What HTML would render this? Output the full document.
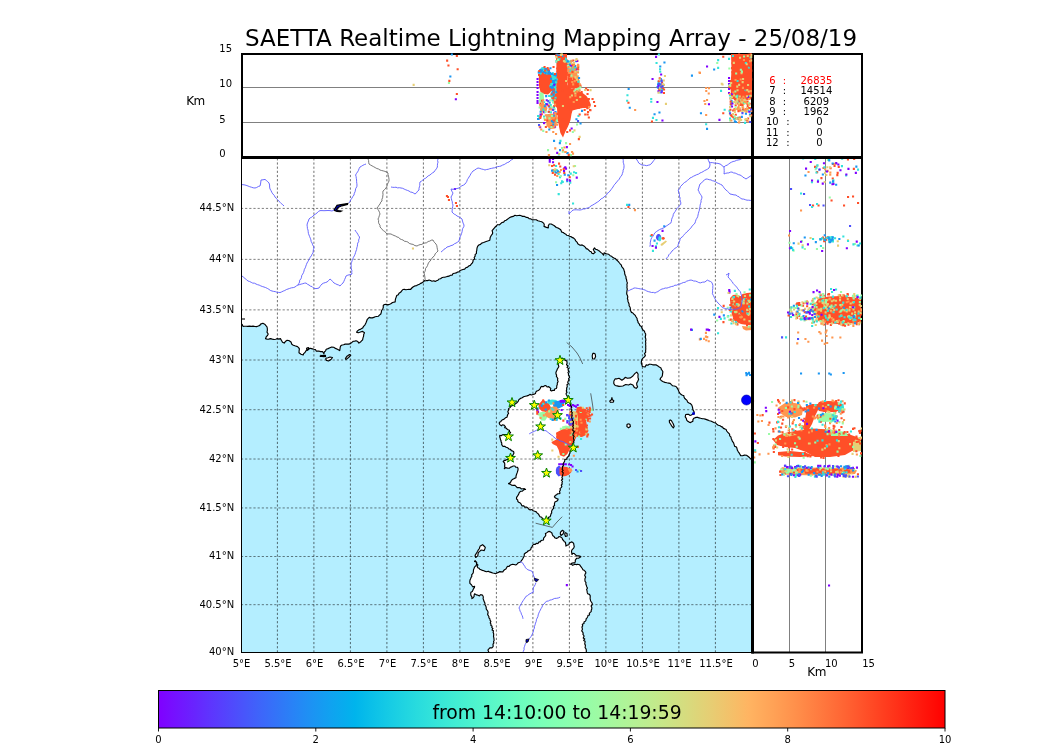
<!DOCTYPE html><html><head><meta charset="utf-8"><style>html,body{margin:0;padding:0;background:#fff;width:1050px;height:750px;overflow:hidden}svg{display:block}text{font-family:"DejaVu Sans","Liberation Sans",sans-serif}</style></head><body>
<svg width="1050" height="750" viewBox="0 0 1050 750">
<defs><linearGradient id="cb" x1="0" x2="1" y1="0" y2="0"><stop offset="0.0000" stop-color="#8000ff"/><stop offset="0.0156" stop-color="#780dff"/><stop offset="0.0312" stop-color="#7019ff"/><stop offset="0.0469" stop-color="#6825fe"/><stop offset="0.0625" stop-color="#6032fe"/><stop offset="0.0781" stop-color="#583efd"/><stop offset="0.0938" stop-color="#504afc"/><stop offset="0.1094" stop-color="#4856fb"/><stop offset="0.1250" stop-color="#4062fa"/><stop offset="0.1406" stop-color="#386df9"/><stop offset="0.1562" stop-color="#3078f7"/><stop offset="0.1719" stop-color="#2883f6"/><stop offset="0.1875" stop-color="#208ef4"/><stop offset="0.2031" stop-color="#1898f2"/><stop offset="0.2188" stop-color="#10a2f0"/><stop offset="0.2344" stop-color="#08abee"/><stop offset="0.2500" stop-color="#00b4ec"/><stop offset="0.2656" stop-color="#08bde9"/><stop offset="0.2812" stop-color="#10c5e7"/><stop offset="0.2969" stop-color="#18cde4"/><stop offset="0.3125" stop-color="#20d4e1"/><stop offset="0.3281" stop-color="#28dbde"/><stop offset="0.3438" stop-color="#30e1db"/><stop offset="0.3594" stop-color="#38e7d7"/><stop offset="0.3750" stop-color="#40ecd4"/><stop offset="0.3906" stop-color="#48f0d0"/><stop offset="0.4062" stop-color="#50f4cd"/><stop offset="0.4219" stop-color="#58f7c9"/><stop offset="0.4375" stop-color="#60fac5"/><stop offset="0.4531" stop-color="#68fcc1"/><stop offset="0.4688" stop-color="#70febd"/><stop offset="0.4844" stop-color="#78ffb9"/><stop offset="0.5000" stop-color="#80ffb4"/><stop offset="0.5156" stop-color="#87ffb0"/><stop offset="0.5312" stop-color="#8ffeab"/><stop offset="0.5469" stop-color="#97fca7"/><stop offset="0.5625" stop-color="#9ffaa2"/><stop offset="0.5781" stop-color="#a7f79d"/><stop offset="0.5938" stop-color="#aff498"/><stop offset="0.6094" stop-color="#b7f093"/><stop offset="0.6250" stop-color="#bfec8e"/><stop offset="0.6406" stop-color="#c7e788"/><stop offset="0.6562" stop-color="#cfe183"/><stop offset="0.6719" stop-color="#d7db7e"/><stop offset="0.6875" stop-color="#dfd478"/><stop offset="0.7031" stop-color="#e7cd73"/><stop offset="0.7188" stop-color="#efc56d"/><stop offset="0.7344" stop-color="#f7bd67"/><stop offset="0.7500" stop-color="#ffb462"/><stop offset="0.7656" stop-color="#ffab5c"/><stop offset="0.7812" stop-color="#ffa256"/><stop offset="0.7969" stop-color="#ff9850"/><stop offset="0.8125" stop-color="#ff8e4a"/><stop offset="0.8281" stop-color="#ff8344"/><stop offset="0.8438" stop-color="#ff783e"/><stop offset="0.8594" stop-color="#ff6d38"/><stop offset="0.8750" stop-color="#ff6232"/><stop offset="0.8906" stop-color="#ff562c"/><stop offset="0.9062" stop-color="#ff4a25"/><stop offset="0.9219" stop-color="#ff3e1f"/><stop offset="0.9375" stop-color="#ff3219"/><stop offset="0.9531" stop-color="#ff2513"/><stop offset="0.9688" stop-color="#ff190d"/><stop offset="0.9844" stop-color="#ff0d06"/><stop offset="1.0000" stop-color="#ff0000"/></linearGradient>
<clipPath id="mapclip"><rect x="241.0" y="157.0" width="511.0" height="495.5"/></clipPath>
<clipPath id="topclip"><rect x="243" y="53" width="509.4" height="104"/></clipPath>
<clipPath id="rightclip"><rect x="754" y="159" width="108" height="493"/></clipPath>
<symbol id="st" viewBox="-6 -6 12 12" overflow="visible"><polygon points="0.0,-4.7 1.2,-1.3 4.9,-1.2 1.9,1.0 3.0,4.5 0.0,2.4 -3.0,4.5 -1.9,1.0 -4.9,-1.2 -1.2,-1.3" fill="#ffff00" stroke="#008000" stroke-width="1.0" stroke-linejoin="miter"/></symbol>
</defs>
<text x="551" y="45.9" font-size="23" text-anchor="middle" fill="#000">SAETTA Realtime Lightning Mapping Array - 25/08/19</text>
<g clip-path="url(#mapclip)">
<rect x="241.0" y="157.0" width="511.0" height="495.5" fill="#b4eeff"/>
<polygon points="241.0,323.3 243.0,326.4 247.6,326.4 251.4,326.4 258.3,326.0 260.6,324.1 262.9,323.3 265.1,324.5 267.0,326.8 267.4,330.2 267.0,332.1 268.2,334.0 266.3,336.7 265.5,338.6 270.5,338.6 275.8,339.3 280.4,338.6 281.5,340.5 284.2,343.1 285.7,341.2 288.8,340.5 291.0,342.0 291.8,344.3 294.9,345.8 297.5,346.6 299.4,348.9 299.0,352.7 301.0,354.2 303.2,355.0 304.8,352.7 306.3,350.4 308.6,348.5 312.4,348.9 315.4,349.6 316.2,351.1 318.7,351.0 322.5,351.5 323.9,353.8 324.3,352.0 326.2,349.2 329.9,347.8 333.7,347.3 337.4,349.2 339.7,350.6 340.2,347.3 342.1,345.0 346.7,344.0 350.5,343.6 353.3,341.2 356.1,340.8 358.9,343.1 360.8,341.7 362.6,339.8 363.6,336.1 364.5,332.8 362.6,331.4 359.8,332.3 356.5,332.3 357.5,330.9 360.8,329.1 363.6,326.3 365.9,323.0 367.3,319.3 369.2,317.4 373.8,317.4 376.6,316.5 379.4,315.1 381.3,312.3 382.7,309.0 383.2,305.7 386.0,304.3 389.7,304.3 392.5,302.5 395.2,301.9 396.2,297.1 399.0,293.3 402.9,289.5 410.5,289.5 413.3,286.7 418.1,284.8 421.9,282.9 424.8,280.5 430.5,280.5 435.2,281.4 439.0,279.0 444.8,277.1 450.5,275.2 456.2,272.9 462.9,269.5 467.6,267.1 472.4,262.9 475.2,256.2 476.4,251.7 476.9,248.8 478.8,245.0 481.7,243.1 485.5,241.7 489.8,240.2 490.2,237.4 491.2,235.5 492.6,233.6 492.1,230.7 493.6,228.8 496.4,226.0 500.7,223.6 503.6,222.1 507.4,219.3 511.2,216.9 515.0,215.3 519.8,215.3 522.6,216.4 526.4,217.4 529.3,218.8 534.0,219.8 537.9,220.7 541.7,221.7 543.6,223.1 544.0,226.4 546.4,227.4 548.3,227.9 549.3,224.0 551.2,224.0 554.0,225.5 557.9,227.9 560.7,229.8 561.7,232.1 564.5,233.6 568.3,235.5 572.1,237.4 575.0,239.3 577.0,242.1 579.3,244.9 582.1,244.9 585.4,247.3 588.7,250.1 593.3,253.8 595.2,252.4 593.3,249.6 594.5,247.9 597.1,249.6 600.8,252.4 603.6,255.2 604.1,252.9 606.4,253.8 610.1,255.7 613.9,258.0 617.6,260.8 620.4,264.1 622.8,267.8 624.6,272.0 626.0,276.7 626.8,281.4 627.1,286.0 627.0,290.7 627.4,295.4 627.9,300.0 628.0,301.4 629.1,305.7 630.7,311.0 633.9,314.2 637.1,318.5 639.2,323.8 641.9,328.1 644.5,331.3 645.6,335.5 645.8,343.0 645.6,350.5 644.5,356.9 641.9,359.5 641.3,363.3 642.4,366.5 645.1,367.0 646.1,364.9 650.9,364.3 656.3,364.9 661.0,367.9 662.9,371.7 662.4,375.5 660.0,379.3 663.3,381.7 668.6,383.1 674.3,386.0 677.1,387.9 679.0,391.7 680.0,393.6 683.8,395.5 685.7,399.3 687.6,402.1 690.5,403.6 692.4,406.9 692.9,409.8 694.3,413.6 691.4,415.0 685.7,414.5 685.2,416.9 686.7,420.2 690.5,422.6 692.9,421.2 693.8,418.3 696.2,417.4 699.0,417.9 700.7,418.3 705.2,419.1 710.8,421.0 715.5,422.9 720.1,425.7 724.8,428.9 728.6,433.1 730.9,436.9 732.3,441.1 734.2,444.8 737.0,448.6 739.3,453.2 740.7,455.6 744.4,455.1 748.2,456.5 752.0,459.1 760.0,459.5 760.0,150.0 230.0,150.0 230.0,323.3" fill="#fff"/>
<polygon points="559.0,360.0 562.0,358.0 565.0,359.0 567.0,362.0 568.0,370.0 569.0,380.0 567.0,387.3 566.3,394.7 568.5,400.5 571.4,406.4 572.1,415.2 572.9,424.0 573.6,432.8 573.6,441.6 572.1,448.9 569.9,453.3 567.0,457.7 564.1,462.1 562.6,468.0 562.6,475.3 561.9,482.7 560.4,490.0 560.0,493.2 559.2,493.7 556.5,494.8 554.4,496.9 555.5,498.0 558.1,499.1 556.5,501.2 554.4,503.9 553.3,506.5 552.3,509.7 551.7,512.9 550.7,515.1 548.5,517.2 545.9,520.4 542.7,518.8 540.0,516.7 538.4,514.0 536.3,511.9 533.1,510.8 528.8,509.2 524.5,507.1 521.3,504.4 518.7,502.3 516.5,499.1 517.6,495.9 519.2,492.7 522.4,491.1 525.6,489.5 520.3,487.9 516.0,486.3 511.7,485.2 508.5,483.6 510.7,482.0 512.8,479.3 516.0,477.7 516.5,474.5 517.6,471.3 518.1,468.7 514.9,466.0 510.7,467.1 507.5,468.1 504.3,468.7 504.8,464.9 503.2,461.7 508.5,458.5 512.8,455.3 513.9,453.2 512.6,451.0 510.6,449.4 507.8,447.8 504.6,446.2 502.2,445.4 501.8,443.0 501.0,440.6 500.2,438.2 499.8,435.4 503.8,434.6 506.2,434.6 509.0,434.2 510.6,432.6 509.4,430.2 507.0,429.0 504.6,427.8 505.4,426.6 503.8,425.0 501.4,425.8 499.8,424.6 499.4,422.2 501.4,420.6 503.8,419.4 505.4,417.8 507.4,415.8 508.6,413.4 507.8,411.8 508.6,408.6 511.0,406.2 514.2,405.0 516.6,403.0 518.2,401.4 519.0,399.4 522.2,397.8 525.4,396.2 528.6,395.4 533.0,394.5 536.9,391.0 540.6,387.3 544.3,385.9 548.7,386.6 551.6,391.0 554.5,390.3 556.7,385.9 557.5,380.0 556.0,374.0 558.0,368.0 558.0,364.0" fill="#fff"/>
<polygon points="479.9,546.3 482.6,544.7 485.3,547.4 484.2,550.6 481.0,550.1 478.3,552.7 477.8,555.9 475.7,557.5 475.1,555.4 476.7,552.7 479.4,548.5" fill="#fff"/>
<polygon points="613.8,381.2 615.2,378.8 619.0,378.3 621.9,380.2 625.2,377.4 627.6,378.3 630.5,377.9 632.9,376.0 634.8,373.6 636.7,372.1 638.1,374.0 638.6,379.3 636.7,383.1 637.6,386.9 636.2,388.3 634.3,387.4 632.9,385.0 630.5,384.0 628.6,385.0 625.7,384.5 622.9,386.0 619.0,386.4 615.2,385.5 613.8,383.6" fill="#fff"/>
<polygon points="593.5,353.0 595.2,354.0 595.6,356.5 594.5,359.0 592.6,358.8 592.2,356.0 592.6,354.0" fill="#fff"/>
<polygon points="609.5,401.2 611.4,399.8 611.9,397.5 612.4,399.8 613.8,400.7 613.3,402.1 610.5,402.3" fill="#fff"/>
<polygon points="628.5,423.7 630.0,424.6 630.4,426.6 628.6,427.8 626.9,426.6 627.0,424.6" fill="#fff"/>
<polygon points="670.0,419.8 671.5,420.8 673.2,423.8 674.2,426.5 673.3,427.9 671.8,426.2 669.5,422.5 669.3,420.6" fill="#fff"/>
<polygon points="560.5,532.0 562.5,530.3 564.0,531.5 563.0,534.0 561.0,535.5 560.3,534.0" fill="#fff"/>
<polygon points="565.0,532.5 567.0,533.5 567.2,536.0 565.5,536.5 564.8,534.5" fill="#fff"/>
<polygon points="325.5,358.4 328.0,357.8 330.0,357.0 332.5,357.5 331.0,359.5 328.5,361.0 326.5,360.4" fill="#fff"/>
<polygon points="345.2,358.8 347.0,356.2 349.5,354.6 350.8,355.2 348.6,357.5 346.2,359.4" fill="#fff"/>
<polygon points="306.5,348.0 308.5,347.6 309.0,349.2 307.0,350.5" fill="#fff"/>
<polygon points="320.3,355.4 325.5,355.4 325.5,356.5 320.3,356.5" fill="#fff"/>
<polygon points="487.9,653.0 488.9,648.8 493.1,646.7 494.1,640.5 493.1,632.2 491.0,624.0 488.9,617.8 487.9,611.6 485.8,606.0 484.2,601.8 483.1,598.6 482.1,594.9 479.4,595.9 476.7,594.9 474.6,593.8 474.1,596.5 471.9,598.6 470.9,595.4 470.9,592.2 473.0,590.1 474.6,586.3 473.0,586.9 471.4,584.7 469.8,581.5 471.9,576.2 473.5,569.8 476.2,565.5 476.7,562.3 475.1,560.7 474.5,561.5 476.7,562.3 477.8,567.7 481.0,569.8 485.3,571.4 489.5,571.9 492.7,573.0 497.0,573.0 501.3,571.9 504.5,569.8 506.6,567.7 509.8,565.5 514.1,564.5 517.3,563.9 519.9,562.3 522.6,559.1 524.2,555.9 525.8,552.7 529.0,550.6 531.1,547.9 532.8,545.1 536.5,543.3 540.3,541.9 543.5,540.0 544.9,536.7 545.4,533.5 547.7,532.1 550.1,531.6 551.9,533.0 552.9,535.8 554.7,537.7 558.0,537.7 560.3,536.7 562.2,538.1 563.6,540.5 565.5,542.3 565.9,546.1 567.3,545.1 569.2,543.3 571.5,541.9 573.9,545.1 572.9,548.9 571.5,551.7 572.0,554.5 574.3,553.5 576.7,555.9 578.5,555.9 580.9,556.8 578.5,558.2 576.7,558.2 575.3,560.1 574.8,562.9 571.1,563.8 570.1,564.3 573.9,564.7 577.6,564.3 579.5,564.7 580.9,566.6 582.3,568.5 584.1,570.3 585.5,571.7 585.1,574.1 585.0,578.5 586.0,582.6 587.1,590.9 590.2,597.1 592.2,603.3 591.2,611.6 587.1,617.8 584.0,621.9 581.9,627.1 582.9,634.3 585.0,642.6 586.0,648.8 587.1,653.0 587.1,660.0 487.9,660.0" fill="#fff"/>
<line x1="240.9" y1="652.50" x2="752.0" y2="652.50" stroke="#000" stroke-opacity="0.5" stroke-width="1" stroke-dasharray="2.2,1.97"/>
<line x1="240.9" y1="604.68" x2="752.0" y2="604.68" stroke="#000" stroke-opacity="0.5" stroke-width="1" stroke-dasharray="2.2,1.97"/>
<line x1="240.9" y1="556.50" x2="752.0" y2="556.50" stroke="#000" stroke-opacity="0.5" stroke-width="1" stroke-dasharray="2.2,1.97"/>
<line x1="240.9" y1="507.95" x2="752.0" y2="507.95" stroke="#000" stroke-opacity="0.5" stroke-width="1" stroke-dasharray="2.2,1.97"/>
<line x1="240.9" y1="459.02" x2="752.0" y2="459.02" stroke="#000" stroke-opacity="0.5" stroke-width="1" stroke-dasharray="2.2,1.97"/>
<line x1="240.9" y1="409.71" x2="752.0" y2="409.71" stroke="#000" stroke-opacity="0.5" stroke-width="1" stroke-dasharray="2.2,1.97"/>
<line x1="240.9" y1="360.01" x2="752.0" y2="360.01" stroke="#000" stroke-opacity="0.5" stroke-width="1" stroke-dasharray="2.2,1.97"/>
<line x1="240.9" y1="309.89" x2="752.0" y2="309.89" stroke="#000" stroke-opacity="0.5" stroke-width="1" stroke-dasharray="2.2,1.97"/>
<line x1="240.9" y1="259.37" x2="752.0" y2="259.37" stroke="#000" stroke-opacity="0.5" stroke-width="1" stroke-dasharray="2.2,1.97"/>
<line x1="240.9" y1="208.41" x2="752.0" y2="208.41" stroke="#000" stroke-opacity="0.5" stroke-width="1" stroke-dasharray="2.2,1.97"/>
<line x1="240.9" y1="157.01" x2="752.0" y2="157.01" stroke="#000" stroke-opacity="0.5" stroke-width="1" stroke-dasharray="2.2,1.97"/>
<line x1="240.90" y1="652.5" x2="240.90" y2="157.0" stroke="#000" stroke-opacity="0.56" stroke-width="1" stroke-dasharray="2.2,1.97"/>
<line x1="277.40" y1="652.5" x2="277.40" y2="157.0" stroke="#000" stroke-opacity="0.56" stroke-width="1" stroke-dasharray="2.2,1.97"/>
<line x1="313.90" y1="652.5" x2="313.90" y2="157.0" stroke="#000" stroke-opacity="0.56" stroke-width="1" stroke-dasharray="2.2,1.97"/>
<line x1="350.40" y1="652.5" x2="350.40" y2="157.0" stroke="#000" stroke-opacity="0.56" stroke-width="1" stroke-dasharray="2.2,1.97"/>
<line x1="386.90" y1="652.5" x2="386.90" y2="157.0" stroke="#000" stroke-opacity="0.56" stroke-width="1" stroke-dasharray="2.2,1.97"/>
<line x1="423.40" y1="652.5" x2="423.40" y2="157.0" stroke="#000" stroke-opacity="0.56" stroke-width="1" stroke-dasharray="2.2,1.97"/>
<line x1="459.90" y1="652.5" x2="459.90" y2="157.0" stroke="#000" stroke-opacity="0.56" stroke-width="1" stroke-dasharray="2.2,1.97"/>
<line x1="496.40" y1="652.5" x2="496.40" y2="157.0" stroke="#000" stroke-opacity="0.56" stroke-width="1" stroke-dasharray="2.2,1.97"/>
<line x1="532.90" y1="652.5" x2="532.90" y2="157.0" stroke="#000" stroke-opacity="0.56" stroke-width="1" stroke-dasharray="2.2,1.97"/>
<line x1="569.40" y1="652.5" x2="569.40" y2="157.0" stroke="#000" stroke-opacity="0.56" stroke-width="1" stroke-dasharray="2.2,1.97"/>
<line x1="605.90" y1="652.5" x2="605.90" y2="157.0" stroke="#000" stroke-opacity="0.56" stroke-width="1" stroke-dasharray="2.2,1.97"/>
<line x1="642.40" y1="652.5" x2="642.40" y2="157.0" stroke="#000" stroke-opacity="0.56" stroke-width="1" stroke-dasharray="2.2,1.97"/>
<line x1="678.90" y1="652.5" x2="678.90" y2="157.0" stroke="#000" stroke-opacity="0.56" stroke-width="1" stroke-dasharray="2.2,1.97"/>
<line x1="715.40" y1="652.5" x2="715.40" y2="157.0" stroke="#000" stroke-opacity="0.56" stroke-width="1" stroke-dasharray="2.2,1.97"/>
<line x1="751.90" y1="652.5" x2="751.90" y2="157.0" stroke="#000" stroke-opacity="0.56" stroke-width="1" stroke-dasharray="2.2,1.97"/>
<polygon points="547.3,400.5 552.0,399.6 556.7,400.0 557.0,404.0 551.0,404.5 547.3,404.0" fill="#33e3da"/>
<polygon points="553.3,401.8 558.0,400.8 562.0,401.0 564.7,402.5 563.0,406.5 558.0,408.7 554.0,408.7 553.0,405.0" fill="#1a96f2"/>
<polygon points="559.3,400.3 563.0,399.6 566.0,400.3 565.5,402.7 560.0,402.7" fill="#8000ff"/>
<polygon points="539.3,412.5 543.0,411.8 547.3,412.5 547.5,417.0 545.0,420.7 541.0,420.5 539.3,417.0" fill="#99fca5"/>
<polygon points="550.7,417.5 554.0,416.8 558.0,417.2 557.5,420.7 552.0,421.0 550.5,419.5" fill="#1a96f2"/>
<polygon points="550.0,407.3 553.0,406.5 556.7,406.7 558.7,410.0 558.0,415.3 553.3,418.7 549.0,418.2 545.5,416.3 544.7,413.5 546.7,411.5" fill="#ff964f"/>
<polygon points="540.7,402.0 543.3,399.3 546.0,402.2 549.3,404.2 550.9,407.3 549.0,410.0 546.0,412.0 542.0,411.3 538.7,408.2 538.5,404.7" fill="#ff4f28"/>
<polygon points="576.7,407.3 581.0,406.5 584.0,408.0 586.0,411.5 589.5,413.0 591.0,416.0 588.0,418.0 586.0,421.0 587.0,426.0 588.5,431.0 586.0,435.0 582.0,437.0 577.0,436.7 575.3,430.0 575.3,418.0" fill="#ff4f28"/>
<polygon points="569.5,412.0 574.0,411.0 578.0,413.0 578.0,422.0 577.0,432.0 572.0,433.0 569.5,428.0" fill="#e6ce74"/>
<polygon points="562.0,426.5 566.0,425.5 570.0,426.5 569.5,431.0 562.5,431.0" fill="#99fca5"/>
<polygon points="556.0,432.7 562.0,429.5 568.0,428.7 573.3,428.5 576.7,431.0 576.5,436.7 573.3,443.3 570.0,448.7 567.3,454.0 564.0,456.7 560.0,455.3 558.7,450.0 556.7,446.0 552.7,444.0 551.3,442.0 554.0,440.7 556.7,439.3" fill="#ff4f28"/>
<polygon points="556.5,467.5 559.0,465.5 561.0,467.0 560.0,471.0 561.0,475.5 558.5,476.5 556.0,473.5 555.8,470.0" fill="#4d4ffc"/>
<polygon points="559.5,468.0 563.0,466.5 567.0,467.0 570.5,469.0 571.5,472.0 569.0,474.5 566.0,476.0 562.0,476.5 559.5,474.0" fill="#ff4f28"/>
<polygon points="567.5,468.5 571.5,468.3 572.5,471.0 569.5,472.5" fill="#ff964f"/>
<polygon points="661.2,237.3 661.1,238.2 660.9,239.0 660.4,239.6 659.9,240.2 659.3,240.5 658.6,240.6 657.9,240.5 657.3,240.2 656.8,239.6 656.3,239.0 656.1,238.2 656.0,237.3 656.1,236.4 656.3,235.7 656.8,235.0 657.3,234.4 657.9,234.1 658.6,234.0 659.3,234.1 659.9,234.4 660.4,235.0 660.9,235.7 661.1,236.4" fill="#4d4ffc"/>
<polygon points="661.4,238.8 661.3,239.5 661.2,240.1 660.9,240.6 660.6,241.1 660.2,241.3 659.8,241.4 659.4,241.3 659.0,241.1 658.7,240.6 658.4,240.1 658.3,239.5 658.2,238.8 658.3,238.1 658.4,237.5 658.7,237.0 659.0,236.5 659.4,236.3 659.8,236.2 660.2,236.3 660.6,236.5 660.9,237.0 661.2,237.5 661.3,238.1" fill="#33e3da"/>
<polygon points="664.9,238.4 664.8,238.7 664.7,239.1 664.4,239.3 664.1,239.5 663.6,239.7 663.2,239.7 662.8,239.7 662.4,239.5 662.0,239.3 661.7,239.1 661.6,238.7 661.5,238.4 661.6,238.1 661.7,237.8 662.0,237.5 662.4,237.3 662.8,237.1 663.2,237.1 663.6,237.1 664.1,237.3 664.4,237.5 664.7,237.8 664.8,238.1" fill="#ff4f28"/>
<polygon points="660.5,244.6 661.5,243.4 665.8,240.6 667.0,241.6 662.6,245.6 661.0,245.8" fill="#e6ce74"/>
<polygon points="730.0,298.0 733.0,295.0 737.0,294.5 740.5,296.5 742.5,294.0 747.0,293.0 752.0,292.5 752.0,325.5 748.0,325.0 744.0,324.5 741.0,324.0 737.5,322.5 734.0,319.5 732.0,315.0 731.0,310.0 730.5,305.0" fill="#ff4f28"/>
<polygon points="740.0,305.0 739.9,305.5 739.6,306.0 739.1,306.4 738.5,306.7 737.8,306.9 737.0,307.0 736.2,306.9 735.5,306.7 734.9,306.4 734.4,306.0 734.1,305.5 734.0,305.0 734.1,304.5 734.4,304.0 734.9,303.6 735.5,303.3 736.2,303.1 737.0,303.0 737.8,303.1 738.5,303.3 739.1,303.6 739.6,304.0 739.9,304.5" fill="#e6ce74"/>
<polygon points="747.5,300.0 747.4,300.5 747.2,300.9 746.8,301.3 746.2,301.6 745.6,301.7 745.0,301.8 744.4,301.7 743.8,301.6 743.2,301.3 742.8,300.9 742.6,300.5 742.5,300.0 742.6,299.5 742.8,299.1 743.2,298.7 743.8,298.4 744.4,298.3 745.0,298.2 745.6,298.3 746.2,298.4 746.8,298.7 747.2,299.1 747.4,299.5" fill="#e6ce74"/>
<polygon points="750.5,313.0 750.4,313.8 750.2,314.5 749.9,315.1 749.5,315.6 749.0,315.9 748.5,316.0 748.0,315.9 747.5,315.6 747.1,315.1 746.8,314.5 746.6,313.8 746.5,313.0 746.6,312.2 746.8,311.5 747.1,310.9 747.5,310.4 748.0,310.1 748.5,310.0 749.0,310.1 749.5,310.4 749.9,310.9 750.2,311.5 750.4,312.2" fill="#e6ce74"/>
<polygon points="743.0,317.0 742.9,317.4 742.7,317.8 742.4,318.1 742.0,318.3 741.5,318.4 741.0,318.5 740.5,318.4 740.0,318.3 739.6,318.1 739.3,317.8 739.1,317.4 739.0,317.0 739.1,316.6 739.3,316.2 739.6,315.9 740.0,315.7 740.5,315.6 741.0,315.5 741.5,315.6 742.0,315.7 742.4,315.9 742.7,316.2 742.9,316.6" fill="#ff964f"/>
<polygon points="742.0,326.0 747.0,326.5 751.0,325.5 752.0,326.0 752.0,330.0 746.0,330.5 743.0,329.0" fill="#ff964f"/>
<path d="M552.3 402.3h2.1v2.1h-2.1zM546.2 412.7h2.1v2.1h-2.1zM554.4 409.3h2.1v2.1h-2.1zM552.5 413.4h2.1v2.1h-2.1zM539.5 417.0h2.1v2.1h-2.1zM553.9 418.8h2.1v2.1h-2.1zM542.8 414.3h2.1v2.1h-2.1zM549.2 410.8h2.1v2.1h-2.1zM579.6 418.7h2.1v2.1h-2.1zM575.9 429.4h2.1v2.1h-2.1zM586.6 413.6h2.1v2.1h-2.1zM576.0 426.4h2.1v2.1h-2.1zM574.7 435.0h2.1v2.1h-2.1zM588.7 420.4h2.1v2.1h-2.1zM586.3 433.4h2.1v2.1h-2.1zM580.4 421.7h2.1v2.1h-2.1zM579.1 431.5h2.1v2.1h-2.1zM584.9 432.8h2.1v2.1h-2.1zM570.6 430.4h2.1v2.1h-2.1zM574.9 414.4h2.1v2.1h-2.1zM573.9 418.8h2.1v2.1h-2.1zM576.0 429.1h2.1v2.1h-2.1zM565.6 427.8h2.1v2.1h-2.1zM575.0 434.0h2.1v2.1h-2.1zM572.8 454.7h2.1v2.1h-2.1zM552.2 168.9h2.1v2.1h-2.1zM558.7 170.9h2.1v2.1h-2.1zM560.0 168.9h2.1v2.1h-2.1zM556.2 174.9h2.1v2.1h-2.1zM556.5 171.9h2.1v2.1h-2.1zM554.0 169.9h2.1v2.1h-2.1zM552.5 170.9h2.1v2.1h-2.1zM633.9 209.1h2.1v2.1h-2.1zM704.9 331.8h2.1v2.1h-2.1zM704.9 335.6h2.1v2.1h-2.1zM706.2 336.1h2.1v2.1h-2.1zM703.0 337.8h2.1v2.1h-2.1zM698.8 338.3h2.1v2.1h-2.1zM707.7 340.2h2.1v2.1h-2.1zM705.2 339.2h2.1v2.1h-2.1z" fill="#ff964f"/>
<path d="M537.1 407.2h2.1v2.1h-2.1zM549.6 402.4h2.1v2.1h-2.1zM542.2 402.8h2.1v2.1h-2.1zM552.2 408.7h2.1v2.1h-2.1zM555.6 418.5h2.1v2.1h-2.1zM550.6 407.4h2.1v2.1h-2.1zM559.8 417.4h2.1v2.1h-2.1zM549.7 417.9h2.1v2.1h-2.1zM553.0 413.2h2.1v2.1h-2.1zM572.1 417.5h2.1v2.1h-2.1zM568.2 419.7h2.1v2.1h-2.1zM580.0 437.9h2.1v2.1h-2.1zM555.0 164.9h2.1v2.1h-2.1zM555.7 168.9h2.1v2.1h-2.1zM559.0 176.2h2.1v2.1h-2.1zM561.0 180.2h2.1v2.1h-2.1zM560.2 182.2h2.1v2.1h-2.1zM561.7 180.9h2.1v2.1h-2.1zM569.7 172.6h2.1v2.1h-2.1zM569.2 181.6h2.1v2.1h-2.1zM573.0 171.2h2.1v2.1h-2.1zM575.0 171.9h2.1v2.1h-2.1zM557.7 193.2h2.1v2.1h-2.1zM553.5 170.4h2.1v2.1h-2.1zM557.5 172.9h2.1v2.1h-2.1zM626.0 203.8h2.1v2.1h-2.1zM572.0 202.5h2.1v2.1h-2.1zM557.6 192.9h2.1v2.1h-2.1zM649.8 235.0h2.1v2.1h-2.1zM655.9 242.4h2.1v2.1h-2.1zM654.9 245.2h2.1v2.1h-2.1zM651.9 249.8h2.1v2.1h-2.1zM717.0 307.1h2.1v2.1h-2.1zM719.8 317.8h2.1v2.1h-2.1zM723.5 317.3h2.1v2.1h-2.1zM727.2 315.1h2.1v2.1h-2.1zM731.9 319.6h2.1v2.1h-2.1zM735.7 322.4h2.1v2.1h-2.1zM717.0 332.2h2.1v2.1h-2.1zM748.7 288.4h2.1v2.1h-2.1zM748.0 305.5h2.1v2.1h-2.1zM732.2 296.5h2.1v2.1h-2.1zM730.2 310.3h2.1v2.1h-2.1zM746.4 312.4h2.1v2.1h-2.1zM734.8 320.7h2.1v2.1h-2.1zM730.4 322.4h2.1v2.1h-2.1zM733.8 289.8h2.1v2.1h-2.1zM729.5 310.4h2.1v2.1h-2.1zM743.9 297.8h2.1v2.1h-2.1zM732.9 296.1h2.1v2.1h-2.1zM735.5 303.5h2.1v2.1h-2.1zM750.1 298.7h2.1v2.1h-2.1zM745.6 299.3h2.1v2.1h-2.1z" fill="#33e3da"/>
<path d="M545.1 401.3h2.1v2.1h-2.1zM540.8 404.6h2.1v2.1h-2.1zM544.7 408.5h2.1v2.1h-2.1zM547.9 399.4h2.1v2.1h-2.1zM571.2 417.3h2.1v2.1h-2.1zM570.1 422.1h2.1v2.1h-2.1zM569.1 422.9h2.1v2.1h-2.1zM576.5 470.4h2.1v2.1h-2.1zM563.7 173.6h2.1v2.1h-2.1zM551.0 169.6h2.1v2.1h-2.1zM557.0 170.2h2.1v2.1h-2.1zM556.0 183.9h2.1v2.1h-2.1zM567.2 174.2h2.1v2.1h-2.1zM566.2 180.2h2.1v2.1h-2.1zM555.0 171.4h2.1v2.1h-2.1zM628.2 203.8h2.1v2.1h-2.1zM663.2 225.2h2.1v2.1h-2.1zM653.5 239.6h2.1v2.1h-2.1zM713.2 313.6h2.1v2.1h-2.1zM722.8 314.3h2.1v2.1h-2.1zM690.9 328.8h2.1v2.1h-2.1zM699.7 337.8h2.1v2.1h-2.1zM745.2 371.9h2.1v2.1h-2.1zM746.5 372.9h2.1v2.1h-2.1zM748.0 371.8h2.1v2.1h-2.1zM749.0 373.9h2.1v2.1h-2.1zM745.5 374.1h2.1v2.1h-2.1zM741.4 310.3h2.1v2.1h-2.1zM745.1 309.2h2.1v2.1h-2.1zM750.0 298.4h2.1v2.1h-2.1zM750.4 320.1h2.1v2.1h-2.1zM729.5 306.8h2.1v2.1h-2.1z" fill="#1a96f2"/>
<path d="M560.6 409.0h2.1v2.1h-2.1zM567.0 403.9h2.1v2.1h-2.1zM568.6 404.8h2.1v2.1h-2.1zM570.2 405.6h2.1v2.1h-2.1zM571.8 403.9h2.1v2.1h-2.1zM573.4 404.8h2.1v2.1h-2.1zM575.0 405.6h2.1v2.1h-2.1zM576.6 403.9h2.1v2.1h-2.1zM536.2 409.4h2.1v2.1h-2.1zM537.0 410.8h2.1v2.1h-2.1zM535.8 407.9h2.1v2.1h-2.1zM572.1 424.3h2.1v2.1h-2.1zM570.3 414.8h2.1v2.1h-2.1zM566.3 421.5h2.1v2.1h-2.1zM566.2 414.1h2.1v2.1h-2.1zM569.6 423.7h2.1v2.1h-2.1zM570.9 415.0h2.1v2.1h-2.1zM572.0 422.6h2.1v2.1h-2.1zM569.7 418.7h2.1v2.1h-2.1zM558.2 463.2h2.1v2.1h-2.1zM559.5 463.2h2.1v2.1h-2.1zM560.9 463.2h2.1v2.1h-2.1zM562.1 463.2h2.1v2.1h-2.1zM563.5 463.2h2.1v2.1h-2.1zM564.8 463.2h2.1v2.1h-2.1zM568.0 463.4h2.1v2.1h-2.1zM570.0 463.9h2.1v2.1h-2.1zM571.5 465.4h2.1v2.1h-2.1zM548.7 158.9h2.1v2.1h-2.1zM548.7 160.6h2.1v2.1h-2.1zM552.0 157.9h2.1v2.1h-2.1zM552.0 161.2h2.1v2.1h-2.1zM564.2 166.2h2.1v2.1h-2.1zM565.0 167.6h2.1v2.1h-2.1zM563.5 166.9h2.1v2.1h-2.1zM563.0 169.9h2.1v2.1h-2.1zM566.2 178.6h2.1v2.1h-2.1zM569.0 179.6h2.1v2.1h-2.1zM575.7 176.6h2.1v2.1h-2.1zM453.9 187.9h2.1v2.1h-2.1zM661.5 229.8h2.1v2.1h-2.1zM651.5 245.0h2.1v2.1h-2.1zM654.9 246.6h2.1v2.1h-2.1zM728.2 288.9h2.1v2.1h-2.1zM728.5 290.4h2.1v2.1h-2.1zM728.2 291.6h2.1v2.1h-2.1zM718.4 315.8h2.1v2.1h-2.1zM706.7 328.6h2.1v2.1h-2.1zM708.1 329.1h2.1v2.1h-2.1zM690.0 328.6h2.1v2.1h-2.1zM705.7 328.6h2.1v2.1h-2.1zM565.8 584.1h2.1v2.1h-2.1z" fill="#8000ff"/>
<path d="M548.2 410.3h2.1v2.1h-2.1zM537.7 413.3h2.1v2.1h-2.1zM564.2 417.8h2.1v2.1h-2.1zM586.6 433.0h2.1v2.1h-2.1zM590.9 408.8h2.1v2.1h-2.1zM588.7 411.0h2.1v2.1h-2.1zM579.7 410.9h2.1v2.1h-2.1zM585.0 418.7h2.1v2.1h-2.1zM585.4 427.5h2.1v2.1h-2.1zM562.3 453.0h2.1v2.1h-2.1zM569.7 434.4h2.1v2.1h-2.1zM564.7 443.3h2.1v2.1h-2.1zM571.5 432.6h2.1v2.1h-2.1zM559.8 427.8h2.1v2.1h-2.1zM578.0 435.4h2.1v2.1h-2.1zM578.5 468.9h2.1v2.1h-2.1zM559.7 174.9h2.1v2.1h-2.1zM555.0 181.2h2.1v2.1h-2.1zM572.2 174.2h2.1v2.1h-2.1zM574.0 164.9h2.1v2.1h-2.1zM716.1 319.4h2.1v2.1h-2.1zM728.2 318.8h2.1v2.1h-2.1zM741.4 300.3h2.1v2.1h-2.1zM733.8 311.0h2.1v2.1h-2.1zM735.5 293.1h2.1v2.1h-2.1zM738.6 312.8h2.1v2.1h-2.1zM737.6 295.3h2.1v2.1h-2.1zM742.5 302.0h2.1v2.1h-2.1zM734.6 311.2h2.1v2.1h-2.1zM726.7 306.7h2.1v2.1h-2.1zM732.5 303.2h2.1v2.1h-2.1zM750.3 325.1h2.1v2.1h-2.1zM749.0 294.3h2.1v2.1h-2.1zM743.5 291.2h2.1v2.1h-2.1zM746.2 297.9h2.1v2.1h-2.1zM731.2 299.3h2.1v2.1h-2.1zM747.6 325.7h2.1v2.1h-2.1zM748.6 300.8h2.1v2.1h-2.1zM726.7 315.6h2.1v2.1h-2.1z" fill="#99fca5"/>
<path d="M542.1 399.4h2.1v2.1h-2.1zM562.3 419.6h2.1v2.1h-2.1zM536.2 412.7h2.1v2.1h-2.1zM562.1 404.0h2.1v2.1h-2.1zM536.2 410.7h2.1v2.1h-2.1zM579.1 413.0h2.1v2.1h-2.1zM586.8 419.6h2.1v2.1h-2.1zM586.2 409.8h2.1v2.1h-2.1zM585.7 407.2h2.1v2.1h-2.1zM580.5 430.6h2.1v2.1h-2.1zM578.6 425.7h2.1v2.1h-2.1zM579.2 428.8h2.1v2.1h-2.1zM575.0 414.7h2.1v2.1h-2.1zM589.0 408.1h2.1v2.1h-2.1zM575.2 422.8h2.1v2.1h-2.1zM585.6 414.8h2.1v2.1h-2.1zM575.6 411.4h2.1v2.1h-2.1zM583.1 415.6h2.1v2.1h-2.1zM575.0 415.3h2.1v2.1h-2.1zM575.6 427.6h2.1v2.1h-2.1zM588.8 409.0h2.1v2.1h-2.1zM580.0 409.9h2.1v2.1h-2.1zM580.1 431.3h2.1v2.1h-2.1zM587.0 433.5h2.1v2.1h-2.1zM583.9 419.6h2.1v2.1h-2.1zM583.2 422.3h2.1v2.1h-2.1zM585.9 424.4h2.1v2.1h-2.1zM588.3 410.5h2.1v2.1h-2.1zM586.2 435.3h2.1v2.1h-2.1zM577.4 413.4h2.1v2.1h-2.1zM588.6 406.8h2.1v2.1h-2.1zM569.6 410.9h2.1v2.1h-2.1zM569.5 410.7h2.1v2.1h-2.1zM568.4 423.1h2.1v2.1h-2.1zM575.3 420.9h2.1v2.1h-2.1zM573.6 431.4h2.1v2.1h-2.1zM569.2 414.1h2.1v2.1h-2.1zM572.0 424.6h2.1v2.1h-2.1zM565.5 432.5h2.1v2.1h-2.1zM569.4 435.8h2.1v2.1h-2.1zM573.2 427.2h2.1v2.1h-2.1zM561.1 442.8h2.1v2.1h-2.1zM556.3 435.9h2.1v2.1h-2.1zM569.5 449.4h2.1v2.1h-2.1zM576.7 445.8h2.1v2.1h-2.1zM584.0 408.9h2.1v2.1h-2.1zM588.5 410.9h2.1v2.1h-2.1zM589.5 414.4h2.1v2.1h-2.1zM587.0 417.9h2.1v2.1h-2.1zM584.0 421.9h2.1v2.1h-2.1zM585.5 426.9h2.1v2.1h-2.1zM583.0 430.9h2.1v2.1h-2.1zM582.5 430.9h2.1v2.1h-2.1zM591.0 413.4h2.1v2.1h-2.1zM589.0 417.4h2.1v2.1h-2.1zM551.0 164.9h2.1v2.1h-2.1zM553.0 164.2h2.1v2.1h-2.1zM558.0 162.6h2.1v2.1h-2.1zM559.2 165.4h2.1v2.1h-2.1zM562.7 167.9h2.1v2.1h-2.1zM563.2 171.9h2.1v2.1h-2.1zM551.7 171.9h2.1v2.1h-2.1zM554.0 173.6h2.1v2.1h-2.1zM568.7 176.2h2.1v2.1h-2.1zM445.9 194.9h2.1v2.1h-2.1zM446.9 195.9h2.1v2.1h-2.1zM447.9 198.9h2.1v2.1h-2.1zM454.9 201.9h2.1v2.1h-2.1zM455.9 204.9h2.1v2.1h-2.1zM627.4 206.0h2.1v2.1h-2.1zM650.7 234.0h2.1v2.1h-2.1zM722.6 304.8h2.1v2.1h-2.1zM722.4 321.1h2.1v2.1h-2.1zM745.0 298.6h2.1v2.1h-2.1zM734.3 318.8h2.1v2.1h-2.1zM734.5 318.6h2.1v2.1h-2.1zM731.5 307.7h2.1v2.1h-2.1zM728.8 308.9h2.1v2.1h-2.1zM736.4 323.3h2.1v2.1h-2.1zM729.3 303.9h2.1v2.1h-2.1zM745.2 315.3h2.1v2.1h-2.1zM746.9 297.6h2.1v2.1h-2.1zM729.8 318.6h2.1v2.1h-2.1zM741.8 306.9h2.1v2.1h-2.1zM740.1 306.5h2.1v2.1h-2.1zM740.8 312.8h2.1v2.1h-2.1zM749.1 318.7h2.1v2.1h-2.1zM746.0 324.1h2.1v2.1h-2.1zM734.5 298.4h2.1v2.1h-2.1zM731.1 299.1h2.1v2.1h-2.1zM735.5 295.9h2.1v2.1h-2.1zM734.8 299.6h2.1v2.1h-2.1zM744.8 309.0h2.1v2.1h-2.1zM735.7 299.0h2.1v2.1h-2.1zM735.0 307.0h2.1v2.1h-2.1zM733.2 314.4h2.1v2.1h-2.1zM733.7 302.9h2.1v2.1h-2.1zM747.0 321.6h2.1v2.1h-2.1zM737.0 318.6h2.1v2.1h-2.1zM743.6 320.8h2.1v2.1h-2.1zM731.2 319.7h2.1v2.1h-2.1zM736.6 300.3h2.1v2.1h-2.1zM750.4 302.1h2.1v2.1h-2.1zM735.5 305.4h2.1v2.1h-2.1zM743.7 295.9h2.1v2.1h-2.1zM730.7 301.7h2.1v2.1h-2.1zM738.5 314.2h2.1v2.1h-2.1zM747.0 310.4h2.1v2.1h-2.1zM742.9 309.0h2.1v2.1h-2.1zM730.1 299.1h2.1v2.1h-2.1zM734.7 300.3h2.1v2.1h-2.1zM739.2 299.5h2.1v2.1h-2.1zM733.7 303.3h2.1v2.1h-2.1zM744.2 309.1h2.1v2.1h-2.1zM744.8 300.0h2.1v2.1h-2.1zM732.1 311.6h2.1v2.1h-2.1zM735.2 322.8h2.1v2.1h-2.1zM732.8 317.4h2.1v2.1h-2.1zM739.7 311.9h2.1v2.1h-2.1zM739.0 296.2h2.1v2.1h-2.1z" fill="#ff4f28"/>
<path d="M568.7 422.9h2.1v2.1h-2.1zM568.2 415.2h2.1v2.1h-2.1zM566.3 420.0h2.1v2.1h-2.1zM568.0 417.2h2.1v2.1h-2.1zM571.5 417.4h2.1v2.1h-2.1zM569.5 418.3h2.1v2.1h-2.1zM568.8 420.8h2.1v2.1h-2.1zM568.5 422.4h2.1v2.1h-2.1zM566.4 414.2h2.1v2.1h-2.1zM575.0 468.9h2.1v2.1h-2.1zM580.0 469.9h2.1v2.1h-2.1z" fill="#4d4ffc"/>
<path d="M576.6 425.5h2.1v2.1h-2.1zM581.8 406.7h2.1v2.1h-2.1zM585.5 428.5h2.1v2.1h-2.1zM573.8 425.9h2.1v2.1h-2.1zM569.8 420.9h2.1v2.1h-2.1zM573.7 424.1h2.1v2.1h-2.1zM570.5 416.0h2.1v2.1h-2.1zM574.8 412.5h2.1v2.1h-2.1zM572.8 428.5h2.1v2.1h-2.1zM572.6 414.4h2.1v2.1h-2.1zM557.5 455.7h2.1v2.1h-2.1zM551.2 438.6h2.1v2.1h-2.1zM572.7 436.5h2.1v2.1h-2.1zM569.2 441.0h2.1v2.1h-2.1zM551.3 449.4h2.1v2.1h-2.1zM548.2 164.2h2.1v2.1h-2.1zM554.2 168.2h2.1v2.1h-2.1zM572.7 165.2h2.1v2.1h-2.1zM411.9 247.5h2.1v2.1h-2.1zM720.7 311.2h2.1v2.1h-2.1zM746.3 302.5h2.1v2.1h-2.1zM730.0 314.3h2.1v2.1h-2.1zM748.0 299.8h2.1v2.1h-2.1zM736.4 295.0h2.1v2.1h-2.1zM727.5 291.9h2.1v2.1h-2.1zM743.9 294.9h2.1v2.1h-2.1zM731.3 297.8h2.1v2.1h-2.1zM732.5 322.1h2.1v2.1h-2.1zM735.1 323.1h2.1v2.1h-2.1zM748.4 320.1h2.1v2.1h-2.1zM733.1 300.4h2.1v2.1h-2.1zM730.7 308.4h2.1v2.1h-2.1zM735.4 310.8h2.1v2.1h-2.1zM743.3 318.4h2.1v2.1h-2.1zM742.4 302.5h2.1v2.1h-2.1zM731.3 319.7h2.1v2.1h-2.1zM748.8 308.1h2.1v2.1h-2.1zM746.1 308.8h2.1v2.1h-2.1z" fill="#e6ce74"/>
<polyline points="241.0,323.3 242.3,324.7 243.0,326.4 244.5,326.3 246.1,326.2 247.6,326.4 249.5,326.1 251.4,326.4 253.1,326.1 254.9,326.5 256.6,326.6 258.3,326.0 259.8,325.4 260.6,324.1 262.9,323.3 265.1,324.5 265.9,325.7 267.0,326.8 267.3,328.5 267.4,330.2 267.0,332.1 268.2,334.0 267.5,335.5 266.3,336.7 265.5,338.6 267.2,339.2 268.8,339.1 270.5,338.6 272.2,339.1 274.0,339.5 275.8,339.3 277.3,338.6 278.9,339.1 280.4,338.6 281.5,340.5 282.5,342.2 284.2,343.1 285.7,341.2 287.1,340.3 288.8,340.5 291.0,342.0 291.8,344.3 293.3,345.2 294.9,345.8 297.5,346.6 298.6,347.6 299.4,348.9 299.1,350.8 299.0,352.7 301.0,354.2 303.2,355.0 303.6,353.6 304.8,352.7 306.3,350.4 307.6,349.6 308.6,348.5 310.5,348.4 312.4,348.9 313.9,349.3 315.4,349.6 316.2,351.1 318.7,351.0 320.6,351.6 322.5,351.5 323.9,353.8 324.3,352.0 325.6,350.8 326.2,349.2 328.1,348.6 329.9,347.8 331.7,347.0 333.7,347.3 335.5,348.4 337.4,349.2 339.7,350.6 340.0,349.0 340.2,347.3 340.8,345.8 342.1,345.0 343.6,344.7 345.1,344.1 346.7,344.0 348.6,344.1 350.5,343.6 351.9,342.4 353.3,341.2 354.7,341.1 356.1,340.8 357.8,341.6 358.9,343.1 360.8,341.7 362.6,339.8 363.0,337.9 363.6,336.1 363.7,334.4 364.5,332.8 362.6,331.4 361.2,331.8 359.8,332.3 358.1,332.8 356.5,332.3 357.5,330.9 359.0,329.7 360.8,329.1 362.6,328.1 363.6,326.3 365.0,324.8 365.9,323.0 366.6,321.2 367.3,319.3 369.2,317.4 370.7,317.9 372.3,317.9 373.8,317.4 375.1,316.7 376.6,316.5 378.3,316.3 379.4,315.1 380.8,314.0 381.3,312.3 381.6,310.5 382.7,309.0 383.3,307.4 383.2,305.7 384.3,304.5 386.0,304.3 387.9,304.9 389.7,304.3 391.2,303.5 392.5,302.5 395.2,301.9 395.3,300.2 395.6,298.6 396.2,297.1 396.7,295.5 398.3,294.7 399.0,293.3 400.6,292.3 401.7,290.9 402.9,289.5 404.4,289.4 405.9,289.7 407.5,289.5 409.0,289.4 410.5,289.5 411.8,288.0 413.3,286.7 414.8,285.9 416.6,285.6 418.1,284.8 419.4,284.3 420.6,283.4 421.9,282.9 423.4,281.7 424.8,280.5 426.2,280.5 427.6,280.6 429.1,280.0 430.5,280.5 432.0,281.2 433.7,280.8 435.2,281.4 436.5,280.7 438.0,280.2 439.0,279.0 440.5,278.7 441.8,277.7 443.3,277.3 444.8,277.1 446.3,276.8 447.7,276.4 449.2,276.1 450.5,275.2 452.1,275.1 453.1,273.5 454.7,273.2 456.2,272.9 457.5,272.1 459.0,271.7 460.0,270.5 461.5,270.0 462.9,269.5 464.7,269.1 465.9,267.7 467.6,267.1 468.7,266.0 470.3,265.4 471.3,264.0 472.4,262.9 473.0,261.6 473.1,260.0 474.6,259.1 474.2,257.3 475.2,256.2 475.1,254.6 476.5,253.3 476.4,251.7 476.8,250.3 476.9,248.8 477.2,247.4 477.8,246.1 478.8,245.0 480.5,244.4 481.7,243.1 483.6,242.5 485.5,241.7 486.9,241.2 488.4,240.8 489.8,240.2 490.0,238.8 490.2,237.4 491.2,235.5 492.6,233.6 492.6,232.1 492.1,230.7 493.6,228.8 494.9,227.3 496.4,226.0 497.5,224.7 499.5,224.8 500.7,223.6 502.0,222.5 503.6,222.1 504.6,220.8 506.1,220.2 507.4,219.3 508.6,218.4 509.8,217.5 511.2,216.9 513.2,216.4 515.0,215.3 516.6,215.7 518.2,215.5 519.8,215.3 521.2,215.8 522.6,216.4 524.6,216.4 526.4,217.4 528.1,217.6 529.3,218.8 530.9,218.9 532.3,219.9 534.0,219.8 536.1,219.7 537.9,220.7 539.8,221.3 541.7,221.7 543.6,223.1 544.3,224.7 544.0,226.4 546.4,227.4 548.3,227.9 548.3,225.8 549.3,224.0 551.2,224.0 552.6,224.8 554.0,225.5 555.2,226.5 556.3,227.5 557.9,227.9 559.3,228.8 560.7,229.8 561.7,232.1 563.3,232.5 564.5,233.6 565.8,234.2 566.8,235.3 568.3,235.5 569.5,236.2 570.9,236.6 572.1,237.4 573.7,238.1 575.0,239.3 575.7,240.9 577.0,242.1 577.8,243.8 579.3,244.9 580.7,245.3 582.1,244.9 583.9,245.9 585.4,247.3 586.2,248.6 587.7,249.1 588.7,250.1 589.7,251.2 591.2,251.7 591.9,253.2 593.3,253.8 595.2,252.4 594.1,251.1 593.3,249.6 594.5,247.9 595.5,249.2 597.1,249.6 598.4,250.5 599.7,251.3 600.8,252.4 602.4,253.6 603.6,255.2 604.1,252.9 606.4,253.8 608.5,254.2 610.1,255.7 611.5,256.2 612.6,257.3 613.9,258.0 615.4,258.6 616.4,259.8 617.6,260.8 618.6,261.8 619.5,263.0 620.4,264.1 621.4,265.2 621.7,266.7 622.8,267.8 623.7,269.1 624.1,270.6 624.6,272.0 624.7,273.7 625.2,275.2 626.0,276.7 626.0,278.3 626.6,279.8 626.8,281.4 627.4,282.9 626.9,284.5 627.1,286.0 626.9,287.6 627.3,289.1 627.0,290.7 626.8,292.3 626.7,293.9 627.4,295.4 627.8,296.9 627.4,298.5 627.9,300.0 628.0,301.4 628.6,302.8 629.1,304.2 629.1,305.7 630.1,307.3 630.4,309.2 630.7,311.0 631.5,312.4 632.9,313.0 633.9,314.2 635.3,315.4 636.1,317.0 637.1,318.5 637.2,320.0 637.9,321.3 638.1,322.7 639.2,323.8 639.8,325.4 641.4,326.4 641.9,328.1 642.9,329.9 644.5,331.3 644.9,332.7 645.7,334.0 645.6,335.5 645.2,337.0 645.7,338.5 645.9,340.0 645.5,341.5 645.8,343.0 645.6,344.5 645.8,346.0 645.7,347.5 645.8,349.0 645.6,350.5 645.7,352.2 644.5,353.6 645.4,355.4 644.5,356.9 643.0,358.0 641.9,359.5 641.4,361.4 641.3,363.3 641.9,364.9 642.4,366.5 645.1,367.0 646.1,364.9 647.8,365.2 649.3,364.2 650.9,364.3 652.7,364.8 654.5,364.8 656.3,364.9 657.9,365.9 659.3,367.1 661.0,367.9 661.3,369.3 662.2,370.5 662.9,371.7 662.6,373.6 662.4,375.5 661.8,376.9 660.7,377.9 660.0,379.3 661.5,380.7 663.3,381.7 665.0,382.4 666.8,382.8 668.6,383.1 670.2,383.4 671.4,384.7 672.6,385.8 674.3,386.0 676.0,386.5 677.1,387.9 677.8,389.1 678.5,390.4 679.0,391.7 680.0,393.6 681.2,394.4 682.4,395.2 683.8,395.5 684.0,397.0 684.6,398.3 685.7,399.3 687.0,400.4 687.6,402.1 689.0,403.0 690.5,403.6 691.8,405.1 692.4,406.9 692.7,408.3 692.9,409.8 694.0,411.6 694.3,413.6 692.8,414.1 691.4,415.0 689.9,415.4 688.6,414.3 687.1,414.4 685.7,414.5 685.2,416.9 686.3,418.4 686.7,420.2 687.8,421.3 689.1,422.1 690.5,422.6 692.9,421.2 692.9,419.6 693.8,418.3 696.2,417.4 697.7,417.2 699.0,417.9 700.7,418.3 702.2,418.6 703.7,418.7 705.2,419.1 706.6,419.6 708.0,420.1 709.3,420.7 710.8,421.0 712.3,421.7 713.9,422.5 715.5,422.9 716.8,424.2 718.3,425.3 720.1,425.7 721.2,426.6 722.6,427.1 723.4,428.4 724.8,428.9 726.2,429.6 726.7,431.0 727.6,432.1 728.6,433.1 729.6,434.2 729.7,435.9 730.9,436.9 731.2,438.4 731.8,439.7 732.3,441.1 733.6,442.8 734.2,444.8 734.7,446.4 736.5,447.0 737.0,448.6 737.4,450.3 738.3,451.8 739.3,453.2 740.7,455.6 742.6,455.7 744.4,455.1 746.5,455.3 748.2,456.5 749.4,457.5 750.4,458.7 752.0,459.1" fill="none" stroke="#000" stroke-width="1.15" stroke-linejoin="round"/>
<polyline points="241,319 245,319" fill="none" stroke="#000" stroke-width="1.1"/>
<polyline points="559.0,360.0 560.3,359.7 561.2,359.0 562.0,358.0 563.3,359.0 565.0,359.0 565.0,360.4 566.7,360.7 567.0,362.0 567.1,363.3 566.5,364.8 568.2,365.9 567.0,367.4 568.6,368.6 568.0,370.0 568.9,371.2 567.9,372.5 568.6,373.7 568.4,375.0 569.2,376.2 569.6,377.4 568.5,378.8 569.0,380.0 568.2,381.1 567.7,382.3 568.4,383.8 566.9,384.7 567.3,386.1 567.0,387.3 566.6,388.5 566.7,389.8 566.3,391.0 567.0,392.3 566.1,393.4 566.3,394.7 567.0,395.8 567.6,396.9 567.3,398.3 567.8,399.4 568.5,400.5 568.9,401.7 569.8,402.8 570.5,403.9 570.6,405.3 571.4,406.4 571.6,407.6 570.9,409.0 571.8,410.2 571.3,411.5 572.3,412.7 571.8,414.0 572.1,415.2 571.9,416.5 571.6,417.8 572.3,419.0 572.3,420.3 573.5,421.4 573.4,422.7 572.9,424.0 573.4,425.2 572.7,426.5 573.4,427.8 573.0,429.1 572.7,430.3 574.3,431.5 573.6,432.8 572.9,434.1 573.2,435.3 574.1,436.6 573.3,437.8 573.7,439.1 574.1,440.3 573.6,441.6 573.9,442.9 572.6,443.9 572.1,445.1 572.3,446.4 572.2,447.7 572.1,448.9 571.4,449.9 570.8,451.0 570.1,452.0 569.9,453.3 569.2,454.4 568.8,455.8 568.0,456.8 567.0,457.7 566.7,459.1 564.8,459.4 564.7,460.9 564.1,462.1 563.4,463.2 563.1,464.3 563.4,465.7 562.3,466.7 562.6,468.0 562.1,469.2 563.1,470.4 562.0,471.6 563.3,472.9 562.9,474.1 562.6,475.3 562.3,476.5 561.9,477.7 562.7,479.0 561.4,480.2 562.5,481.5 561.9,482.7 562.2,484.0 561.2,485.1 561.9,486.5 561.2,487.6 560.0,488.6 560.4,490.0 559.5,491.5 560.0,493.2 559.2,493.7 557.7,493.8 556.5,494.8 555.2,495.6 554.4,496.9 555.5,498.0 556.8,498.6 558.1,499.1 557.7,500.4 556.5,501.2 554.9,502.1 554.4,503.9 554.6,505.5 553.3,506.5 553.6,508.3 552.3,509.7 551.6,511.2 551.7,512.9 551.0,513.9 550.7,515.1 550.1,516.7 548.5,517.2 548.2,518.8 546.7,519.2 545.9,520.4 544.2,519.7 542.7,518.8 541.7,517.3 540.0,516.7 539.2,515.4 538.4,514.0 537.2,513.1 536.3,511.9 534.7,511.2 533.1,510.8 532.0,509.5 530.2,509.9 528.8,509.2 527.7,507.8 526.3,507.1 524.5,507.1 523.8,505.7 521.9,505.9 521.3,504.4 520.3,503.0 518.7,502.3 517.8,501.3 517.7,499.9 516.5,499.1 516.6,497.3 517.6,495.9 518.6,494.4 519.2,492.7 520.5,491.3 522.4,491.1 523.7,489.8 525.6,489.5 524.4,488.6 522.9,488.8 521.4,489.0 520.3,487.9 518.8,487.5 517.2,487.6 516.0,486.3 514.8,485.2 513.2,485.4 511.7,485.2 510.2,484.1 508.5,483.6 509.7,483.0 510.7,482.0 511.4,480.4 512.8,479.3 514.4,478.4 516.0,477.7 516.0,476.1 516.5,474.5 517.1,472.9 517.6,471.3 518.0,470.0 518.1,468.7 517.5,467.3 515.7,467.2 514.9,466.0 513.4,466.0 512.1,466.6 510.7,467.1 509.3,468.3 507.5,468.1 505.8,467.6 504.3,468.7 504.9,467.5 504.6,466.2 504.8,464.9 504.6,463.0 503.2,461.7 504.0,460.6 505.3,460.4 506.4,459.7 507.6,459.4 508.5,458.5 509.7,457.8 510.9,457.2 512.1,456.6 512.8,455.3 513.9,453.2 513.7,451.8 512.6,451.0 511.3,450.6 510.6,449.4 509.0,449.0 507.8,447.8 506.1,447.3 504.6,446.2 503.2,446.5 502.2,445.4 501.6,444.3 501.8,443.0 501.1,441.9 501.0,440.6 500.4,439.5 500.2,438.2 499.7,436.8 499.8,435.4 501.3,435.7 502.5,434.8 503.8,434.6 506.2,434.6 507.6,434.6 509.0,434.2 510.6,432.6 509.6,431.6 509.4,430.2 508.1,429.7 507.0,429.0 506.0,428.0 504.6,427.8 505.4,426.6 503.8,425.0 502.4,424.9 501.4,425.8 499.8,424.6 499.3,423.5 499.4,422.2 500.7,421.8 501.4,420.6 502.5,419.8 503.8,419.4 505.4,417.8 506.9,417.3 507.4,415.8 507.7,414.5 508.6,413.4 507.8,411.8 508.5,410.3 508.6,408.6 510.0,407.6 511.0,406.2 512.5,405.4 514.2,405.0 515.3,403.9 516.6,403.0 518.2,401.4 519.0,399.4 520.5,398.4 522.2,397.8 523.6,396.7 525.4,396.2 527.0,395.9 528.6,395.4 529.9,394.4 531.6,395.0 533.0,394.5 534.4,394.1 535.5,393.4 535.9,391.9 536.9,391.0 538.2,390.4 539.3,389.7 540.2,388.7 540.6,387.3 541.7,386.4 543.2,386.7 544.3,385.9 545.9,385.5 547.1,387.0 548.7,386.6 549.7,387.5 550.8,388.4 550.4,390.2 551.6,391.0 553.0,390.3 554.5,390.3 554.6,389.0 556.3,388.5 556.8,387.3 556.7,385.9 557.3,384.5 557.3,383.0 558.1,381.6 557.5,380.0 557.8,378.6 557.2,377.5 556.4,376.4 556.6,375.1 556.0,374.0 555.9,372.6 556.3,371.4 556.9,370.3 557.3,369.1 558.0,368.0 558.8,366.7 558.5,365.3 558.0,364.0 558.4,362.7 559.5,361.5 559.0,360.0" fill="none" stroke="#000" stroke-width="1.15" stroke-linejoin="round"/>
<polyline points="479.9,546.3 482.6,544.7 484.0,546.0 485.3,547.4 484.8,549.0 484.2,550.6 482.6,550.3 481.0,550.1 479.7,551.4 478.3,552.7 478.0,554.3 477.8,555.9 475.7,557.5 475.1,555.4 476.7,552.7 477.6,551.3 478.4,549.8 479.4,548.5 479.9,546.3" fill="none" stroke="#000" stroke-width="1.15" stroke-linejoin="round"/>
<polyline points="613.8,381.2 615.2,378.8 617.1,378.8 619.0,378.3 620.5,379.2 621.9,380.2 623.7,379.0 625.2,377.4 627.6,378.3 630.5,377.9 632.9,376.0 634.8,373.6 636.7,372.1 638.1,374.0 638.0,375.8 638.0,377.6 638.6,379.3 637.8,381.3 636.7,383.1 636.8,385.1 637.6,386.9 636.2,388.3 634.3,387.4 632.9,385.0 630.5,384.0 628.6,385.0 625.7,384.5 622.9,386.0 620.9,386.2 619.0,386.4 617.1,385.9 615.2,385.5 613.8,383.6 613.8,381.2" fill="none" stroke="#000" stroke-width="1.15" stroke-linejoin="round"/>
<polyline points="593.5,353.0 595.2,354.0 595.6,356.5 594.5,359.0 592.6,358.8 592.2,356.0 592.6,354.0 593.5,353.0" fill="none" stroke="#000" stroke-width="1.15" stroke-linejoin="round"/>
<polyline points="609.5,401.2 611.4,399.8 611.9,397.5 612.4,399.8 613.8,400.7 613.3,402.1 610.5,402.3 609.5,401.2" fill="none" stroke="#000" stroke-width="1.15" stroke-linejoin="round"/>
<polyline points="628.5,423.7 630.0,424.6 630.4,426.6 628.6,427.8 626.9,426.6 627.0,424.6 628.5,423.7" fill="none" stroke="#000" stroke-width="1.15" stroke-linejoin="round"/>
<polyline points="670.0,419.8 671.5,420.8 672.3,422.3 673.2,423.8 674.2,426.5 673.3,427.9 671.8,426.2 670.7,424.3 669.5,422.5 669.3,420.6 670.0,419.8" fill="none" stroke="#000" stroke-width="1.15" stroke-linejoin="round"/>
<polyline points="560.5,532.0 562.5,530.3 564.0,531.5 563.0,534.0 561.0,535.5 560.3,534.0 560.5,532.0" fill="none" stroke="#000" stroke-width="1.15" stroke-linejoin="round"/>
<polyline points="565.0,532.5 567.0,533.5 567.2,536.0 565.5,536.5 564.8,534.5 565.0,532.5" fill="none" stroke="#000" stroke-width="1.15" stroke-linejoin="round"/>
<polyline points="325.5,358.4 328.0,357.8 330.0,357.0 332.5,357.5 331.0,359.5 328.5,361.0 326.5,360.4 325.5,358.4" fill="none" stroke="#000" stroke-width="1.15" stroke-linejoin="round"/>
<polyline points="345.2,358.8 347.0,356.2 349.5,354.6 350.8,355.2 348.6,357.5 346.2,359.4 345.2,358.8" fill="none" stroke="#000" stroke-width="1.15" stroke-linejoin="round"/>
<polyline points="306.5,348.0 308.5,347.6 309.0,349.2 307.0,350.5 306.5,348.0" fill="none" stroke="#000" stroke-width="1.15" stroke-linejoin="round"/>
<polyline points="320.3,355.4 322.0,355.5 323.8,355.4 325.5,355.4 325.5,356.5 323.8,356.6 322.0,356.5 320.3,356.5 320.3,355.4" fill="none" stroke="#000" stroke-width="1.15" stroke-linejoin="round"/>
<polyline points="487.9,653.0 488.7,651.7 487.9,650.0 488.9,648.8 490.1,647.7 491.9,647.9 493.1,646.7 493.1,645.4 493.0,644.1 493.9,643.0 493.5,641.7 494.1,640.5 494.0,639.1 493.8,637.7 493.5,636.4 493.7,634.9 493.6,633.5 493.1,632.2 493.5,630.8 492.0,630.0 492.9,628.5 491.8,627.6 492.1,626.2 490.8,625.3 491.0,624.0 490.2,622.9 490.9,621.3 490.0,620.2 489.9,618.8 488.9,617.8 488.9,616.5 488.1,615.4 487.6,614.2 488.1,612.8 487.9,611.6 487.2,610.3 486.2,609.0 486.2,607.4 485.8,606.0 485.0,604.7 484.9,603.1 484.2,601.8 483.7,600.2 483.1,598.6 483.3,597.2 483.0,596.0 482.1,594.9 480.5,594.7 479.4,595.9 478.1,595.3 476.7,594.9 474.6,593.8 474.1,595.1 474.1,596.5 473.2,597.7 471.9,598.6 471.9,596.8 470.9,595.4 470.7,593.8 470.9,592.2 472.3,591.5 473.0,590.1 473.4,588.8 474.4,587.7 474.6,586.3 473.0,586.9 472.1,585.8 471.4,584.7 469.9,583.4 469.8,581.5 470.0,580.0 470.6,578.7 471.1,577.4 471.9,576.2 471.6,574.8 472.7,573.7 473.3,572.5 473.4,571.1 473.5,569.8 474.0,568.6 474.4,567.3 475.2,566.4 476.2,565.5 476.7,563.9 476.7,562.3 475.1,560.7 474.5,561.5 476.7,562.3 476.5,563.7 477.9,564.9 477.2,566.4 477.8,567.7 479.0,568.2 479.8,569.3 481.0,569.8 482.4,570.4 483.9,570.7 485.3,571.4 486.7,571.7 488.2,571.2 489.5,571.9 491.1,572.4 492.7,573.0 494.1,573.2 495.6,573.7 497.0,573.0 498.4,572.4 499.7,571.6 501.3,571.9 502.8,571.9 503.5,570.7 504.5,569.8 505.9,569.1 506.6,567.7 507.3,566.4 508.9,566.5 509.8,565.5 511.1,564.7 512.5,564.3 514.1,564.5 515.8,565.0 517.3,563.9 518.3,562.7 519.9,562.3 520.9,561.3 521.8,560.2 522.6,559.1 523.4,557.5 524.2,555.9 524.3,554.0 525.8,552.7 527.0,552.2 527.8,551.1 529.0,550.6 530.7,549.7 531.1,547.9 532.1,546.6 532.8,545.1 533.9,544.3 535.4,544.3 536.5,543.3 538.0,543.6 538.9,541.9 540.3,541.9 541.0,540.6 542.2,540.3 543.5,540.0 543.6,538.1 544.9,536.7 545.8,535.2 545.4,533.5 546.6,532.9 547.7,532.1 548.8,531.4 550.1,531.6 551.9,533.0 552.3,534.4 552.9,535.8 554.1,536.5 554.7,537.7 556.4,538.4 558.0,537.7 558.9,536.6 560.3,536.7 562.2,538.1 562.5,539.5 563.6,540.5 564.3,541.7 565.5,542.3 565.6,543.6 565.9,544.8 565.9,546.1 567.3,545.1 568.8,544.8 569.2,543.3 570.3,542.5 571.5,541.9 572.9,542.5 573.7,543.6 573.9,545.1 574.3,546.6 573.8,547.8 572.9,548.9 571.8,550.1 571.5,551.7 571.8,553.1 572.0,554.5 572.9,553.4 574.3,553.5 575.4,554.8 576.7,555.9 578.5,555.9 579.8,556.1 580.9,556.8 579.7,557.5 578.5,558.2 576.7,558.2 575.3,560.1 575.3,561.6 574.8,562.9 573.5,562.9 572.2,563.1 571.1,563.8 570.1,564.3 571.4,564.2 572.6,565.3 573.9,564.7 575.1,564.3 576.4,564.6 577.6,564.3 579.5,564.7 580.9,566.6 582.3,568.5 582.9,569.7 584.1,570.3 585.5,571.7 585.9,573.0 585.1,574.1 584.7,575.6 585.7,577.0 585.0,578.5 584.9,580.0 585.1,581.4 586.0,582.6 585.8,584.0 586.4,585.4 586.7,586.7 587.5,588.0 586.6,589.6 587.1,590.9 587.2,592.4 587.7,593.7 589.4,594.4 590.2,595.6 590.2,597.1 590.1,598.5 590.4,599.8 590.7,601.0 591.5,602.2 592.2,603.3 592.3,604.7 591.1,606.0 591.8,607.5 591.8,608.9 591.2,610.2 591.2,611.6 590.2,612.4 589.3,613.3 589.6,615.0 588.0,615.4 587.7,616.7 587.1,617.8 586.2,618.7 586.0,620.2 585.3,621.3 584.0,621.9 584.0,623.4 582.3,624.3 582.7,625.9 581.9,627.1 582.3,628.3 582.4,629.5 581.7,630.8 582.5,631.9 583.2,633.0 582.9,634.3 583.8,635.3 584.0,636.5 583.2,638.0 584.8,638.9 583.7,640.4 585.1,641.3 585.0,642.6 584.7,643.9 585.4,645.1 585.3,646.4 585.1,647.7 586.0,648.8 586.3,650.2 586.3,651.7 587.1,653.0" fill="none" stroke="#000" stroke-width="1.15" stroke-linejoin="round"/>
<polyline points="242.0,184.6 244.1,184.8 246.1,185.3 248.0,186.0 249.7,186.7 251.4,187.2 253.2,187.8 255.0,188.0 256.7,187.5 258.3,186.5 260.0,186.0 260.5,184.0 260.8,182.0 261.0,180.0 263.0,179.8 265.0,179.4 266.4,180.5 267.8,181.7 269.0,183.0 269.6,185.0 269.6,187.0 270.0,189.0 271.0,190.6 271.8,192.3 272.8,193.9 274.2,195.3 275.0,197.0 276.2,198.4 277.5,199.6 278.8,200.9 280.0,202.3 281.3,203.6 282.7,204.7 284.0,206.0" fill="none" stroke="#5a5aff" stroke-width="0.9" stroke-linejoin="round"/>
<polyline points="366.0,164.0 364.4,164.6 362.9,165.3 361.5,166.2 360.0,167.0 359.1,168.6 358.5,170.3 357.6,171.9 356.5,173.4 355.6,175.0 356.1,176.6 356.3,178.3 356.6,180.0 356.6,181.7 356.8,183.3 357.0,185.0 356.8,186.8 355.8,188.3 355.4,190.0 355.1,191.7 354.3,193.3 354.0,195.0 352.8,196.5 351.9,198.2 350.8,199.7 350.0,201.4 349.0,203.0" fill="none" stroke="#5a5aff" stroke-width="0.9" stroke-linejoin="round"/>
<polyline points="334.0,210.0 332.0,211.0 330.0,210.6 328.0,210.5 326.0,210.6 324.0,210.7 322.0,210.6 320.0,210.6 318.4,211.5 317.1,212.9 315.6,214.0 314.0,215.0 312.9,216.2 311.7,217.2 310.2,217.9 309.0,219.0 308.4,221.0 307.5,222.9 307.0,225.0 307.3,226.7 307.4,228.4 308.0,230.0 308.2,231.7 308.4,233.4 309.0,235.0 309.6,236.6 310.3,238.2 310.9,239.9 311.2,241.6 312.1,243.1 312.6,244.8 313.5,246.3 314.0,248.0 313.4,249.6 313.2,251.3 313.0,253.0 312.0,254.3 311.3,255.9 310.2,257.2 309.6,258.7 308.7,260.1 307.9,261.6 307.0,263.0 306.4,264.6 305.8,266.2 305.3,267.8 304.4,269.3 304.0,271.0 303.5,272.6 302.7,274.1 301.7,275.6 301.5,277.3 300.9,278.9 299.7,280.2 299.6,282.0 298.8,283.5 298.0,285.0 296.4,285.9 295.0,287.0 293.3,287.6 291.5,287.8 289.7,288.4 288.0,289.0 286.3,289.6 284.8,290.5 283.2,291.1 281.6,291.9 280.0,292.6 278.4,292.4 276.8,292.2 275.2,291.6 273.6,291.4 272.0,291.0 270.3,290.4 268.9,289.3 267.3,288.4 265.7,287.6 264.0,287.0 262.3,286.5 260.8,285.9 259.2,285.1 257.6,284.7 256.0,284.0 254.5,283.2 252.7,283.1 251.2,282.3 249.6,281.5 248.0,281.0 246.5,279.7 245.0,278.5 243.5,277.2 242.0,276.0" fill="none" stroke="#5a5aff" stroke-width="0.9" stroke-linejoin="round"/>
<polyline points="355.0,230.0 355.8,231.4 356.9,232.8 357.8,234.2 358.5,235.7 359.6,237.0 359.2,238.6 358.6,240.1 358.7,241.7 357.7,243.1 357.5,244.8 357.3,246.4 356.8,247.9 356.6,249.5 356.0,251.0 355.5,252.7 355.0,254.3 354.3,255.9 353.4,257.4 352.8,259.1 352.1,260.7 351.6,262.4 351.0,264.0 351.2,265.7 351.2,267.3 351.3,269.0 351.9,270.6 351.7,272.3 352.0,274.0 350.0,274.7 347.9,275.1 346.0,276.0 345.4,277.8 344.6,279.6 343.9,281.3 343.0,283.0 341.4,284.4 340.0,286.0 338.6,285.0 337.0,284.5 335.5,283.7 334.0,283.0 332.7,281.6 331.5,280.2 330.0,279.0 328.6,280.6 327.0,282.0 325.3,282.6 323.6,283.1 322.0,284.0 320.9,285.2 319.9,286.6 319.0,288.0 317.0,288.5 315.0,288.6 313.4,287.9 312.1,286.6 310.4,286.1 309.0,285.0 307.4,284.2 306.0,283.0 304.4,283.2 302.8,283.7 301.2,284.1 299.6,284.6 298.0,285.0" fill="none" stroke="#5a5aff" stroke-width="0.9" stroke-linejoin="round"/>
<polyline points="391.0,187.0 392.7,187.3 394.3,187.4 396.0,187.2 397.6,187.9 399.4,187.7 401.0,188.0 402.7,188.3 404.2,189.1 405.8,189.8 407.4,190.4 409.0,191.0 410.4,192.0 412.1,192.3 413.6,193.1 415.0,194.0 416.5,192.8 417.6,191.2 419.0,190.0 419.0,188.4 419.4,186.8 419.9,185.2 419.7,183.6 420.0,182.0 421.5,181.1 422.8,180.1 424.1,178.9 425.7,178.2 427.0,177.0 428.3,175.8 429.9,175.1 431.2,173.9 432.5,172.9 434.0,172.0 435.2,170.3 436.4,168.8 437.4,167.0 437.4,165.4 437.5,163.8 438.0,162.2 437.6,160.6 438.0,159.0" fill="none" stroke="#5a5aff" stroke-width="0.9" stroke-linejoin="round"/>
<polyline points="441.0,252.0 442.6,250.9 443.9,249.3 445.7,248.4 447.0,247.0 449.0,246.5 451.0,245.6 453.0,245.0 454.4,243.8 456.0,243.1 457.6,242.1 459.0,241.0 459.5,239.0 460.1,236.9 461.0,235.0 461.6,233.4 462.1,231.7 462.3,229.9 462.8,228.3 463.8,226.7 464.0,225.0 463.1,223.1 462.5,221.1 462.0,219.0 460.5,217.8 458.8,216.8 457.0,216.0 455.8,214.9 454.3,214.2 453.1,213.2 452.0,212.0 452.2,210.2 452.3,208.5 452.7,206.7 453.0,205.0 452.4,203.5 452.3,201.8 451.7,200.2 451.4,198.6 451.0,197.0 452.1,195.1 453.0,193.0 451.8,191.1 451.0,189.0 453.0,189.3 455.0,189.0 457.0,188.5 459.0,188.0 460.4,186.8 461.8,185.8 463.5,185.1 465.0,184.0 466.0,182.7 466.8,181.3 467.3,179.7 468.2,178.4 469.0,177.0 470.0,175.5 470.8,173.9 471.9,172.4 473.0,171.0 474.7,170.1 476.3,168.9 478.0,168.0 479.8,168.4 481.5,169.0 483.3,169.4 485.0,170.0 486.6,169.5 488.2,169.3 489.8,168.7 491.4,168.4 493.0,168.0 494.6,167.8 496.2,167.1 497.7,166.6 499.4,166.4 501.0,166.0 502.5,165.1 504.3,164.5 505.8,163.5 507.3,162.6 509.0,162.0 510.2,160.8 511.5,159.8 513.0,159.0" fill="none" stroke="#5a5aff" stroke-width="0.9" stroke-linejoin="round"/>
<polyline points="623.0,159.0 623.3,160.6 623.2,162.2 623.7,163.8 624.0,165.4 624.0,167.0 623.8,168.6 623.1,170.2 623.0,171.9 622.4,173.4 622.0,175.0 620.9,176.3 620.0,177.7 619.2,179.2 618.2,180.5 616.8,181.6 616.0,183.0 614.8,184.2 613.8,185.5 613.0,187.0 612.0,188.3 611.0,189.7 610.0,191.0 608.9,192.3 607.4,193.2 606.6,194.8 605.3,195.9 604.0,197.0 602.7,198.1 601.2,198.8 600.0,200.0 598.8,201.2 597.4,202.1 596.0,203.0 594.4,204.0 592.8,205.0 591.1,205.8 589.7,207.1 588.0,208.0 586.4,208.3 584.8,209.0 583.1,208.9 581.6,209.7 580.0,210.0 578.2,209.9 576.5,209.8 574.8,209.8 573.0,210.0 571.6,211.3 570.3,212.7 569.0,214.0 569.0,211.0" fill="none" stroke="#5a5aff" stroke-width="0.9" stroke-linejoin="round"/>
<polyline points="636.0,158.5 637.0,160.0 637.9,161.4 638.7,163.0 640.3,164.1 642.0,165.0 644.4,165.2 646.7,165.7 648.3,165.2 650.0,164.8 652.0,163.0 653.1,161.2 654.7,159.7 655.0,158.0" fill="none" stroke="#5a5aff" stroke-width="0.9" stroke-linejoin="round"/>
<polyline points="708.0,159.0 708.5,160.7 709.3,162.3 710.0,164.0 709.8,166.1 709.0,168.0 707.6,169.1 706.1,169.9 704.6,170.6 703.1,171.6 701.6,172.4 700.0,173.0 698.5,174.1 696.7,174.7 695.0,175.5 693.3,176.3 691.7,177.3 690.0,178.0 688.8,179.3 687.4,180.4 686.1,181.6 684.5,182.5 683.2,183.7 682.0,185.0 680.5,186.5 679.7,188.5 678.2,190.0 678.7,192.3 679.5,194.6 679.4,196.3 680.1,197.9 679.9,199.6 680.4,201.2 680.8,202.8 680.7,204.5 679.4,205.7 678.3,207.2 677.0,208.5 676.0,210.0 675.2,211.5 674.1,212.9 673.3,214.4 673.0,216.2 672.2,217.8 671.6,219.6 671.4,221.4 670.8,223.1 669.2,224.0 667.8,225.1 666.3,226.0 664.9,227.1 663.4,228.0 661.6,228.7 659.7,229.5 658.0,230.5 656.3,231.7 654.7,233.0 653.9,234.6 653.0,236.2 651.8,237.6 651.0,239.2 650.6,241.0 650.2,242.9 650.3,244.8 649.8,246.6" fill="none" stroke="#5a5aff" stroke-width="0.9" stroke-linejoin="round"/>
<polyline points="666.0,259.0 667.0,257.7 668.2,256.5 668.8,254.8 669.9,253.6 671.2,252.5 672.0,251.0 673.5,249.7 674.9,248.4 676.6,247.4 678.0,246.0 678.3,244.2 678.9,242.5 679.8,240.8 680.0,239.0 681.0,237.7 682.4,236.9 683.4,235.6 684.4,234.3 685.7,233.2 686.7,232.0 688.0,231.0 689.1,229.6 690.5,228.5 691.5,227.0 692.5,225.5 693.9,224.4 695.0,223.0 695.5,221.3 696.0,219.7 696.9,218.2 697.7,216.7 698.0,215.0 698.4,213.4 698.8,211.8 699.4,210.2 699.4,208.5 700.0,207.0 700.1,205.3 700.5,203.6 701.1,202.0 701.0,200.3 701.7,198.7 702.0,197.0 701.3,195.6 700.4,194.2 699.4,192.9 698.9,191.3 698.0,190.0 698.8,188.0 699.3,186.0 700.0,184.0 701.6,182.9 702.9,181.3 704.3,180.1 706.0,179.0 707.7,179.2 709.2,179.7 710.9,179.9 712.4,180.7 714.0,181.0 715.6,181.8 717.1,182.8 718.8,183.5 720.4,184.3 722.0,185.0 722.8,186.4 724.0,187.5 724.8,188.9 726.0,190.0 727.4,191.2 728.8,192.5 730.0,194.0 732.0,194.4 734.0,194.9 736.0,195.0 737.4,196.2 739.1,196.8 740.4,198.2 742.0,199.0 743.7,199.1 745.3,199.7 747.0,200.2 748.7,200.2 750.4,200.4 752.0,201.0" fill="none" stroke="#5a5aff" stroke-width="0.9" stroke-linejoin="round"/>
<polyline points="709.0,162.0 710.6,162.6 712.3,162.6 714.0,163.0 716.0,163.2 718.0,163.4 720.0,164.0 721.5,164.8 722.5,166.2 724.0,167.0 724.1,168.8 724.2,170.5 724.2,172.2 724.0,174.0 725.5,173.4 727.1,173.0 728.8,172.9 730.3,172.2 732.0,172.0 733.5,172.9 735.2,173.1 736.8,173.8 738.3,174.6 740.0,175.0 741.6,175.8 742.9,177.2 744.5,178.0 746.0,179.0 747.5,178.0 749.0,177.0 750.5,176.0 752.0,175.0" fill="none" stroke="#5a5aff" stroke-width="0.9" stroke-linejoin="round"/>
<polyline points="724.0,167.0 725.4,165.8 727.1,165.2 728.6,164.1 730.0,163.0 731.5,162.2 733.1,161.5 734.8,161.2 736.3,160.4 738.0,160.0 740.1,159.6 741.9,158.5 744.0,158.0" fill="none" stroke="#5a5aff" stroke-width="0.9" stroke-linejoin="round"/>
<polyline points="628.0,291.0 629.5,290.3 631.0,289.5 632.6,288.9 634.0,288.0 635.6,288.0 637.2,288.3 638.8,288.6 640.4,288.9 642.0,289.0 643.6,289.6 645.2,290.1 646.7,291.0 648.3,291.6 650.0,292.0 651.6,292.5 653.4,292.4 655.0,293.0 656.4,292.2 657.9,291.6 659.2,290.6 660.5,289.7 662.0,289.0 663.6,288.7 665.2,288.0 666.9,288.1 668.4,287.6 670.0,287.0 671.7,286.5 673.4,286.2 674.9,285.2 676.7,285.2 678.3,284.3 680.0,284.0 681.6,283.3 683.3,282.5 685.1,282.3 686.6,281.2 688.3,280.7 690.0,280.1 691.9,280.2 693.7,281.0 695.6,281.1 697.2,281.7 698.7,282.5 700.3,282.9 702.5,282.2 704.9,282.0 707.3,280.1 708.9,280.9 710.5,281.5 711.9,282.5 712.9,285.3 712.8,287.0 712.8,288.7 712.5,290.3 712.7,292.0 712.4,293.7 713.4,295.5 714.3,297.4 715.0,298.9 715.9,300.3 716.9,301.7 718.0,303.0 719.2,304.1 720.4,305.3 721.4,306.6 722.7,307.7 724.3,308.2 725.9,308.8 727.6,308.9 729.2,309.5 731.1,309.6 732.9,309.1 734.8,309.3 736.7,309.1 738.2,308.3 739.9,307.7 741.3,306.7 741.4,304.8 741.7,303.0 742.1,301.2 742.3,299.3 741.7,297.5 741.5,295.5 740.9,293.7 740.4,291.8 739.0,290.3 737.8,288.8 736.7,287.1 735.5,285.9 734.3,284.6 733.1,283.4 732.3,281.8 731.0,280.6 729.6,278.7 728.0,277.0 728.6,275.0 729.0,273.0 727.7,274.2 726.0,275.0" fill="none" stroke="#5a5aff" stroke-width="0.9" stroke-linejoin="round"/>
<polyline points="529.2,433.9 530.9,432.9 532.7,432.1 534.7,431.2 536.7,430.2 538.7,429.9 540.7,429.4 543.0,430.5 546.0,430.7 547.3,431.8 548.7,432.9 550.0,434.0 551.5,434.9 552.7,436.1 554.0,437.2 555.3,438.3 556.7,439.3 558.5,439.9 560.2,440.9 562.1,441.4 564.0,442.1 565.6,443.3 567.4,444.1 569.1,445.1 570.9,445.9 572.7,446.7" fill="none" stroke="#5a5aff" stroke-width="0.9" stroke-linejoin="round"/>
<polyline points="519.9,561.8 521.6,562.4 523.1,563.4 523.7,564.9 524.8,566.2 525.3,567.7 526.6,568.7 527.9,569.8 530.1,570.5 532.2,571.4 532.9,573.2 533.3,575.1 534.2,577.0 535.0,579.0" fill="none" stroke="#5a5aff" stroke-width="0.9" stroke-linejoin="round"/>
<polyline points="535.9,582.6 535.3,584.5 534.3,586.2 533.3,587.9 533.1,590.0 533.3,592.2 531.1,593.1 529.0,594.3 527.5,595.6 525.8,596.5 525.0,598.0 524.0,599.3 523.1,600.7 522.2,602.1 521.4,603.6 520.5,605.0 519.7,606.5 519.0,608.0 519.7,609.5 520.1,611.2 521.0,612.6 521.4,614.2 522.2,615.6 522.7,617.2 523.0,618.8" fill="none" stroke="#5a5aff" stroke-width="0.9" stroke-linejoin="round"/>
<polyline points="560.2,597.1 558.5,597.9 556.6,598.3 554.7,598.4 553.0,599.2 551.5,599.8 549.9,600.1 548.4,601.0 546.8,601.2 545.2,602.4 544.0,604.0 542.6,605.4 542.0,607.1 541.1,608.5 540.3,610.1 539.5,611.6 538.8,613.2 538.2,614.9 537.9,616.6 537.1,618.2 536.4,619.8 536.2,621.5 535.5,623.1 535.1,624.8 534.5,626.4 534.4,628.1 533.6,629.7 533.4,631.5 532.7,633.1 532.0,634.8 531.3,636.4 530.1,637.5 529.2,638.9 528.0,640.0" fill="none" stroke="#5a5aff" stroke-width="0.9" stroke-linejoin="round"/>
<polyline points="526.0,643.0 525.1,644.6 524.6,646.3 524.0,647.9 524.1,649.7 523.3,651.3 523.0,653.0" fill="none" stroke="#5a5aff" stroke-width="0.9" stroke-linejoin="round"/>
<polyline points="368.0,157.0 368.0,158.8 368.6,160.5 368.7,162.3 369.0,164.0 370.5,165.0 372.1,165.9 373.6,166.7 375.2,167.6 376.8,168.5 378.5,169.0 380.0,170.0 381.6,170.5 383.3,170.9 384.9,171.4 386.5,172.0 388.0,173.0 388.0,174.6 388.5,176.2 388.8,177.8 389.0,179.4 389.0,181.0 388.2,182.7 387.3,184.4 386.9,186.3 386.0,188.0 384.6,189.6 383.0,191.0 382.8,192.7 383.0,194.4 382.8,196.0 382.6,197.7 381.9,199.3 382.0,201.0 380.7,202.2 380.1,203.9 379.0,205.2 378.1,206.7 377.0,208.0 377.9,209.4 378.8,210.8 379.5,212.4 380.0,214.0 379.3,215.7 378.8,217.4 378.0,219.0 378.6,220.5 378.5,222.3 379.0,223.8 380.0,225.3 380.0,227.0 381.2,228.2 382.1,229.5 383.4,230.6 384.8,231.6 386.0,232.7 387.0,234.0 389.0,233.9 391.0,234.0 392.5,234.8 394.0,235.5 395.6,236.1 397.0,237.0 398.7,237.4 399.8,238.8 401.4,239.5 403.0,240.0 404.4,241.2 406.3,241.5 407.9,242.1 409.3,243.4 411.0,244.0 413.1,244.4 414.9,245.6 417.0,246.0 418.5,245.2 420.1,244.6 421.9,244.4 423.3,243.3 425.0,243.0 426.7,242.7 428.1,241.5 429.8,241.1 431.3,240.2 433.0,240.0 433.8,241.5 434.8,242.8 436.0,244.0 436.8,245.7 437.1,247.5 437.4,249.3 438.0,251.0 436.6,252.4 435.2,253.8 434.5,255.7 433.0,257.0 431.9,258.3 430.9,259.8 430.1,261.2 428.7,262.4 428.0,264.0 427.5,265.6 426.7,267.0 425.6,268.3 425.4,270.0 424.9,271.6 424.0,273.0 424.5,275.0 424.9,277.0 425.0,279.0 426.0,282.0" fill="none" stroke="#555" stroke-width="0.8" stroke-linejoin="round"/>
<polyline points="566.7,342.5 572.0,347.0 577.0,353.0 580.0,358.0 582.7,364.0" fill="none" stroke="#333" stroke-width="0.7"/>
<polyline points="590.7,393.3 591.8,400.0 592.6,405.0 593.3,410.7" fill="none" stroke="#333" stroke-width="0.7"/>
<polyline points="535.6,523.2 544.0,525.3 552.4,527.4 557.0,522.0 562.2,516.7" fill="none" stroke="#333" stroke-width="0.7"/>
<polygon points="334.2,209.8 337.0,205.4 341.0,204.6 347.8,203.4 347.4,204.6 341.8,205.8 338.2,207.4 336.6,209.4 338.2,210.6 341.4,211.0 340.2,211.6 337.0,211.4 334.6,210.4" fill="#0000cc" stroke="#000" stroke-width="1.2"/>
<circle cx="746.5" cy="400" r="5" fill="#0000ff" stroke="#0000aa" stroke-width="0.6"/>
<polygon points="534.3,578.3 538.6,579.5 537,581.5 535,581" fill="#0000cc" stroke="#000" stroke-width="0.8"/>
<polygon points="526,639.5 529,639 528,642 526,642.5" fill="#0000cc" stroke="#000" stroke-width="0.8"/>
<circle cx="693.5" cy="413.5" r="1.5" fill="#0000cc"/>
<use href="#st" x="560.0" y="360.0" width="12" height="12" transform="translate(-6,-6)"/>
<use href="#st" x="512.0" y="402.2" width="12" height="12" transform="translate(-6,-6)"/>
<use href="#st" x="534.3" y="404.9" width="12" height="12" transform="translate(-6,-6)"/>
<use href="#st" x="568.3" y="399.8" width="12" height="12" transform="translate(-6,-6)"/>
<use href="#st" x="557.5" y="414.9" width="12" height="12" transform="translate(-6,-6)"/>
<use href="#st" x="540.6" y="426.2" width="12" height="12" transform="translate(-6,-6)"/>
<use href="#st" x="508.5" y="436.2" width="12" height="12" transform="translate(-6,-6)"/>
<use href="#st" x="573.3" y="447.5" width="12" height="12" transform="translate(-6,-6)"/>
<use href="#st" x="537.7" y="455.1" width="12" height="12" transform="translate(-6,-6)"/>
<use href="#st" x="510.5" y="457.7" width="12" height="12" transform="translate(-6,-6)"/>
<use href="#st" x="546.5" y="472.7" width="12" height="12" transform="translate(-6,-6)"/>
<use href="#st" x="546.3" y="520.4" width="12" height="12" transform="translate(-6,-6)"/>
</g>
<rect x="241.5" y="157.5" width="510.5" height="495" fill="none" stroke="#000" stroke-width="1"/>
<line x1="242" y1="87.5" x2="752" y2="87.5" stroke="#808080" stroke-width="1"/>
<line x1="242" y1="122.5" x2="752" y2="122.5" stroke="#808080" stroke-width="1"/>
<rect x="242" y="54" width="510" height="103.5" fill="none" stroke="#000" stroke-width="2"/>
<rect x="752.5" y="54" width="109.5" height="103.5" fill="none" stroke="#000" stroke-width="2"/>
<line x1="789.5" y1="157" x2="789.5" y2="652" stroke="#808080" stroke-width="1"/>
<line x1="825.5" y1="157" x2="825.5" y2="652" stroke="#808080" stroke-width="1"/>
<rect x="752.5" y="157.5" width="109.5" height="495" fill="none" stroke="#000" stroke-width="2"/>
<line x1="241" y1="157.5" x2="863" y2="157.5" stroke="#000" stroke-width="3"/>
<line x1="752.5" y1="53" x2="752.5" y2="653.5" stroke="#000" stroke-width="3"/>
<g clip-path="url(#topclip)"><polygon points="550.5,76.0 553.0,73.5 556.8,73.5 556.8,100.0 553.5,100.0 551.5,94.0" fill="#33e3da"/>
<polygon points="552.0,80.0 555.0,80.0 555.0,96.0 552.0,96.0" fill="#1a96f2"/>
<polygon points="538.8,72.0 539.5,69.0 543.0,67.8 547.0,68.0 550.0,70.0 550.5,74.0 545.0,72.0 541.0,73.0" fill="#1a96f2"/>
<polygon points="541.0,69.5 546.0,69.5 548.0,72.0 541.0,72.5" fill="#33e3da"/>
<polygon points="538.8,76.0 540.5,72.5 544.0,71.5 548.0,72.0 550.8,74.5 552.0,79.0 551.5,86.0 550.8,92.0 548.0,94.5 543.5,94.0 540.5,92.0 539.0,86.0" fill="#ff4f28"/>
<polygon points="539.3,92.0 543.5,93.0 544.2,100.0 543.0,103.0 539.5,102.5" fill="#99fca5"/>
<polygon points="539.2,104.0 545.5,104.0 547.5,108.0 546.0,113.0 540.5,112.5" fill="#ff964f"/>
<polygon points="546.0,114.5 551.0,113.5 556.5,114.5 557.0,122.0 555.5,128.5 550.0,129.0 546.5,126.0" fill="#ff964f"/>
<polygon points="567.5,74.4 573.0,73.5 578.5,75.0 579.5,82.0 578.8,88.0 568.0,88.0" fill="#ff964f"/>
<polygon points="567.6,66.4 573.0,65.5 576.4,68.0 576.0,72.0 567.6,72.5" fill="#33e3da"/>
<polygon points="571.0,73.0 577.0,72.5 578.5,78.0 573.0,80.0" fill="#99fca5"/>
<polygon points="575.5,80.0 579.5,80.0 580.2,97.0 576.5,97.0" fill="#99fca5"/>
<polygon points="556.4,60.0 558.0,57.0 562.0,58.5 566.0,57.0 567.8,60.0 567.6,86.4 571.0,88.5 576.0,90.0 582.0,92.5 586.5,96.0 589.0,100.0 591.0,105.0 589.5,108.5 584.0,107.8 578.0,109.0 572.5,110.5 571.5,114.0 570.5,120.0 568.0,126.4 565.2,132.0 563.0,137.6 560.4,133.0 559.0,126.4 557.6,118.0 557.0,108.0 554.0,104.5 552.4,99.0 552.4,94.4 556.4,93.5" fill="#ff4f28"/>
<polygon points="556.0,54.0 567.0,54.0 567.0,60.0 556.0,60.0" fill="#ff4f28"/>
<polygon points="568.0,76.0 575.0,75.0 579.0,79.0 579.5,87.0 574.0,89.0 568.0,88.0" fill="#ff4f28"/>
<polygon points="567.6,70.0 572.0,69.0 577.0,71.0 577.0,76.0 572.0,78.0 567.6,77.0" fill="#ff964f"/>
<polygon points="572.0,74.0 578.0,76.0 579.0,82.0 575.0,84.0 572.0,80.0" fill="#ff964f"/>
<polygon points="572.0,80.0 576.0,79.0 578.0,84.0 575.0,87.0 572.0,86.0" fill="#ff4f28"/>
<polygon points="567.6,62.0 571.0,61.0 573.0,64.0 571.0,67.0 567.6,67.0" fill="#e6ce74"/>
<polygon points="731.0,54.0 752.0,54.0 752.0,97.0 747.0,100.0 741.0,99.0 735.0,101.0 731.0,96.0 730.5,85.0 731.5,70.0" fill="#ff4f28"/>
<polygon points="738.0,98.0 745.0,97.0 748.0,103.0 742.0,106.0 737.0,104.0" fill="#e6ce74"/>
<path d="M542.4 67.0h2.1v2.1h-2.1zM543.5 68.0h2.1v2.1h-2.1zM543.8 71.9h2.1v2.1h-2.1zM539.8 72.6h2.1v2.1h-2.1zM539.4 71.1h2.1v2.1h-2.1zM541.2 67.3h2.1v2.1h-2.1zM545.8 72.3h2.1v2.1h-2.1zM552.8 74.2h2.1v2.1h-2.1zM555.7 78.4h2.1v2.1h-2.1zM550.7 96.5h2.1v2.1h-2.1zM551.3 83.0h2.1v2.1h-2.1zM553.7 86.5h2.1v2.1h-2.1zM549.4 84.8h2.1v2.1h-2.1zM553.3 77.6h2.1v2.1h-2.1zM555.2 81.2h2.1v2.1h-2.1zM550.3 83.1h2.1v2.1h-2.1zM554.9 74.1h2.1v2.1h-2.1zM554.4 73.1h2.1v2.1h-2.1zM549.5 94.8h2.1v2.1h-2.1zM551.9 72.3h2.1v2.1h-2.1zM551.2 73.1h2.1v2.1h-2.1zM551.5 99.3h2.1v2.1h-2.1zM552.6 93.7h2.1v2.1h-2.1zM556.9 56.3h2.1v2.1h-2.1zM564.7 58.2h2.1v2.1h-2.1zM558.7 54.7h2.1v2.1h-2.1zM557.6 58.9h2.1v2.1h-2.1zM564.2 57.4h2.1v2.1h-2.1zM565.3 60.3h2.1v2.1h-2.1zM558.6 57.5h2.1v2.1h-2.1zM577.3 80.6h2.1v2.1h-2.1zM577.1 67.8h2.1v2.1h-2.1zM574.8 67.0h2.1v2.1h-2.1zM572.1 68.4h2.1v2.1h-2.1zM569.2 69.7h2.1v2.1h-2.1zM572.7 64.4h2.1v2.1h-2.1zM567.1 64.6h2.1v2.1h-2.1zM568.2 60.5h2.1v2.1h-2.1zM543.0 110.5h2.1v2.1h-2.1zM543.1 101.2h2.1v2.1h-2.1zM549.9 111.2h2.1v2.1h-2.1zM542.2 108.5h2.1v2.1h-2.1zM546.6 114.8h2.1v2.1h-2.1zM538.1 115.6h2.1v2.1h-2.1zM543.0 115.5h2.1v2.1h-2.1zM555.7 119.4h2.1v2.1h-2.1zM551.2 94.7h2.1v2.1h-2.1zM548.1 94.9h2.1v2.1h-2.1zM549.7 103.9h2.1v2.1h-2.1zM554.5 96.7h2.1v2.1h-2.1zM749.5 56.4h2.1v2.1h-2.1zM744.5 89.5h2.1v2.1h-2.1zM731.9 54.9h2.1v2.1h-2.1zM744.8 61.9h2.1v2.1h-2.1zM747.9 66.5h2.1v2.1h-2.1zM735.9 96.7h2.1v2.1h-2.1zM736.5 79.9h2.1v2.1h-2.1zM736.3 94.7h2.1v2.1h-2.1zM728.9 94.3h2.1v2.1h-2.1zM744.5 109.3h2.1v2.1h-2.1zM737.4 101.2h2.1v2.1h-2.1zM748.7 95.1h2.1v2.1h-2.1zM744.0 121.8h2.1v2.1h-2.1zM733.1 117.9h2.1v2.1h-2.1zM728.5 109.8h2.1v2.1h-2.1zM747.4 109.5h2.1v2.1h-2.1zM744.9 118.8h2.1v2.1h-2.1zM729.0 117.6h2.1v2.1h-2.1zM743.0 102.0h2.1v2.1h-2.1zM737.1 116.7h2.1v2.1h-2.1zM730.8 101.2h2.1v2.1h-2.1zM746.3 95.9h2.1v2.1h-2.1zM660.6 80.3h2.1v2.1h-2.1zM659.4 91.5h2.1v2.1h-2.1zM658.8 86.3h2.1v2.1h-2.1zM658.9 78.0h2.1v2.1h-2.1zM660.3 84.3h2.1v2.1h-2.1zM661.9 83.7h2.1v2.1h-2.1zM660.0 87.8h2.1v2.1h-2.1zM659.0 84.0h2.1v2.1h-2.1zM658.3 86.8h2.1v2.1h-2.1zM661.0 89.1h2.1v2.1h-2.1zM657.6 86.9h2.1v2.1h-2.1zM657.5 80.8h2.1v2.1h-2.1zM658.3 89.0h2.1v2.1h-2.1zM657.8 53.5h2.1v2.1h-2.1zM655.5 61.9h2.1v2.1h-2.1zM659.0 68.2h2.1v2.1h-2.1zM659.2 70.7h2.1v2.1h-2.1zM626.4 94.2h2.1v2.1h-2.1zM626.1 99.7h2.1v2.1h-2.1zM650.2 98.0h2.1v2.1h-2.1zM650.2 100.7h2.1v2.1h-2.1zM651.9 116.8h2.1v2.1h-2.1zM655.4 119.0h2.1v2.1h-2.1zM728.0 57.8h2.1v2.1h-2.1zM717.1 59.1h2.1v2.1h-2.1zM717.1 66.8h2.1v2.1h-2.1zM720.0 89.8h2.1v2.1h-2.1zM723.6 108.7h2.1v2.1h-2.1zM705.1 123.2h2.1v2.1h-2.1zM559.4 139.8h2.1v2.1h-2.1zM557.8 153.3h2.1v2.1h-2.1zM577.4 115.0h2.1v2.1h-2.1zM537.0 115.0h2.1v2.1h-2.1z" fill="#33e3da"/>
<path d="M540.8 69.5h2.1v2.1h-2.1zM544.3 68.1h2.1v2.1h-2.1zM542.6 70.9h2.1v2.1h-2.1zM538.1 73.8h2.1v2.1h-2.1zM539.4 69.3h2.1v2.1h-2.1zM548.3 72.3h2.1v2.1h-2.1zM544.5 72.1h2.1v2.1h-2.1zM549.4 67.2h2.1v2.1h-2.1zM549.7 72.8h2.1v2.1h-2.1zM539.9 70.7h2.1v2.1h-2.1zM547.2 72.4h2.1v2.1h-2.1zM537.7 71.3h2.1v2.1h-2.1zM551.0 87.0h2.1v2.1h-2.1zM549.0 72.0h2.1v2.1h-2.1zM549.6 86.1h2.1v2.1h-2.1zM554.5 98.7h2.1v2.1h-2.1zM551.8 91.3h2.1v2.1h-2.1zM554.5 79.2h2.1v2.1h-2.1zM551.5 86.4h2.1v2.1h-2.1zM553.4 73.9h2.1v2.1h-2.1zM553.8 83.2h2.1v2.1h-2.1zM550.8 92.6h2.1v2.1h-2.1zM550.8 72.8h2.1v2.1h-2.1zM555.4 90.9h2.1v2.1h-2.1zM555.5 72.8h2.1v2.1h-2.1zM552.5 94.1h2.1v2.1h-2.1zM550.0 77.7h2.1v2.1h-2.1zM554.9 74.5h2.1v2.1h-2.1zM552.8 90.4h2.1v2.1h-2.1zM555.6 53.8h2.1v2.1h-2.1zM556.1 54.3h2.1v2.1h-2.1zM562.0 54.9h2.1v2.1h-2.1zM566.8 60.3h2.1v2.1h-2.1zM558.1 54.8h2.1v2.1h-2.1zM555.3 60.3h2.1v2.1h-2.1zM573.0 64.1h2.1v2.1h-2.1zM568.8 63.4h2.1v2.1h-2.1zM575.1 60.2h2.1v2.1h-2.1zM552.4 121.2h2.1v2.1h-2.1zM548.0 105.4h2.1v2.1h-2.1zM550.9 120.1h2.1v2.1h-2.1zM552.3 123.7h2.1v2.1h-2.1zM537.6 118.0h2.1v2.1h-2.1zM539.6 110.7h2.1v2.1h-2.1zM543.8 105.2h2.1v2.1h-2.1zM554.5 111.0h2.1v2.1h-2.1zM553.3 114.6h2.1v2.1h-2.1zM552.9 105.8h2.1v2.1h-2.1zM548.6 101.6h2.1v2.1h-2.1zM547.9 110.7h2.1v2.1h-2.1zM545.1 95.1h2.1v2.1h-2.1zM545.0 102.9h2.1v2.1h-2.1zM730.4 102.6h2.1v2.1h-2.1zM733.8 120.2h2.1v2.1h-2.1zM729.9 103.4h2.1v2.1h-2.1zM740.8 115.8h2.1v2.1h-2.1zM747.8 106.9h2.1v2.1h-2.1zM744.9 112.6h2.1v2.1h-2.1zM748.9 113.6h2.1v2.1h-2.1zM730.5 99.7h2.1v2.1h-2.1zM734.8 120.9h2.1v2.1h-2.1zM749.7 110.4h2.1v2.1h-2.1zM741.9 108.9h2.1v2.1h-2.1zM657.0 83.3h2.1v2.1h-2.1zM656.5 86.0h2.1v2.1h-2.1zM659.8 78.1h2.1v2.1h-2.1zM661.9 83.9h2.1v2.1h-2.1zM661.7 87.5h2.1v2.1h-2.1zM659.0 83.3h2.1v2.1h-2.1zM450.8 53.5h2.1v2.1h-2.1zM449.3 75.5h2.1v2.1h-2.1zM663.4 61.5h2.1v2.1h-2.1zM659.2 65.4h2.1v2.1h-2.1zM627.6 88.0h2.1v2.1h-2.1zM628.7 106.7h2.1v2.1h-2.1zM658.4 111.5h2.1v2.1h-2.1zM653.5 113.2h2.1v2.1h-2.1zM690.9 74.5h2.1v2.1h-2.1zM713.1 68.5h2.1v2.1h-2.1zM690.9 74.7h2.1v2.1h-2.1zM699.9 112.2h2.1v2.1h-2.1zM706.0 127.8h2.1v2.1h-2.1zM553.0 139.8h2.1v2.1h-2.1zM558.8 142.1h2.1v2.1h-2.1zM559.0 148.9h2.1v2.1h-2.1zM566.6 152.1h2.1v2.1h-2.1zM548.2 128.5h2.1v2.1h-2.1zM581.0 109.8h2.1v2.1h-2.1zM575.4 118.2h2.1v2.1h-2.1zM579.5 122.5h2.1v2.1h-2.1zM559.0 149.2h2.1v2.1h-2.1zM566.2 151.9h2.1v2.1h-2.1zM570.5 60.0h2.1v2.1h-2.1zM574.0 65.0h2.1v2.1h-2.1zM578.0 77.0h2.1v2.1h-2.1zM537.0 118.0h2.1v2.1h-2.1z" fill="#1a96f2"/>
<path d="M544.1 69.4h2.1v2.1h-2.1zM541.4 73.7h2.1v2.1h-2.1zM546.6 67.0h2.1v2.1h-2.1zM538.2 69.9h2.1v2.1h-2.1zM547.4 68.6h2.1v2.1h-2.1zM538.0 73.9h2.1v2.1h-2.1zM550.4 93.5h2.1v2.1h-2.1zM550.2 89.0h2.1v2.1h-2.1zM552.7 91.4h2.1v2.1h-2.1zM553.9 72.9h2.1v2.1h-2.1zM551.4 97.2h2.1v2.1h-2.1zM552.7 88.4h2.1v2.1h-2.1zM564.6 54.0h2.1v2.1h-2.1zM561.6 60.4h2.1v2.1h-2.1zM555.1 54.5h2.1v2.1h-2.1zM557.7 55.9h2.1v2.1h-2.1zM562.9 57.4h2.1v2.1h-2.1zM559.4 56.1h2.1v2.1h-2.1zM561.8 58.0h2.1v2.1h-2.1zM562.5 57.1h2.1v2.1h-2.1zM563.3 54.6h2.1v2.1h-2.1zM577.1 68.5h2.1v2.1h-2.1zM566.2 80.4h2.1v2.1h-2.1zM568.9 73.9h2.1v2.1h-2.1zM571.6 83.5h2.1v2.1h-2.1zM573.0 79.4h2.1v2.1h-2.1zM579.5 85.6h2.1v2.1h-2.1zM568.2 75.0h2.1v2.1h-2.1zM567.2 73.8h2.1v2.1h-2.1zM576.3 67.7h2.1v2.1h-2.1zM568.2 84.7h2.1v2.1h-2.1zM571.4 70.8h2.1v2.1h-2.1zM571.4 64.2h2.1v2.1h-2.1zM571.2 85.2h2.1v2.1h-2.1zM572.3 59.4h2.1v2.1h-2.1zM573.1 77.6h2.1v2.1h-2.1zM575.9 85.0h2.1v2.1h-2.1zM574.2 83.7h2.1v2.1h-2.1zM567.3 85.0h2.1v2.1h-2.1zM569.7 91.4h2.1v2.1h-2.1zM566.6 94.5h2.1v2.1h-2.1zM579.3 84.5h2.1v2.1h-2.1zM572.8 62.9h2.1v2.1h-2.1zM576.3 59.8h2.1v2.1h-2.1zM566.3 64.5h2.1v2.1h-2.1zM567.9 84.9h2.1v2.1h-2.1zM577.2 66.0h2.1v2.1h-2.1zM573.2 89.6h2.1v2.1h-2.1zM566.4 122.7h2.1v2.1h-2.1zM556.1 101.5h2.1v2.1h-2.1zM562.9 60.7h2.1v2.1h-2.1zM557.0 90.0h2.1v2.1h-2.1zM560.2 69.9h2.1v2.1h-2.1zM561.1 105.1h2.1v2.1h-2.1zM561.7 118.6h2.1v2.1h-2.1zM557.5 106.9h2.1v2.1h-2.1zM566.2 86.3h2.1v2.1h-2.1zM559.7 126.1h2.1v2.1h-2.1zM565.0 84.7h2.1v2.1h-2.1zM556.8 73.1h2.1v2.1h-2.1zM560.4 81.6h2.1v2.1h-2.1zM563.1 75.7h2.1v2.1h-2.1zM556.2 67.5h2.1v2.1h-2.1zM565.8 72.1h2.1v2.1h-2.1zM556.1 100.2h2.1v2.1h-2.1zM559.6 86.2h2.1v2.1h-2.1zM560.4 71.9h2.1v2.1h-2.1zM566.2 122.4h2.1v2.1h-2.1zM556.1 112.8h2.1v2.1h-2.1zM561.6 89.4h2.1v2.1h-2.1zM556.4 70.5h2.1v2.1h-2.1zM546.2 119.4h2.1v2.1h-2.1zM552.1 118.3h2.1v2.1h-2.1zM555.3 117.6h2.1v2.1h-2.1zM539.7 115.3h2.1v2.1h-2.1zM540.7 99.7h2.1v2.1h-2.1zM539.5 102.4h2.1v2.1h-2.1zM539.2 116.9h2.1v2.1h-2.1zM543.1 122.2h2.1v2.1h-2.1zM547.5 104.6h2.1v2.1h-2.1zM550.5 124.9h2.1v2.1h-2.1zM544.8 125.9h2.1v2.1h-2.1zM553.3 105.0h2.1v2.1h-2.1zM555.8 99.2h2.1v2.1h-2.1zM547.7 110.7h2.1v2.1h-2.1zM540.7 113.2h2.1v2.1h-2.1zM553.2 119.4h2.1v2.1h-2.1zM567.1 106.3h2.1v2.1h-2.1zM587.0 110.9h2.1v2.1h-2.1zM580.9 104.5h2.1v2.1h-2.1zM586.8 89.0h2.1v2.1h-2.1zM573.2 103.5h2.1v2.1h-2.1zM586.3 107.2h2.1v2.1h-2.1zM568.2 89.2h2.1v2.1h-2.1zM567.0 103.4h2.1v2.1h-2.1zM581.8 105.2h2.1v2.1h-2.1zM568.7 87.4h2.1v2.1h-2.1zM587.8 98.1h2.1v2.1h-2.1zM577.8 106.6h2.1v2.1h-2.1zM569.8 109.0h2.1v2.1h-2.1zM577.2 94.4h2.1v2.1h-2.1zM586.8 106.2h2.1v2.1h-2.1zM583.6 109.0h2.1v2.1h-2.1zM586.5 93.0h2.1v2.1h-2.1zM583.0 105.9h2.1v2.1h-2.1zM573.0 89.0h2.1v2.1h-2.1zM585.1 87.4h2.1v2.1h-2.1zM574.3 93.9h2.1v2.1h-2.1zM580.6 91.0h2.1v2.1h-2.1zM586.5 105.1h2.1v2.1h-2.1zM585.1 97.6h2.1v2.1h-2.1zM739.1 60.3h2.1v2.1h-2.1zM734.8 66.9h2.1v2.1h-2.1zM748.9 90.2h2.1v2.1h-2.1zM741.7 67.8h2.1v2.1h-2.1zM728.4 85.2h2.1v2.1h-2.1zM731.0 67.1h2.1v2.1h-2.1zM747.4 74.8h2.1v2.1h-2.1zM748.6 71.6h2.1v2.1h-2.1zM749.7 53.3h2.1v2.1h-2.1zM738.0 72.1h2.1v2.1h-2.1zM732.6 76.5h2.1v2.1h-2.1zM748.6 65.1h2.1v2.1h-2.1zM750.4 78.3h2.1v2.1h-2.1zM732.3 78.3h2.1v2.1h-2.1zM732.0 65.6h2.1v2.1h-2.1zM733.8 65.0h2.1v2.1h-2.1zM739.4 96.9h2.1v2.1h-2.1zM746.0 91.2h2.1v2.1h-2.1zM738.1 53.5h2.1v2.1h-2.1zM732.3 84.4h2.1v2.1h-2.1zM743.1 65.0h2.1v2.1h-2.1zM743.2 90.9h2.1v2.1h-2.1zM745.6 89.3h2.1v2.1h-2.1zM729.2 80.1h2.1v2.1h-2.1zM732.2 85.8h2.1v2.1h-2.1zM729.0 87.1h2.1v2.1h-2.1zM740.9 63.1h2.1v2.1h-2.1zM731.4 71.1h2.1v2.1h-2.1zM742.5 75.6h2.1v2.1h-2.1zM750.5 69.6h2.1v2.1h-2.1zM731.7 92.5h2.1v2.1h-2.1zM731.3 96.9h2.1v2.1h-2.1zM740.8 72.0h2.1v2.1h-2.1zM747.7 53.7h2.1v2.1h-2.1zM737.9 82.5h2.1v2.1h-2.1zM749.2 96.7h2.1v2.1h-2.1zM750.1 63.9h2.1v2.1h-2.1zM745.5 97.2h2.1v2.1h-2.1zM731.4 62.2h2.1v2.1h-2.1zM749.3 72.3h2.1v2.1h-2.1zM748.4 98.0h2.1v2.1h-2.1zM746.9 97.8h2.1v2.1h-2.1zM736.2 61.8h2.1v2.1h-2.1zM745.6 73.3h2.1v2.1h-2.1zM746.0 119.3h2.1v2.1h-2.1zM732.2 116.2h2.1v2.1h-2.1zM738.4 108.7h2.1v2.1h-2.1zM734.4 97.0h2.1v2.1h-2.1zM736.4 117.3h2.1v2.1h-2.1zM734.7 113.7h2.1v2.1h-2.1zM742.1 107.4h2.1v2.1h-2.1zM739.5 102.8h2.1v2.1h-2.1zM738.3 98.9h2.1v2.1h-2.1zM733.6 108.1h2.1v2.1h-2.1zM729.6 100.6h2.1v2.1h-2.1zM748.8 106.9h2.1v2.1h-2.1zM729.7 103.2h2.1v2.1h-2.1zM742.5 96.6h2.1v2.1h-2.1zM739.9 94.1h2.1v2.1h-2.1zM745.7 118.0h2.1v2.1h-2.1zM730.6 115.1h2.1v2.1h-2.1zM746.7 105.3h2.1v2.1h-2.1zM729.8 113.9h2.1v2.1h-2.1zM734.9 117.3h2.1v2.1h-2.1zM744.4 94.8h2.1v2.1h-2.1zM729.4 108.7h2.1v2.1h-2.1zM739.9 102.1h2.1v2.1h-2.1zM732.1 109.5h2.1v2.1h-2.1zM738.7 116.6h2.1v2.1h-2.1zM737.4 102.6h2.1v2.1h-2.1zM750.4 114.2h2.1v2.1h-2.1zM743.7 101.3h2.1v2.1h-2.1zM737.7 118.1h2.1v2.1h-2.1zM747.1 117.4h2.1v2.1h-2.1zM729.4 97.3h2.1v2.1h-2.1zM746.5 100.6h2.1v2.1h-2.1zM738.2 107.3h2.1v2.1h-2.1zM738.6 99.9h2.1v2.1h-2.1zM733.3 109.0h2.1v2.1h-2.1zM739.3 104.0h2.1v2.1h-2.1zM742.4 108.3h2.1v2.1h-2.1zM746.5 102.9h2.1v2.1h-2.1zM747.1 103.8h2.1v2.1h-2.1zM748.6 102.7h2.1v2.1h-2.1zM746.6 107.2h2.1v2.1h-2.1zM734.6 104.2h2.1v2.1h-2.1zM745.2 108.1h2.1v2.1h-2.1zM737.4 110.1h2.1v2.1h-2.1zM739.4 109.5h2.1v2.1h-2.1zM740.4 102.4h2.1v2.1h-2.1zM746.5 106.7h2.1v2.1h-2.1zM741.5 104.3h2.1v2.1h-2.1zM658.6 89.0h2.1v2.1h-2.1zM660.3 85.4h2.1v2.1h-2.1zM658.7 77.3h2.1v2.1h-2.1zM657.7 80.2h2.1v2.1h-2.1zM661.0 81.5h2.1v2.1h-2.1zM658.3 87.9h2.1v2.1h-2.1zM455.8 55.0h2.1v2.1h-2.1zM446.1 59.6h2.1v2.1h-2.1zM447.4 64.4h2.1v2.1h-2.1zM456.6 68.2h2.1v2.1h-2.1zM448.3 79.8h2.1v2.1h-2.1zM455.8 93.0h2.1v2.1h-2.1zM661.5 87.0h2.1v2.1h-2.1zM663.0 88.5h2.1v2.1h-2.1zM662.9 92.0h2.1v2.1h-2.1zM627.4 101.7h2.1v2.1h-2.1zM589.4 109.2h2.1v2.1h-2.1zM650.9 120.4h2.1v2.1h-2.1zM722.2 55.7h2.1v2.1h-2.1zM722.2 112.2h2.1v2.1h-2.1zM568.2 153.8h2.1v2.1h-2.1zM577.8 138.1h2.1v2.1h-2.1zM566.2 130.9h2.1v2.1h-2.1zM569.0 129.3h2.1v2.1h-2.1zM584.2 113.4h2.1v2.1h-2.1zM586.6 113.4h2.1v2.1h-2.1zM587.8 116.5h2.1v2.1h-2.1zM589.0 109.0h2.1v2.1h-2.1zM578.6 113.4h2.1v2.1h-2.1zM567.7 153.9h2.1v2.1h-2.1zM543.5 66.0h2.1v2.1h-2.1zM552.5 66.0h2.1v2.1h-2.1zM591.5 98.0h2.1v2.1h-2.1zM593.0 101.0h2.1v2.1h-2.1zM594.0 105.0h2.1v2.1h-2.1z" fill="#ff4f28"/>
<path d="M553.2 83.7h2.1v2.1h-2.1zM569.8 65.0h2.1v2.1h-2.1zM576.0 59.9h2.1v2.1h-2.1zM574.7 68.7h2.1v2.1h-2.1zM551.8 108.7h2.1v2.1h-2.1zM553.3 111.8h2.1v2.1h-2.1zM543.0 121.9h2.1v2.1h-2.1zM539.5 113.4h2.1v2.1h-2.1zM543.2 111.1h2.1v2.1h-2.1zM539.1 126.2h2.1v2.1h-2.1zM554.0 125.6h2.1v2.1h-2.1zM549.6 106.7h2.1v2.1h-2.1zM545.7 99.2h2.1v2.1h-2.1zM546.0 103.3h2.1v2.1h-2.1zM731.2 93.0h2.1v2.1h-2.1zM746.8 96.1h2.1v2.1h-2.1zM731.0 105.5h2.1v2.1h-2.1zM748.2 110.7h2.1v2.1h-2.1zM731.4 102.4h2.1v2.1h-2.1zM536.5 78.0h2.1v2.1h-2.1zM536.5 81.0h2.1v2.1h-2.1zM536.5 84.0h2.1v2.1h-2.1zM536.5 87.0h2.1v2.1h-2.1zM536.5 91.0h2.1v2.1h-2.1zM536.5 94.0h2.1v2.1h-2.1zM536.5 97.0h2.1v2.1h-2.1zM536.5 100.0h2.1v2.1h-2.1zM536.5 102.0h2.1v2.1h-2.1zM657.4 90.2h2.1v2.1h-2.1zM660.6 91.2h2.1v2.1h-2.1zM660.8 82.8h2.1v2.1h-2.1zM657.4 85.0h2.1v2.1h-2.1zM728.0 77.0h2.1v2.1h-2.1zM728.0 80.0h2.1v2.1h-2.1zM728.0 83.0h2.1v2.1h-2.1zM728.0 88.0h2.1v2.1h-2.1zM728.0 92.0h2.1v2.1h-2.1zM454.8 98.2h2.1v2.1h-2.1zM655.0 55.8h2.1v2.1h-2.1zM660.1 73.5h2.1v2.1h-2.1zM651.5 78.0h2.1v2.1h-2.1zM656.4 101.0h2.1v2.1h-2.1zM661.4 119.5h2.1v2.1h-2.1zM706.0 65.5h2.1v2.1h-2.1zM707.9 103.2h2.1v2.1h-2.1zM718.4 118.8h2.1v2.1h-2.1zM565.8 146.1h2.1v2.1h-2.1zM556.2 151.8h2.1v2.1h-2.1zM570.6 127.4h2.1v2.1h-2.1zM556.2 151.9h2.1v2.1h-2.1z" fill="#8000ff"/>
<path d="M562.9 59.9h2.1v2.1h-2.1zM560.6 53.3h2.1v2.1h-2.1zM560.9 53.4h2.1v2.1h-2.1zM560.0 53.8h2.1v2.1h-2.1zM563.7 60.7h2.1v2.1h-2.1zM555.3 56.1h2.1v2.1h-2.1zM574.5 70.6h2.1v2.1h-2.1zM574.4 76.3h2.1v2.1h-2.1zM574.3 92.4h2.1v2.1h-2.1zM575.2 59.0h2.1v2.1h-2.1zM579.2 96.0h2.1v2.1h-2.1zM570.9 94.4h2.1v2.1h-2.1zM568.9 66.4h2.1v2.1h-2.1zM575.8 78.6h2.1v2.1h-2.1zM565.1 79.9h2.1v2.1h-2.1zM561.9 104.9h2.1v2.1h-2.1zM575.8 99.0h2.1v2.1h-2.1zM584.1 89.0h2.1v2.1h-2.1zM589.5 89.1h2.1v2.1h-2.1zM573.2 90.2h2.1v2.1h-2.1zM736.2 85.6h2.1v2.1h-2.1zM747.0 84.0h2.1v2.1h-2.1zM729.2 85.0h2.1v2.1h-2.1zM746.7 54.9h2.1v2.1h-2.1zM742.0 78.0h2.1v2.1h-2.1zM730.1 82.1h2.1v2.1h-2.1zM746.2 89.1h2.1v2.1h-2.1zM750.4 55.8h2.1v2.1h-2.1zM750.3 59.5h2.1v2.1h-2.1zM750.6 54.0h2.1v2.1h-2.1zM738.1 83.8h2.1v2.1h-2.1zM741.6 81.1h2.1v2.1h-2.1zM739.0 56.7h2.1v2.1h-2.1zM749.6 94.7h2.1v2.1h-2.1zM747.8 90.5h2.1v2.1h-2.1zM736.5 89.2h2.1v2.1h-2.1zM732.8 61.8h2.1v2.1h-2.1zM740.5 72.1h2.1v2.1h-2.1zM745.7 63.2h2.1v2.1h-2.1zM735.3 100.7h2.1v2.1h-2.1zM736.6 97.9h2.1v2.1h-2.1zM732.9 94.3h2.1v2.1h-2.1zM744.2 118.4h2.1v2.1h-2.1zM740.1 118.8h2.1v2.1h-2.1zM738.3 107.1h2.1v2.1h-2.1zM734.8 102.5h2.1v2.1h-2.1zM749.3 115.1h2.1v2.1h-2.1zM738.7 95.4h2.1v2.1h-2.1zM738.1 102.6h2.1v2.1h-2.1zM728.8 112.3h2.1v2.1h-2.1zM735.2 108.0h2.1v2.1h-2.1zM730.9 96.2h2.1v2.1h-2.1zM738.6 119.1h2.1v2.1h-2.1zM745.9 95.2h2.1v2.1h-2.1zM745.8 118.1h2.1v2.1h-2.1zM735.9 99.6h2.1v2.1h-2.1zM740.5 100.9h2.1v2.1h-2.1zM738.2 117.4h2.1v2.1h-2.1zM731.9 113.1h2.1v2.1h-2.1zM729.0 106.1h2.1v2.1h-2.1zM733.8 110.8h2.1v2.1h-2.1zM733.1 101.0h2.1v2.1h-2.1zM737.2 107.7h2.1v2.1h-2.1zM734.7 107.9h2.1v2.1h-2.1zM737.8 106.8h2.1v2.1h-2.1zM742.0 106.3h2.1v2.1h-2.1zM746.3 108.0h2.1v2.1h-2.1zM745.9 107.1h2.1v2.1h-2.1zM741.4 110.3h2.1v2.1h-2.1zM748.3 104.2h2.1v2.1h-2.1zM743.8 110.2h2.1v2.1h-2.1zM740.8 101.3h2.1v2.1h-2.1zM659.1 87.3h2.1v2.1h-2.1zM659.1 78.4h2.1v2.1h-2.1zM657.5 91.6h2.1v2.1h-2.1zM661.5 83.1h2.1v2.1h-2.1zM412.6 83.8h2.1v2.1h-2.1zM663.9 75.0h2.1v2.1h-2.1zM662.7 79.5h2.1v2.1h-2.1zM662.9 83.8h2.1v2.1h-2.1zM664.9 102.8h2.1v2.1h-2.1zM720.7 82.7h2.1v2.1h-2.1zM721.5 83.5h2.1v2.1h-2.1zM578.6 135.8h2.1v2.1h-2.1zM573.4 129.3h2.1v2.1h-2.1zM558.2 152.9h2.1v2.1h-2.1zM573.0 62.0h2.1v2.1h-2.1zM575.5 58.0h2.1v2.1h-2.1z" fill="#e6ce74"/>
<path d="M556.9 58.8h2.1v2.1h-2.1zM555.2 60.5h2.1v2.1h-2.1zM570.4 74.6h2.1v2.1h-2.1zM566.9 65.1h2.1v2.1h-2.1zM574.2 89.2h2.1v2.1h-2.1zM579.3 86.3h2.1v2.1h-2.1zM538.6 106.5h2.1v2.1h-2.1zM550.9 115.0h2.1v2.1h-2.1zM550.0 105.7h2.1v2.1h-2.1zM538.8 99.6h2.1v2.1h-2.1zM553.5 107.8h2.1v2.1h-2.1zM550.4 125.9h2.1v2.1h-2.1zM543.3 117.2h2.1v2.1h-2.1zM544.3 110.9h2.1v2.1h-2.1zM551.2 106.4h2.1v2.1h-2.1zM555.9 119.3h2.1v2.1h-2.1zM549.1 99.2h2.1v2.1h-2.1zM552.0 101.3h2.1v2.1h-2.1zM548.4 117.3h2.1v2.1h-2.1zM728.6 84.0h2.1v2.1h-2.1zM739.8 68.7h2.1v2.1h-2.1zM735.1 72.5h2.1v2.1h-2.1zM729.5 97.5h2.1v2.1h-2.1zM743.0 55.4h2.1v2.1h-2.1zM728.3 67.4h2.1v2.1h-2.1zM734.3 90.4h2.1v2.1h-2.1zM740.9 70.6h2.1v2.1h-2.1zM739.6 98.7h2.1v2.1h-2.1zM733.6 115.3h2.1v2.1h-2.1zM734.6 106.2h2.1v2.1h-2.1zM747.6 102.1h2.1v2.1h-2.1zM735.5 117.3h2.1v2.1h-2.1zM729.0 119.3h2.1v2.1h-2.1zM735.2 95.6h2.1v2.1h-2.1zM743.7 101.9h2.1v2.1h-2.1zM447.9 82.0h2.1v2.1h-2.1zM716.2 61.9h2.1v2.1h-2.1zM565.0 142.1h2.1v2.1h-2.1zM561.0 146.9h2.1v2.1h-2.1zM547.0 148.9h2.1v2.1h-2.1zM569.8 154.1h2.1v2.1h-2.1zM542.2 129.8h2.1v2.1h-2.1zM571.8 130.9h2.1v2.1h-2.1zM576.0 123.5h2.1v2.1h-2.1zM547.0 149.2h2.1v2.1h-2.1zM561.7 150.6h2.1v2.1h-2.1zM570.0 153.9h2.1v2.1h-2.1zM577.0 71.0h2.1v2.1h-2.1z" fill="#99fca5"/>
<path d="M573.8 68.5h2.1v2.1h-2.1zM576.9 71.4h2.1v2.1h-2.1zM576.2 90.5h2.1v2.1h-2.1zM576.5 64.9h2.1v2.1h-2.1zM570.4 60.4h2.1v2.1h-2.1zM578.6 89.2h2.1v2.1h-2.1zM569.2 96.1h2.1v2.1h-2.1zM567.3 66.0h2.1v2.1h-2.1zM576.9 63.7h2.1v2.1h-2.1zM570.4 59.8h2.1v2.1h-2.1zM572.1 83.3h2.1v2.1h-2.1zM573.0 64.3h2.1v2.1h-2.1zM577.3 64.2h2.1v2.1h-2.1zM571.2 81.0h2.1v2.1h-2.1zM573.7 80.1h2.1v2.1h-2.1zM574.4 94.6h2.1v2.1h-2.1zM571.6 66.6h2.1v2.1h-2.1zM578.8 83.3h2.1v2.1h-2.1zM567.6 68.8h2.1v2.1h-2.1zM554.8 114.8h2.1v2.1h-2.1zM544.8 114.3h2.1v2.1h-2.1zM550.1 108.4h2.1v2.1h-2.1zM555.8 117.1h2.1v2.1h-2.1zM553.8 99.0h2.1v2.1h-2.1zM548.6 108.0h2.1v2.1h-2.1zM552.1 117.4h2.1v2.1h-2.1zM543.9 118.8h2.1v2.1h-2.1zM546.8 114.7h2.1v2.1h-2.1zM553.4 125.4h2.1v2.1h-2.1zM554.1 112.1h2.1v2.1h-2.1zM542.2 99.3h2.1v2.1h-2.1zM541.8 102.0h2.1v2.1h-2.1zM539.5 104.1h2.1v2.1h-2.1zM554.4 123.5h2.1v2.1h-2.1zM555.9 123.6h2.1v2.1h-2.1zM554.0 103.5h2.1v2.1h-2.1zM588.0 105.9h2.1v2.1h-2.1zM572.7 101.0h2.1v2.1h-2.1zM732.4 91.6h2.1v2.1h-2.1zM738.1 97.8h2.1v2.1h-2.1zM747.9 97.9h2.1v2.1h-2.1zM749.0 60.1h2.1v2.1h-2.1zM734.5 78.9h2.1v2.1h-2.1zM739.7 78.5h2.1v2.1h-2.1zM728.8 92.9h2.1v2.1h-2.1zM749.8 90.1h2.1v2.1h-2.1zM742.3 95.7h2.1v2.1h-2.1zM742.9 59.0h2.1v2.1h-2.1zM741.9 86.8h2.1v2.1h-2.1zM747.4 120.5h2.1v2.1h-2.1zM730.3 119.5h2.1v2.1h-2.1zM746.1 102.1h2.1v2.1h-2.1zM737.9 104.4h2.1v2.1h-2.1zM750.5 109.8h2.1v2.1h-2.1zM743.7 109.0h2.1v2.1h-2.1zM744.1 100.9h2.1v2.1h-2.1zM737.1 106.4h2.1v2.1h-2.1zM738.1 121.3h2.1v2.1h-2.1zM741.2 98.8h2.1v2.1h-2.1zM740.7 99.1h2.1v2.1h-2.1zM746.1 108.0h2.1v2.1h-2.1zM733.4 108.7h2.1v2.1h-2.1zM739.1 108.4h2.1v2.1h-2.1zM741.5 106.5h2.1v2.1h-2.1zM745.6 110.6h2.1v2.1h-2.1zM736.6 108.1h2.1v2.1h-2.1zM634.1 109.0h2.1v2.1h-2.1zM698.4 71.5h2.1v2.1h-2.1zM698.9 71.8h2.1v2.1h-2.1zM705.1 86.9h2.1v2.1h-2.1zM708.0 87.2h2.1v2.1h-2.1zM705.2 90.0h2.1v2.1h-2.1zM707.7 92.5h2.1v2.1h-2.1zM703.4 99.9h2.1v2.1h-2.1zM706.0 99.0h2.1v2.1h-2.1zM704.2 103.0h2.1v2.1h-2.1zM705.1 114.0h2.1v2.1h-2.1zM569.0 142.9h2.1v2.1h-2.1zM554.2 147.3h2.1v2.1h-2.1zM563.4 146.5h2.1v2.1h-2.1zM564.2 150.9h2.1v2.1h-2.1zM571.0 150.9h2.1v2.1h-2.1zM547.8 154.1h2.1v2.1h-2.1zM538.6 125.4h2.1v2.1h-2.1zM540.2 128.5h2.1v2.1h-2.1zM545.4 130.9h2.1v2.1h-2.1zM552.2 130.9h2.1v2.1h-2.1zM555.0 132.9h2.1v2.1h-2.1zM548.0 153.9h2.1v2.1h-2.1zM562.0 149.2h2.1v2.1h-2.1zM564.7 150.9h2.1v2.1h-2.1zM571.0 150.9h2.1v2.1h-2.1zM572.0 152.6h2.1v2.1h-2.1z" fill="#ff964f"/>
<path d="M552.2 108.8h2.1v2.1h-2.1zM547.1 100.1h2.1v2.1h-2.1zM750.1 108.4h2.1v2.1h-2.1zM729.0 112.3h2.1v2.1h-2.1zM749.1 120.9h2.1v2.1h-2.1zM741.4 112.1h2.1v2.1h-2.1zM657.9 82.8h2.1v2.1h-2.1zM660.7 89.9h2.1v2.1h-2.1zM660.4 80.2h2.1v2.1h-2.1zM661.6 85.2h2.1v2.1h-2.1zM660.6 79.4h2.1v2.1h-2.1zM656.9 86.4h2.1v2.1h-2.1zM660.3 86.2h2.1v2.1h-2.1zM577.0 120.0h2.1v2.1h-2.1zM538.0 124.0h2.1v2.1h-2.1z" fill="#4d4ffc"/></g>
<g clip-path="url(#rightclip)"><polygon points="818.0,299.0 828.0,296.5 842.0,296.0 855.0,297.5 861.0,300.0 861.0,322.0 850.0,323.5 838.0,324.0 826.0,323.0 818.0,320.0 815.0,312.0 815.0,304.0" fill="#ff4f28"/>
<polygon points="779.0,407.0 785.0,403.0 792.0,402.5 800.0,404.0 803.0,409.0 802.0,415.0 795.0,417.5 786.0,417.0 780.0,413.0" fill="#ff964f"/>
<polygon points="819.0,402.0 828.0,401.0 836.0,401.3 841.0,404.0 841.0,409.0 836.0,412.0 826.0,412.2 819.0,411.0 816.0,407.0" fill="#ff4f28"/>
<polygon points="838.0,402.5 843.5,404.0 844.5,411.0 838.0,412.0" fill="#33e3da"/>
<polygon points="806.0,406.0 812.0,404.0 818.0,404.0 818.0,410.0 815.0,416.0 812.0,424.0 808.0,431.0 804.4,431.0 804.0,424.0 806.0,414.0" fill="#ff4f28"/>
<polygon points="817.0,414.0 826.0,413.1 835.0,413.5 837.0,416.5 834.0,421.5 822.0,422.1 817.0,420.0" fill="#99fca5"/>
<polygon points="833.0,415.0 837.0,416.0 837.0,420.0 833.0,420.5" fill="#33e3da"/>
<polygon points="773.0,440.0 778.0,435.5 785.0,433.0 795.0,431.0 812.0,428.5 830.0,429.5 845.0,433.0 857.0,437.0 861.0,440.0 861.0,448.0 852.0,451.0 845.0,455.0 830.0,457.0 815.0,457.0 806.0,452.0 795.0,448.0 785.0,447.0 777.0,445.0" fill="#ff4f28"/>
<polygon points="778.0,452.0 790.0,451.0 805.0,452.5 815.0,456.0 800.0,457.0 785.0,456.5 778.0,455.0" fill="#ff4f28"/>
<polygon points="853.0,439.0 861.0,441.0 861.0,451.0 853.0,452.0" fill="#e6ce74"/>
<polygon points="830.0,429.5 846.0,432.0 848.0,436.0 831.0,436.0" fill="#99fca5"/>
<polygon points="781.0,468.0 800.0,467.5 830.0,467.8 852.0,468.5 857.0,470.5 855.0,474.0 835.0,475.3 805.0,475.2 782.0,474.5 780.0,471.0" fill="#ff964f"/>
<polygon points="800.0,469.0 830.0,468.8 850.0,469.5 852.0,472.5 835.0,474.2 805.0,473.8" fill="#ff4f28"/>
<polygon points="782.0,469.0 797.0,468.5 798.0,473.5 783.0,473.8" fill="#99fca5"/>
<polygon points="782.0,433.5 792.0,432.5 797.0,435.0 786.0,437.0" fill="#e6ce74"/>
<path d="M838.5 315.8h2.1v2.1h-2.1zM857.0 300.0h2.1v2.1h-2.1zM837.5 296.0h2.1v2.1h-2.1zM847.8 315.0h2.1v2.1h-2.1zM850.4 300.7h2.1v2.1h-2.1zM847.4 323.6h2.1v2.1h-2.1zM845.1 306.8h2.1v2.1h-2.1zM857.0 310.6h2.1v2.1h-2.1zM839.5 316.8h2.1v2.1h-2.1zM854.1 308.2h2.1v2.1h-2.1zM849.0 298.8h2.1v2.1h-2.1zM828.1 306.4h2.1v2.1h-2.1zM844.2 296.8h2.1v2.1h-2.1zM833.6 305.9h2.1v2.1h-2.1zM845.2 315.3h2.1v2.1h-2.1zM811.4 303.1h2.1v2.1h-2.1zM811.6 316.8h2.1v2.1h-2.1zM829.3 305.6h2.1v2.1h-2.1zM856.2 296.9h2.1v2.1h-2.1zM827.1 299.0h2.1v2.1h-2.1zM832.5 312.6h2.1v2.1h-2.1zM849.9 305.3h2.1v2.1h-2.1zM836.4 297.8h2.1v2.1h-2.1zM830.8 302.1h2.1v2.1h-2.1zM835.2 299.7h2.1v2.1h-2.1zM855.1 306.3h2.1v2.1h-2.1zM822.0 317.6h2.1v2.1h-2.1zM854.3 298.1h2.1v2.1h-2.1zM853.4 315.3h2.1v2.1h-2.1zM826.6 322.4h2.1v2.1h-2.1zM842.6 294.2h2.1v2.1h-2.1zM827.0 293.5h2.1v2.1h-2.1zM855.8 323.1h2.1v2.1h-2.1zM833.3 321.0h2.1v2.1h-2.1zM855.9 319.1h2.1v2.1h-2.1zM811.1 309.9h2.1v2.1h-2.1zM820.3 305.2h2.1v2.1h-2.1zM849.9 305.8h2.1v2.1h-2.1zM839.4 322.3h2.1v2.1h-2.1zM817.8 304.2h2.1v2.1h-2.1zM858.0 323.1h2.1v2.1h-2.1zM826.1 308.8h2.1v2.1h-2.1zM853.9 311.6h2.1v2.1h-2.1zM840.8 310.2h2.1v2.1h-2.1zM847.4 301.1h2.1v2.1h-2.1zM852.4 315.9h2.1v2.1h-2.1zM827.6 309.6h2.1v2.1h-2.1zM847.9 312.8h2.1v2.1h-2.1zM827.5 298.9h2.1v2.1h-2.1zM830.1 317.8h2.1v2.1h-2.1zM830.7 298.5h2.1v2.1h-2.1zM859.8 313.3h2.1v2.1h-2.1zM826.3 322.7h2.1v2.1h-2.1zM847.2 309.9h2.1v2.1h-2.1zM819.3 293.4h2.1v2.1h-2.1zM836.4 320.9h2.1v2.1h-2.1zM818.4 302.2h2.1v2.1h-2.1zM836.0 307.8h2.1v2.1h-2.1zM819.6 294.2h2.1v2.1h-2.1zM828.9 305.6h2.1v2.1h-2.1zM842.1 318.2h2.1v2.1h-2.1zM834.8 313.9h2.1v2.1h-2.1zM841.0 313.6h2.1v2.1h-2.1zM838.2 304.6h2.1v2.1h-2.1zM835.6 321.5h2.1v2.1h-2.1zM835.2 315.4h2.1v2.1h-2.1zM854.6 313.5h2.1v2.1h-2.1zM827.4 319.6h2.1v2.1h-2.1zM853.6 309.8h2.1v2.1h-2.1zM824.9 318.1h2.1v2.1h-2.1zM822.8 294.7h2.1v2.1h-2.1zM838.2 322.7h2.1v2.1h-2.1zM833.1 319.6h2.1v2.1h-2.1zM841.1 320.8h2.1v2.1h-2.1zM858.9 320.7h2.1v2.1h-2.1zM842.9 324.1h2.1v2.1h-2.1zM826.2 305.6h2.1v2.1h-2.1zM846.1 305.7h2.1v2.1h-2.1zM827.1 302.6h2.1v2.1h-2.1zM840.2 315.6h2.1v2.1h-2.1zM854.0 310.6h2.1v2.1h-2.1zM827.7 316.6h2.1v2.1h-2.1zM855.5 322.1h2.1v2.1h-2.1zM811.5 299.7h2.1v2.1h-2.1zM833.6 315.2h2.1v2.1h-2.1zM817.3 309.0h2.1v2.1h-2.1zM839.5 306.7h2.1v2.1h-2.1zM812.9 320.8h2.1v2.1h-2.1zM844.0 324.7h2.1v2.1h-2.1zM844.0 315.6h2.1v2.1h-2.1zM830.1 312.0h2.1v2.1h-2.1zM848.7 311.1h2.1v2.1h-2.1zM854.3 313.6h2.1v2.1h-2.1zM832.6 314.3h2.1v2.1h-2.1zM827.8 309.2h2.1v2.1h-2.1zM818.1 318.9h2.1v2.1h-2.1zM815.8 317.5h2.1v2.1h-2.1zM827.7 298.1h2.1v2.1h-2.1zM846.5 293.0h2.1v2.1h-2.1zM857.4 308.7h2.1v2.1h-2.1zM841.5 305.6h2.1v2.1h-2.1zM829.0 318.8h2.1v2.1h-2.1zM840.8 297.6h2.1v2.1h-2.1zM840.5 310.1h2.1v2.1h-2.1zM819.4 297.2h2.1v2.1h-2.1zM838.7 298.2h2.1v2.1h-2.1zM841.8 324.1h2.1v2.1h-2.1zM837.6 299.5h2.1v2.1h-2.1zM843.6 295.2h2.1v2.1h-2.1zM858.9 315.8h2.1v2.1h-2.1zM856.6 316.6h2.1v2.1h-2.1zM813.0 303.3h2.1v2.1h-2.1zM858.6 312.8h2.1v2.1h-2.1zM849.1 309.4h2.1v2.1h-2.1zM841.6 301.5h2.1v2.1h-2.1zM812.1 307.7h2.1v2.1h-2.1zM834.1 314.3h2.1v2.1h-2.1zM840.4 300.9h2.1v2.1h-2.1zM848.3 316.6h2.1v2.1h-2.1zM848.8 312.7h2.1v2.1h-2.1zM846.8 293.6h2.1v2.1h-2.1zM851.1 302.1h2.1v2.1h-2.1zM849.5 314.9h2.1v2.1h-2.1zM834.7 313.1h2.1v2.1h-2.1zM832.3 317.9h2.1v2.1h-2.1zM853.4 316.7h2.1v2.1h-2.1zM837.7 296.8h2.1v2.1h-2.1zM815.1 304.3h2.1v2.1h-2.1zM813.9 309.7h2.1v2.1h-2.1zM840.5 323.3h2.1v2.1h-2.1zM827.8 293.5h2.1v2.1h-2.1zM828.0 293.1h2.1v2.1h-2.1zM855.7 322.9h2.1v2.1h-2.1zM852.9 306.9h2.1v2.1h-2.1zM829.8 324.0h2.1v2.1h-2.1zM830.7 299.4h2.1v2.1h-2.1zM838.8 294.3h2.1v2.1h-2.1zM823.0 323.4h2.1v2.1h-2.1zM858.3 305.1h2.1v2.1h-2.1zM838.5 315.4h2.1v2.1h-2.1zM828.1 305.5h2.1v2.1h-2.1zM799.2 303.9h2.1v2.1h-2.1zM812.5 307.3h2.1v2.1h-2.1zM796.3 302.2h2.1v2.1h-2.1zM805.3 301.6h2.1v2.1h-2.1zM807.1 311.5h2.1v2.1h-2.1zM795.6 303.2h2.1v2.1h-2.1zM817.1 310.7h2.1v2.1h-2.1zM813.4 308.6h2.1v2.1h-2.1zM797.2 304.0h2.1v2.1h-2.1zM812.5 309.9h2.1v2.1h-2.1zM798.2 302.1h2.1v2.1h-2.1zM803.7 311.1h2.1v2.1h-2.1zM806.0 300.6h2.1v2.1h-2.1zM797.8 314.1h2.1v2.1h-2.1zM796.8 312.0h2.1v2.1h-2.1zM806.1 305.2h2.1v2.1h-2.1zM796.1 317.0h2.1v2.1h-2.1zM802.5 302.2h2.1v2.1h-2.1zM805.0 315.6h2.1v2.1h-2.1zM803.7 317.3h2.1v2.1h-2.1zM808.5 318.0h2.1v2.1h-2.1zM802.0 304.7h2.1v2.1h-2.1zM795.3 313.4h2.1v2.1h-2.1zM799.6 317.8h2.1v2.1h-2.1zM798.1 314.8h2.1v2.1h-2.1zM796.1 315.3h2.1v2.1h-2.1zM787.5 314.4h2.1v2.1h-2.1zM836.6 171.8h2.1v2.1h-2.1zM853.1 157.8h2.1v2.1h-2.1zM820.4 177.1h2.1v2.1h-2.1zM852.8 167.8h2.1v2.1h-2.1zM846.9 158.3h2.1v2.1h-2.1zM837.7 165.8h2.1v2.1h-2.1zM836.3 174.1h2.1v2.1h-2.1zM831.7 177.4h2.1v2.1h-2.1zM816.1 171.1h2.1v2.1h-2.1zM814.0 165.8h2.1v2.1h-2.1zM829.5 167.2h2.1v2.1h-2.1zM822.5 166.9h2.1v2.1h-2.1zM833.5 164.8h2.1v2.1h-2.1zM831.9 163.0h2.1v2.1h-2.1zM812.0 204.4h2.1v2.1h-2.1zM817.5 204.4h2.1v2.1h-2.1zM830.5 199.4h2.1v2.1h-2.1zM847.0 195.9h2.1v2.1h-2.1zM852.0 195.4h2.1v2.1h-2.1zM857.0 201.9h2.1v2.1h-2.1zM843.0 204.4h2.1v2.1h-2.1zM823.1 240.1h2.1v2.1h-2.1zM825.3 238.7h2.1v2.1h-2.1zM829.6 238.0h2.1v2.1h-2.1zM828.2 238.2h2.1v2.1h-2.1zM826.8 236.2h2.1v2.1h-2.1zM826.5 236.5h2.1v2.1h-2.1zM828.8 241.0h2.1v2.1h-2.1zM821.5 236.9h2.1v2.1h-2.1zM823.0 237.9h2.1v2.1h-2.1zM822.0 236.4h2.1v2.1h-2.1zM794.6 453.8h2.1v2.1h-2.1zM832.9 429.7h2.1v2.1h-2.1zM810.9 449.5h2.1v2.1h-2.1zM781.5 431.3h2.1v2.1h-2.1zM832.6 427.4h2.1v2.1h-2.1zM860.0 452.3h2.1v2.1h-2.1zM778.9 438.2h2.1v2.1h-2.1zM782.1 446.0h2.1v2.1h-2.1zM823.0 438.0h2.1v2.1h-2.1zM830.3 446.0h2.1v2.1h-2.1zM858.2 430.1h2.1v2.1h-2.1zM815.4 454.4h2.1v2.1h-2.1zM852.6 439.7h2.1v2.1h-2.1zM837.4 454.9h2.1v2.1h-2.1zM809.3 455.3h2.1v2.1h-2.1zM826.5 443.6h2.1v2.1h-2.1zM822.3 449.3h2.1v2.1h-2.1zM772.6 447.5h2.1v2.1h-2.1zM807.5 431.6h2.1v2.1h-2.1zM820.9 436.2h2.1v2.1h-2.1zM772.8 450.9h2.1v2.1h-2.1zM838.2 428.9h2.1v2.1h-2.1zM793.7 435.6h2.1v2.1h-2.1zM807.4 428.8h2.1v2.1h-2.1zM779.2 435.9h2.1v2.1h-2.1zM774.3 446.0h2.1v2.1h-2.1zM858.9 431.8h2.1v2.1h-2.1zM772.1 428.1h2.1v2.1h-2.1zM818.0 455.0h2.1v2.1h-2.1zM799.5 441.6h2.1v2.1h-2.1zM855.4 435.5h2.1v2.1h-2.1zM833.1 438.2h2.1v2.1h-2.1zM820.5 432.9h2.1v2.1h-2.1zM859.4 429.8h2.1v2.1h-2.1zM827.2 435.6h2.1v2.1h-2.1zM833.4 431.6h2.1v2.1h-2.1zM791.1 448.5h2.1v2.1h-2.1zM860.4 437.3h2.1v2.1h-2.1zM846.3 430.9h2.1v2.1h-2.1zM855.3 450.2h2.1v2.1h-2.1zM849.2 448.7h2.1v2.1h-2.1zM859.1 442.4h2.1v2.1h-2.1zM830.1 442.3h2.1v2.1h-2.1zM787.9 432.0h2.1v2.1h-2.1zM772.3 438.0h2.1v2.1h-2.1zM816.8 444.0h2.1v2.1h-2.1zM779.9 443.6h2.1v2.1h-2.1zM803.7 452.0h2.1v2.1h-2.1zM827.8 445.2h2.1v2.1h-2.1zM853.4 427.2h2.1v2.1h-2.1zM786.5 435.5h2.1v2.1h-2.1zM791.5 433.3h2.1v2.1h-2.1zM843.6 431.1h2.1v2.1h-2.1zM848.1 433.5h2.1v2.1h-2.1zM772.4 430.5h2.1v2.1h-2.1zM822.5 456.9h2.1v2.1h-2.1zM823.1 445.4h2.1v2.1h-2.1zM836.4 449.4h2.1v2.1h-2.1zM802.2 437.7h2.1v2.1h-2.1zM820.1 456.4h2.1v2.1h-2.1zM774.0 445.1h2.1v2.1h-2.1zM806.0 432.7h2.1v2.1h-2.1zM827.1 430.2h2.1v2.1h-2.1zM797.6 441.4h2.1v2.1h-2.1zM778.0 453.2h2.1v2.1h-2.1zM839.3 438.5h2.1v2.1h-2.1zM797.2 452.3h2.1v2.1h-2.1zM799.5 439.9h2.1v2.1h-2.1zM842.6 432.3h2.1v2.1h-2.1zM801.5 427.0h2.1v2.1h-2.1zM853.0 437.8h2.1v2.1h-2.1zM781.1 438.4h2.1v2.1h-2.1zM806.7 455.1h2.1v2.1h-2.1zM817.1 439.2h2.1v2.1h-2.1zM816.2 444.9h2.1v2.1h-2.1zM852.0 427.8h2.1v2.1h-2.1zM791.4 428.3h2.1v2.1h-2.1zM838.4 432.8h2.1v2.1h-2.1zM820.7 451.6h2.1v2.1h-2.1zM803.1 453.6h2.1v2.1h-2.1zM788.0 446.5h2.1v2.1h-2.1zM811.7 437.7h2.1v2.1h-2.1zM857.6 440.6h2.1v2.1h-2.1zM794.3 430.1h2.1v2.1h-2.1zM795.8 443.6h2.1v2.1h-2.1zM855.7 441.0h2.1v2.1h-2.1zM848.0 445.5h2.1v2.1h-2.1zM777.0 413.0h2.1v2.1h-2.1zM835.1 399.9h2.1v2.1h-2.1zM780.0 426.4h2.1v2.1h-2.1zM779.7 416.1h2.1v2.1h-2.1zM782.0 418.7h2.1v2.1h-2.1zM804.4 408.5h2.1v2.1h-2.1zM778.3 408.2h2.1v2.1h-2.1zM838.2 404.9h2.1v2.1h-2.1zM789.4 401.0h2.1v2.1h-2.1zM840.4 425.9h2.1v2.1h-2.1zM838.3 410.6h2.1v2.1h-2.1zM842.5 410.7h2.1v2.1h-2.1zM803.3 417.7h2.1v2.1h-2.1zM837.5 399.2h2.1v2.1h-2.1zM831.3 406.9h2.1v2.1h-2.1zM840.5 417.2h2.1v2.1h-2.1zM777.2 420.9h2.1v2.1h-2.1zM802.4 409.2h2.1v2.1h-2.1zM811.2 409.4h2.1v2.1h-2.1zM826.5 405.3h2.1v2.1h-2.1zM816.5 414.7h2.1v2.1h-2.1zM777.0 399.1h2.1v2.1h-2.1zM832.6 424.8h2.1v2.1h-2.1zM827.1 402.6h2.1v2.1h-2.1zM820.0 401.5h2.1v2.1h-2.1zM791.3 412.1h2.1v2.1h-2.1zM790.7 401.3h2.1v2.1h-2.1zM803.7 407.3h2.1v2.1h-2.1zM823.4 409.8h2.1v2.1h-2.1zM814.7 430.8h2.1v2.1h-2.1zM819.4 415.7h2.1v2.1h-2.1zM821.7 405.7h2.1v2.1h-2.1zM791.6 422.3h2.1v2.1h-2.1zM800.3 418.7h2.1v2.1h-2.1zM784.9 425.6h2.1v2.1h-2.1zM825.3 430.1h2.1v2.1h-2.1zM781.2 410.0h2.1v2.1h-2.1zM843.7 402.3h2.1v2.1h-2.1zM793.4 399.1h2.1v2.1h-2.1zM787.1 406.3h2.1v2.1h-2.1zM802.4 425.4h2.1v2.1h-2.1zM803.6 420.9h2.1v2.1h-2.1zM819.6 420.9h2.1v2.1h-2.1zM801.5 407.4h2.1v2.1h-2.1zM793.4 408.1h2.1v2.1h-2.1zM829.3 417.7h2.1v2.1h-2.1zM777.7 430.5h2.1v2.1h-2.1zM798.5 423.9h2.1v2.1h-2.1zM799.3 406.6h2.1v2.1h-2.1zM841.2 411.3h2.1v2.1h-2.1zM835.6 415.4h2.1v2.1h-2.1zM781.2 422.6h2.1v2.1h-2.1zM777.8 400.6h2.1v2.1h-2.1zM833.4 425.4h2.1v2.1h-2.1zM839.5 404.0h2.1v2.1h-2.1zM803.8 427.7h2.1v2.1h-2.1zM818.0 470.2h2.1v2.1h-2.1zM843.4 467.1h2.1v2.1h-2.1zM783.6 468.6h2.1v2.1h-2.1zM815.8 467.8h2.1v2.1h-2.1zM856.9 473.2h2.1v2.1h-2.1zM805.8 468.4h2.1v2.1h-2.1zM817.5 470.3h2.1v2.1h-2.1zM842.1 469.8h2.1v2.1h-2.1zM846.3 467.2h2.1v2.1h-2.1zM824.9 470.3h2.1v2.1h-2.1zM813.8 468.7h2.1v2.1h-2.1zM789.4 472.6h2.1v2.1h-2.1zM805.0 468.4h2.1v2.1h-2.1zM843.1 472.4h2.1v2.1h-2.1zM800.7 470.0h2.1v2.1h-2.1zM792.9 471.5h2.1v2.1h-2.1zM828.3 468.2h2.1v2.1h-2.1zM834.2 471.8h2.1v2.1h-2.1zM824.9 469.9h2.1v2.1h-2.1zM783.5 472.4h2.1v2.1h-2.1zM824.8 470.9h2.1v2.1h-2.1zM805.0 468.3h2.1v2.1h-2.1zM852.7 467.9h2.1v2.1h-2.1zM790.5 467.3h2.1v2.1h-2.1zM850.9 471.0h2.1v2.1h-2.1zM779.0 470.6h2.1v2.1h-2.1zM804.6 467.5h2.1v2.1h-2.1zM829.0 472.9h2.1v2.1h-2.1zM845.3 469.4h2.1v2.1h-2.1zM796.3 468.9h2.1v2.1h-2.1zM779.4 473.9h2.1v2.1h-2.1zM768.4 421.6h2.1v2.1h-2.1zM776.1 421.3h2.1v2.1h-2.1zM753.8 432.4h2.1v2.1h-2.1zM756.8 442.0h2.1v2.1h-2.1zM761.6 414.1h2.1v2.1h-2.1z" fill="#ff4f28"/>
<path d="M834.6 303.9h2.1v2.1h-2.1zM847.2 322.2h2.1v2.1h-2.1zM835.9 320.0h2.1v2.1h-2.1zM853.2 293.1h2.1v2.1h-2.1zM820.0 309.7h2.1v2.1h-2.1zM830.9 322.3h2.1v2.1h-2.1zM845.9 308.6h2.1v2.1h-2.1zM848.3 309.4h2.1v2.1h-2.1zM828.6 297.8h2.1v2.1h-2.1zM821.6 301.8h2.1v2.1h-2.1zM832.3 318.6h2.1v2.1h-2.1zM857.5 322.9h2.1v2.1h-2.1zM817.0 297.2h2.1v2.1h-2.1zM811.0 322.0h2.1v2.1h-2.1zM824.6 311.3h2.1v2.1h-2.1zM841.2 303.7h2.1v2.1h-2.1zM815.0 310.8h2.1v2.1h-2.1zM826.1 304.5h2.1v2.1h-2.1zM818.5 300.5h2.1v2.1h-2.1zM820.2 307.8h2.1v2.1h-2.1zM859.2 297.6h2.1v2.1h-2.1zM821.7 323.2h2.1v2.1h-2.1zM825.0 302.4h2.1v2.1h-2.1zM811.2 306.9h2.1v2.1h-2.1zM824.7 306.6h2.1v2.1h-2.1zM848.4 308.4h2.1v2.1h-2.1zM812.9 312.7h2.1v2.1h-2.1zM814.7 324.0h2.1v2.1h-2.1zM835.0 299.7h2.1v2.1h-2.1zM842.3 320.7h2.1v2.1h-2.1zM822.8 301.3h2.1v2.1h-2.1zM831.6 306.8h2.1v2.1h-2.1zM830.0 309.7h2.1v2.1h-2.1zM839.0 299.1h2.1v2.1h-2.1zM840.1 314.6h2.1v2.1h-2.1zM851.0 316.3h2.1v2.1h-2.1zM859.6 311.9h2.1v2.1h-2.1zM834.4 320.8h2.1v2.1h-2.1zM833.2 308.8h2.1v2.1h-2.1zM826.2 299.2h2.1v2.1h-2.1zM840.3 321.7h2.1v2.1h-2.1zM849.4 323.0h2.1v2.1h-2.1zM852.5 319.4h2.1v2.1h-2.1zM814.7 319.3h2.1v2.1h-2.1zM848.9 305.9h2.1v2.1h-2.1zM812.0 298.1h2.1v2.1h-2.1zM837.7 294.2h2.1v2.1h-2.1zM818.1 308.6h2.1v2.1h-2.1zM826.6 303.2h2.1v2.1h-2.1zM846.7 297.9h2.1v2.1h-2.1zM851.4 306.3h2.1v2.1h-2.1zM815.3 303.0h2.1v2.1h-2.1zM816.0 318.1h2.1v2.1h-2.1zM822.5 298.7h2.1v2.1h-2.1zM849.2 317.9h2.1v2.1h-2.1zM819.8 320.5h2.1v2.1h-2.1zM840.3 323.5h2.1v2.1h-2.1zM859.8 305.0h2.1v2.1h-2.1zM851.1 312.6h2.1v2.1h-2.1zM851.8 301.4h2.1v2.1h-2.1zM828.4 314.3h2.1v2.1h-2.1zM822.4 296.0h2.1v2.1h-2.1zM847.0 315.5h2.1v2.1h-2.1zM857.7 310.6h2.1v2.1h-2.1zM839.1 296.5h2.1v2.1h-2.1zM858.7 304.0h2.1v2.1h-2.1zM845.7 310.5h2.1v2.1h-2.1zM823.4 305.1h2.1v2.1h-2.1zM821.7 321.4h2.1v2.1h-2.1zM814.3 302.3h2.1v2.1h-2.1zM853.7 295.1h2.1v2.1h-2.1zM822.2 319.3h2.1v2.1h-2.1zM816.2 319.9h2.1v2.1h-2.1zM852.5 308.4h2.1v2.1h-2.1zM830.8 300.2h2.1v2.1h-2.1zM826.3 307.9h2.1v2.1h-2.1zM822.8 302.6h2.1v2.1h-2.1zM859.1 321.4h2.1v2.1h-2.1zM836.8 320.8h2.1v2.1h-2.1zM841.4 294.3h2.1v2.1h-2.1zM832.7 299.3h2.1v2.1h-2.1zM815.5 296.4h2.1v2.1h-2.1zM843.5 309.3h2.1v2.1h-2.1zM854.0 311.3h2.1v2.1h-2.1zM826.8 303.1h2.1v2.1h-2.1zM842.0 308.5h2.1v2.1h-2.1zM828.8 315.8h2.1v2.1h-2.1zM849.6 302.5h2.1v2.1h-2.1zM814.6 303.1h2.1v2.1h-2.1zM827.6 316.8h2.1v2.1h-2.1zM850.2 316.3h2.1v2.1h-2.1zM809.4 317.4h2.1v2.1h-2.1zM814.6 311.0h2.1v2.1h-2.1zM808.5 316.7h2.1v2.1h-2.1zM795.4 315.1h2.1v2.1h-2.1zM812.4 307.1h2.1v2.1h-2.1zM806.9 301.2h2.1v2.1h-2.1zM813.7 304.3h2.1v2.1h-2.1zM816.7 308.5h2.1v2.1h-2.1zM815.6 314.2h2.1v2.1h-2.1zM790.1 306.5h2.1v2.1h-2.1zM793.0 308.4h2.1v2.1h-2.1zM802.7 309.5h2.1v2.1h-2.1zM805.2 318.7h2.1v2.1h-2.1zM812.1 305.5h2.1v2.1h-2.1zM800.6 309.2h2.1v2.1h-2.1zM801.4 301.3h2.1v2.1h-2.1zM790.4 310.6h2.1v2.1h-2.1zM808.5 307.0h2.1v2.1h-2.1zM796.9 312.3h2.1v2.1h-2.1zM802.3 317.8h2.1v2.1h-2.1zM804.0 307.8h2.1v2.1h-2.1zM789.6 308.5h2.1v2.1h-2.1zM807.4 308.5h2.1v2.1h-2.1zM795.2 317.5h2.1v2.1h-2.1zM803.9 317.9h2.1v2.1h-2.1zM825.3 174.0h2.1v2.1h-2.1zM823.6 180.9h2.1v2.1h-2.1zM826.3 166.2h2.1v2.1h-2.1zM829.0 166.3h2.1v2.1h-2.1zM824.0 171.8h2.1v2.1h-2.1zM846.9 239.3h2.1v2.1h-2.1zM809.5 237.0h2.1v2.1h-2.1zM836.7 240.2h2.1v2.1h-2.1zM837.0 244.6h2.1v2.1h-2.1zM801.6 244.3h2.1v2.1h-2.1zM797.5 242.6h2.1v2.1h-2.1zM831.1 239.7h2.1v2.1h-2.1zM774.9 439.3h2.1v2.1h-2.1zM821.3 448.6h2.1v2.1h-2.1zM838.3 447.2h2.1v2.1h-2.1zM776.1 446.4h2.1v2.1h-2.1zM851.5 452.8h2.1v2.1h-2.1zM787.3 456.0h2.1v2.1h-2.1zM849.0 443.1h2.1v2.1h-2.1zM786.6 448.2h2.1v2.1h-2.1zM807.9 442.4h2.1v2.1h-2.1zM825.4 429.0h2.1v2.1h-2.1zM808.6 442.4h2.1v2.1h-2.1zM853.5 447.0h2.1v2.1h-2.1zM860.7 427.4h2.1v2.1h-2.1zM823.9 447.2h2.1v2.1h-2.1zM860.2 436.5h2.1v2.1h-2.1zM787.9 427.2h2.1v2.1h-2.1zM797.5 436.2h2.1v2.1h-2.1zM787.0 450.7h2.1v2.1h-2.1zM832.0 429.9h2.1v2.1h-2.1zM858.4 437.0h2.1v2.1h-2.1zM837.7 440.1h2.1v2.1h-2.1zM843.4 408.4h2.1v2.1h-2.1zM841.8 421.1h2.1v2.1h-2.1zM826.6 410.5h2.1v2.1h-2.1zM813.9 404.2h2.1v2.1h-2.1zM834.6 429.5h2.1v2.1h-2.1zM785.3 424.9h2.1v2.1h-2.1zM834.8 406.3h2.1v2.1h-2.1zM790.9 399.6h2.1v2.1h-2.1zM791.0 415.9h2.1v2.1h-2.1zM795.0 425.7h2.1v2.1h-2.1zM779.5 416.9h2.1v2.1h-2.1zM817.9 415.0h2.1v2.1h-2.1zM828.2 410.9h2.1v2.1h-2.1zM844.8 473.4h2.1v2.1h-2.1zM847.8 475.7h2.1v2.1h-2.1zM843.5 475.0h2.1v2.1h-2.1zM854.5 475.8h2.1v2.1h-2.1zM842.5 475.6h2.1v2.1h-2.1zM847.9 473.8h2.1v2.1h-2.1zM846.0 474.9h2.1v2.1h-2.1zM830.0 470.2h2.1v2.1h-2.1zM790.0 470.4h2.1v2.1h-2.1zM785.1 469.9h2.1v2.1h-2.1zM819.1 468.3h2.1v2.1h-2.1zM784.2 468.1h2.1v2.1h-2.1zM824.1 470.5h2.1v2.1h-2.1zM805.5 469.3h2.1v2.1h-2.1zM797.7 473.0h2.1v2.1h-2.1zM836.8 472.2h2.1v2.1h-2.1zM795.2 467.2h2.1v2.1h-2.1zM836.6 470.6h2.1v2.1h-2.1zM824.5 467.4h2.1v2.1h-2.1zM794.8 470.0h2.1v2.1h-2.1zM851.1 472.1h2.1v2.1h-2.1zM826.3 472.8h2.1v2.1h-2.1zM835.1 471.1h2.1v2.1h-2.1zM789.8 469.3h2.1v2.1h-2.1z" fill="#e6ce74"/>
<path d="M845.7 301.2h2.1v2.1h-2.1zM814.6 313.5h2.1v2.1h-2.1zM853.7 315.4h2.1v2.1h-2.1zM851.9 296.3h2.1v2.1h-2.1zM830.7 317.1h2.1v2.1h-2.1zM852.3 324.9h2.1v2.1h-2.1zM840.1 305.4h2.1v2.1h-2.1zM837.8 319.4h2.1v2.1h-2.1zM854.4 315.3h2.1v2.1h-2.1zM823.7 320.5h2.1v2.1h-2.1zM820.3 322.6h2.1v2.1h-2.1zM829.2 298.3h2.1v2.1h-2.1zM840.2 321.0h2.1v2.1h-2.1zM838.6 311.0h2.1v2.1h-2.1zM860.3 309.7h2.1v2.1h-2.1zM831.4 306.0h2.1v2.1h-2.1zM817.8 315.2h2.1v2.1h-2.1zM828.1 308.5h2.1v2.1h-2.1zM860.2 308.2h2.1v2.1h-2.1zM831.5 319.7h2.1v2.1h-2.1zM847.4 300.4h2.1v2.1h-2.1zM852.3 322.6h2.1v2.1h-2.1zM825.0 305.8h2.1v2.1h-2.1zM830.4 310.5h2.1v2.1h-2.1zM808.4 318.2h2.1v2.1h-2.1zM814.3 312.9h2.1v2.1h-2.1zM798.0 308.7h2.1v2.1h-2.1zM802.4 309.2h2.1v2.1h-2.1zM795.5 311.3h2.1v2.1h-2.1zM816.0 309.3h2.1v2.1h-2.1zM796.2 342.3h2.1v2.1h-2.1zM826.1 341.9h2.1v2.1h-2.1zM821.0 339.6h2.1v2.1h-2.1zM824.7 331.4h2.1v2.1h-2.1zM831.3 336.5h2.1v2.1h-2.1zM797.1 331.4h2.1v2.1h-2.1zM818.3 330.9h2.1v2.1h-2.1zM819.6 332.4h2.1v2.1h-2.1zM823.7 342.8h2.1v2.1h-2.1zM804.4 338.0h2.1v2.1h-2.1zM825.5 334.9h2.1v2.1h-2.1zM807.3 340.7h2.1v2.1h-2.1zM839.3 336.4h2.1v2.1h-2.1zM825.5 329.4h2.1v2.1h-2.1zM834.9 162.4h2.1v2.1h-2.1zM829.2 173.7h2.1v2.1h-2.1zM807.5 170.9h2.1v2.1h-2.1zM816.1 164.7h2.1v2.1h-2.1zM824.1 168.2h2.1v2.1h-2.1zM826.6 169.8h2.1v2.1h-2.1zM833.7 162.8h2.1v2.1h-2.1zM829.3 171.4h2.1v2.1h-2.1zM800.0 209.4h2.1v2.1h-2.1zM788.0 234.4h2.1v2.1h-2.1zM784.2 442.4h2.1v2.1h-2.1zM828.4 443.3h2.1v2.1h-2.1zM855.8 453.5h2.1v2.1h-2.1zM829.3 432.6h2.1v2.1h-2.1zM785.9 434.9h2.1v2.1h-2.1zM831.9 431.5h2.1v2.1h-2.1zM784.7 433.9h2.1v2.1h-2.1zM808.0 431.4h2.1v2.1h-2.1zM781.1 455.0h2.1v2.1h-2.1zM772.0 446.3h2.1v2.1h-2.1zM825.5 444.1h2.1v2.1h-2.1zM838.0 434.1h2.1v2.1h-2.1zM772.9 444.6h2.1v2.1h-2.1zM822.2 414.2h2.1v2.1h-2.1zM829.0 422.1h2.1v2.1h-2.1zM782.4 415.5h2.1v2.1h-2.1zM787.1 416.4h2.1v2.1h-2.1zM778.9 402.1h2.1v2.1h-2.1zM813.0 406.7h2.1v2.1h-2.1zM799.0 423.2h2.1v2.1h-2.1zM821.9 405.1h2.1v2.1h-2.1zM792.9 419.0h2.1v2.1h-2.1zM792.0 420.8h2.1v2.1h-2.1zM801.2 424.9h2.1v2.1h-2.1zM828.1 426.9h2.1v2.1h-2.1zM824.0 424.5h2.1v2.1h-2.1zM834.2 411.7h2.1v2.1h-2.1zM813.5 417.3h2.1v2.1h-2.1zM797.4 400.5h2.1v2.1h-2.1zM790.2 403.6h2.1v2.1h-2.1zM839.7 412.7h2.1v2.1h-2.1zM777.4 416.0h2.1v2.1h-2.1zM806.4 407.5h2.1v2.1h-2.1zM802.8 400.2h2.1v2.1h-2.1zM824.8 406.0h2.1v2.1h-2.1zM841.5 400.2h2.1v2.1h-2.1zM816.9 416.9h2.1v2.1h-2.1zM821.7 400.6h2.1v2.1h-2.1zM814.0 417.0h2.1v2.1h-2.1zM779.6 430.9h2.1v2.1h-2.1zM782.3 399.3h2.1v2.1h-2.1zM831.6 414.3h2.1v2.1h-2.1zM810.9 430.1h2.1v2.1h-2.1zM815.3 416.2h2.1v2.1h-2.1zM778.3 407.2h2.1v2.1h-2.1zM786.7 413.6h2.1v2.1h-2.1zM843.0 419.0h2.1v2.1h-2.1zM831.5 399.4h2.1v2.1h-2.1zM800.4 429.2h2.1v2.1h-2.1zM835.7 421.9h2.1v2.1h-2.1zM798.6 410.2h2.1v2.1h-2.1zM811.8 415.5h2.1v2.1h-2.1zM824.3 425.8h2.1v2.1h-2.1zM841.1 409.1h2.1v2.1h-2.1zM790.3 401.8h2.1v2.1h-2.1zM832.3 400.2h2.1v2.1h-2.1zM787.6 429.4h2.1v2.1h-2.1zM780.5 415.5h2.1v2.1h-2.1zM841.2 467.4h2.1v2.1h-2.1zM822.3 470.0h2.1v2.1h-2.1zM781.6 467.2h2.1v2.1h-2.1zM810.9 473.4h2.1v2.1h-2.1zM799.4 473.1h2.1v2.1h-2.1zM850.2 470.8h2.1v2.1h-2.1zM829.8 468.6h2.1v2.1h-2.1zM818.5 473.1h2.1v2.1h-2.1zM782.3 470.3h2.1v2.1h-2.1zM842.0 468.8h2.1v2.1h-2.1zM818.8 473.8h2.1v2.1h-2.1zM816.4 470.7h2.1v2.1h-2.1zM819.1 473.5h2.1v2.1h-2.1zM842.1 468.7h2.1v2.1h-2.1zM783.6 467.4h2.1v2.1h-2.1zM806.5 470.0h2.1v2.1h-2.1zM850.0 469.0h2.1v2.1h-2.1zM810.1 467.5h2.1v2.1h-2.1zM825.4 473.9h2.1v2.1h-2.1zM790.7 472.2h2.1v2.1h-2.1zM852.3 471.6h2.1v2.1h-2.1zM802.7 471.6h2.1v2.1h-2.1zM839.6 470.8h2.1v2.1h-2.1zM753.2 456.5h2.1v2.1h-2.1zM754.2 451.0h2.1v2.1h-2.1zM767.5 424.0h2.1v2.1h-2.1zM775.5 404.4h2.1v2.1h-2.1zM752.0 399.9h2.1v2.1h-2.1zM767.4 452.7h2.1v2.1h-2.1zM759.3 414.5h2.1v2.1h-2.1zM756.3 414.0h2.1v2.1h-2.1zM753.3 449.8h2.1v2.1h-2.1zM757.3 420.4h2.1v2.1h-2.1zM760.9 419.9h2.1v2.1h-2.1zM774.5 427.3h2.1v2.1h-2.1zM758.5 453.3h2.1v2.1h-2.1z" fill="#ff964f"/>
<path d="M845.7 295.2h2.1v2.1h-2.1zM813.2 311.3h2.1v2.1h-2.1zM856.7 294.4h2.1v2.1h-2.1zM819.4 320.0h2.1v2.1h-2.1zM828.8 305.8h2.1v2.1h-2.1zM822.1 295.5h2.1v2.1h-2.1zM822.1 293.1h2.1v2.1h-2.1zM842.6 319.9h2.1v2.1h-2.1zM851.9 294.8h2.1v2.1h-2.1zM848.2 315.2h2.1v2.1h-2.1zM839.6 310.3h2.1v2.1h-2.1zM812.3 300.3h2.1v2.1h-2.1zM860.4 294.5h2.1v2.1h-2.1zM840.5 309.3h2.1v2.1h-2.1zM858.8 301.1h2.1v2.1h-2.1zM821.3 300.1h2.1v2.1h-2.1zM825.0 299.0h2.1v2.1h-2.1zM854.0 314.0h2.1v2.1h-2.1zM811.6 301.9h2.1v2.1h-2.1zM839.3 304.0h2.1v2.1h-2.1zM824.7 306.0h2.1v2.1h-2.1zM824.9 301.1h2.1v2.1h-2.1zM844.6 322.9h2.1v2.1h-2.1zM859.9 317.9h2.1v2.1h-2.1zM818.6 293.2h2.1v2.1h-2.1zM811.8 308.4h2.1v2.1h-2.1zM852.7 297.3h2.1v2.1h-2.1zM830.5 304.6h2.1v2.1h-2.1zM829.6 306.5h2.1v2.1h-2.1zM811.8 320.3h2.1v2.1h-2.1zM815.5 306.1h2.1v2.1h-2.1zM798.1 308.3h2.1v2.1h-2.1zM807.0 309.9h2.1v2.1h-2.1zM797.2 314.3h2.1v2.1h-2.1zM807.1 317.4h2.1v2.1h-2.1zM796.5 306.4h2.1v2.1h-2.1zM803.5 319.4h2.1v2.1h-2.1zM789.5 308.7h2.1v2.1h-2.1zM792.2 314.2h2.1v2.1h-2.1zM792.7 306.3h2.1v2.1h-2.1zM793.3 314.3h2.1v2.1h-2.1zM800.1 316.5h2.1v2.1h-2.1zM801.2 316.0h2.1v2.1h-2.1zM800.5 304.6h2.1v2.1h-2.1zM810.7 317.5h2.1v2.1h-2.1zM804.5 300.6h2.1v2.1h-2.1zM794.8 307.0h2.1v2.1h-2.1zM840.0 290.9h2.1v2.1h-2.1zM814.6 168.2h2.1v2.1h-2.1zM826.9 158.9h2.1v2.1h-2.1zM828.7 196.4h2.1v2.1h-2.1zM800.9 240.1h2.1v2.1h-2.1zM822.1 247.0h2.1v2.1h-2.1zM788.4 241.7h2.1v2.1h-2.1zM792.5 249.6h2.1v2.1h-2.1zM803.8 248.0h2.1v2.1h-2.1zM815.9 247.9h2.1v2.1h-2.1zM853.8 243.0h2.1v2.1h-2.1zM794.0 442.2h2.1v2.1h-2.1zM795.7 445.7h2.1v2.1h-2.1zM798.6 437.6h2.1v2.1h-2.1zM859.3 455.0h2.1v2.1h-2.1zM836.5 450.6h2.1v2.1h-2.1zM852.1 445.8h2.1v2.1h-2.1zM826.5 433.1h2.1v2.1h-2.1zM774.6 443.4h2.1v2.1h-2.1zM802.6 456.7h2.1v2.1h-2.1zM783.4 433.6h2.1v2.1h-2.1zM814.2 441.4h2.1v2.1h-2.1zM779.0 437.9h2.1v2.1h-2.1zM834.5 405.4h2.1v2.1h-2.1zM797.3 406.2h2.1v2.1h-2.1zM841.7 422.5h2.1v2.1h-2.1zM797.4 405.1h2.1v2.1h-2.1zM834.0 407.3h2.1v2.1h-2.1zM800.3 425.6h2.1v2.1h-2.1zM833.2 412.1h2.1v2.1h-2.1zM827.3 404.0h2.1v2.1h-2.1zM797.7 401.6h2.1v2.1h-2.1zM805.4 400.7h2.1v2.1h-2.1zM841.6 408.1h2.1v2.1h-2.1zM837.7 402.3h2.1v2.1h-2.1zM830.1 420.6h2.1v2.1h-2.1zM777.0 420.5h2.1v2.1h-2.1zM799.3 426.2h2.1v2.1h-2.1zM790.8 405.4h2.1v2.1h-2.1zM826.3 428.6h2.1v2.1h-2.1zM838.3 421.1h2.1v2.1h-2.1zM784.9 406.9h2.1v2.1h-2.1zM848.6 467.2h2.1v2.1h-2.1zM819.9 466.8h2.1v2.1h-2.1zM801.7 466.9h2.1v2.1h-2.1zM848.3 464.8h2.1v2.1h-2.1zM795.9 466.1h2.1v2.1h-2.1zM834.2 465.5h2.1v2.1h-2.1zM799.9 465.3h2.1v2.1h-2.1zM829.8 467.2h2.1v2.1h-2.1zM828.7 466.1h2.1v2.1h-2.1zM825.1 467.1h2.1v2.1h-2.1zM782.9 473.6h2.1v2.1h-2.1zM832.1 473.6h2.1v2.1h-2.1zM809.8 474.7h2.1v2.1h-2.1zM826.7 468.1h2.1v2.1h-2.1zM853.0 468.8h2.1v2.1h-2.1zM780.5 468.2h2.1v2.1h-2.1zM841.7 471.4h2.1v2.1h-2.1zM753.7 461.3h2.1v2.1h-2.1zM771.0 400.9h2.1v2.1h-2.1zM768.0 433.0h2.1v2.1h-2.1z" fill="#99fca5"/>
<path d="M842.2 301.6h2.1v2.1h-2.1zM843.5 316.2h2.1v2.1h-2.1zM853.7 316.4h2.1v2.1h-2.1zM838.6 315.5h2.1v2.1h-2.1zM859.3 296.6h2.1v2.1h-2.1zM821.6 299.5h2.1v2.1h-2.1zM817.3 315.4h2.1v2.1h-2.1zM811.8 318.3h2.1v2.1h-2.1zM848.0 316.5h2.1v2.1h-2.1zM857.9 316.8h2.1v2.1h-2.1zM833.3 305.4h2.1v2.1h-2.1zM845.4 308.9h2.1v2.1h-2.1zM841.7 321.3h2.1v2.1h-2.1zM826.7 318.6h2.1v2.1h-2.1zM831.9 295.6h2.1v2.1h-2.1zM822.7 307.1h2.1v2.1h-2.1zM850.1 316.8h2.1v2.1h-2.1zM852.8 301.1h2.1v2.1h-2.1zM852.6 318.7h2.1v2.1h-2.1zM812.6 321.4h2.1v2.1h-2.1zM834.3 321.4h2.1v2.1h-2.1zM815.7 320.3h2.1v2.1h-2.1zM835.6 308.5h2.1v2.1h-2.1zM832.5 311.2h2.1v2.1h-2.1zM840.5 314.7h2.1v2.1h-2.1zM826.8 309.8h2.1v2.1h-2.1zM811.1 324.9h2.1v2.1h-2.1zM813.6 297.4h2.1v2.1h-2.1zM824.3 314.7h2.1v2.1h-2.1zM819.3 296.1h2.1v2.1h-2.1zM845.7 295.2h2.1v2.1h-2.1zM825.0 316.7h2.1v2.1h-2.1zM856.0 294.7h2.1v2.1h-2.1zM854.4 319.1h2.1v2.1h-2.1zM853.2 306.4h2.1v2.1h-2.1zM857.4 312.6h2.1v2.1h-2.1zM800.0 318.4h2.1v2.1h-2.1zM802.2 318.2h2.1v2.1h-2.1zM813.6 304.2h2.1v2.1h-2.1zM790.4 306.3h2.1v2.1h-2.1zM795.9 304.7h2.1v2.1h-2.1zM798.5 312.8h2.1v2.1h-2.1zM809.5 309.3h2.1v2.1h-2.1zM809.6 302.8h2.1v2.1h-2.1zM785.0 336.3h2.1v2.1h-2.1zM830.0 287.9h2.1v2.1h-2.1zM835.0 288.4h2.1v2.1h-2.1zM831.0 290.9h2.1v2.1h-2.1zM790.0 315.9h2.1v2.1h-2.1zM857.0 168.6h2.1v2.1h-2.1zM828.0 158.6h2.1v2.1h-2.1zM832.3 179.2h2.1v2.1h-2.1zM840.9 165.1h2.1v2.1h-2.1zM832.1 181.0h2.1v2.1h-2.1zM802.1 157.5h2.1v2.1h-2.1zM841.1 157.7h2.1v2.1h-2.1zM845.1 174.5h2.1v2.1h-2.1zM817.0 179.6h2.1v2.1h-2.1zM823.3 166.3h2.1v2.1h-2.1zM814.2 157.9h2.1v2.1h-2.1zM810.9 181.2h2.1v2.1h-2.1zM815.4 171.5h2.1v2.1h-2.1zM815.4 166.7h2.1v2.1h-2.1zM818.1 168.7h2.1v2.1h-2.1zM816.4 164.3h2.1v2.1h-2.1zM800.0 192.4h2.1v2.1h-2.1zM811.0 205.9h2.1v2.1h-2.1zM816.0 202.9h2.1v2.1h-2.1zM856.5 244.5h2.1v2.1h-2.1zM812.0 238.0h2.1v2.1h-2.1zM819.9 245.0h2.1v2.1h-2.1zM859.0 242.4h2.1v2.1h-2.1zM842.3 235.4h2.1v2.1h-2.1zM852.4 243.3h2.1v2.1h-2.1zM791.2 247.2h2.1v2.1h-2.1zM801.5 246.3h2.1v2.1h-2.1zM847.0 239.9h2.1v2.1h-2.1zM826.2 236.9h2.1v2.1h-2.1zM828.4 236.2h2.1v2.1h-2.1zM821.1 237.3h2.1v2.1h-2.1zM831.9 240.4h2.1v2.1h-2.1zM820.0 238.1h2.1v2.1h-2.1zM828.1 239.3h2.1v2.1h-2.1zM829.6 237.4h2.1v2.1h-2.1zM830.7 236.0h2.1v2.1h-2.1zM828.5 241.0h2.1v2.1h-2.1zM823.5 238.6h2.1v2.1h-2.1zM829.5 237.7h2.1v2.1h-2.1zM830.5 239.8h2.1v2.1h-2.1zM828.0 238.5h2.1v2.1h-2.1zM827.6 236.2h2.1v2.1h-2.1zM819.2 238.1h2.1v2.1h-2.1zM834.0 237.2h2.1v2.1h-2.1zM831.9 239.1h2.1v2.1h-2.1zM790.0 245.9h2.1v2.1h-2.1zM792.0 248.9h2.1v2.1h-2.1zM821.4 439.3h2.1v2.1h-2.1zM826.0 445.3h2.1v2.1h-2.1zM790.6 453.7h2.1v2.1h-2.1zM801.9 453.0h2.1v2.1h-2.1zM835.9 439.3h2.1v2.1h-2.1zM816.5 439.7h2.1v2.1h-2.1zM849.9 430.5h2.1v2.1h-2.1zM788.8 425.4h2.1v2.1h-2.1zM831.6 419.5h2.1v2.1h-2.1zM777.0 420.9h2.1v2.1h-2.1zM789.5 401.4h2.1v2.1h-2.1zM794.8 424.1h2.1v2.1h-2.1zM840.0 400.6h2.1v2.1h-2.1zM835.9 407.8h2.1v2.1h-2.1zM792.6 429.2h2.1v2.1h-2.1zM824.0 400.0h2.1v2.1h-2.1zM793.7 410.9h2.1v2.1h-2.1zM788.4 412.6h2.1v2.1h-2.1zM821.5 423.7h2.1v2.1h-2.1zM800.9 427.5h2.1v2.1h-2.1zM814.6 404.1h2.1v2.1h-2.1zM838.3 410.4h2.1v2.1h-2.1zM835.3 415.2h2.1v2.1h-2.1zM810.8 427.5h2.1v2.1h-2.1zM831.8 414.2h2.1v2.1h-2.1zM777.9 426.2h2.1v2.1h-2.1zM818.4 420.6h2.1v2.1h-2.1zM790.4 466.1h2.1v2.1h-2.1zM845.2 464.9h2.1v2.1h-2.1zM797.3 464.5h2.1v2.1h-2.1zM813.9 475.6h2.1v2.1h-2.1zM796.2 473.6h2.1v2.1h-2.1zM823.7 473.3h2.1v2.1h-2.1zM795.2 474.3h2.1v2.1h-2.1zM794.3 475.8h2.1v2.1h-2.1zM821.9 473.7h2.1v2.1h-2.1zM810.0 468.1h2.1v2.1h-2.1zM837.9 467.1h2.1v2.1h-2.1zM844.1 467.7h2.1v2.1h-2.1zM843.0 471.4h2.1v2.1h-2.1zM821.8 471.5h2.1v2.1h-2.1zM784.2 468.1h2.1v2.1h-2.1zM845.5 471.2h2.1v2.1h-2.1zM754.1 449.3h2.1v2.1h-2.1z" fill="#33e3da"/>
<path d="M820.5 313.7h2.1v2.1h-2.1zM851.9 306.2h2.1v2.1h-2.1zM852.6 315.6h2.1v2.1h-2.1zM856.6 296.1h2.1v2.1h-2.1zM806.7 311.0h2.1v2.1h-2.1zM811.5 306.1h2.1v2.1h-2.1zM808.8 312.7h2.1v2.1h-2.1zM808.7 317.3h2.1v2.1h-2.1zM811.2 314.0h2.1v2.1h-2.1zM803.5 316.9h2.1v2.1h-2.1zM804.3 318.0h2.1v2.1h-2.1zM806.3 302.6h2.1v2.1h-2.1zM808.7 311.3h2.1v2.1h-2.1zM792.0 313.9h2.1v2.1h-2.1zM807.3 317.6h2.1v2.1h-2.1zM804.0 318.1h2.1v2.1h-2.1zM816.0 289.4h2.1v2.1h-2.1zM818.5 290.9h2.1v2.1h-2.1zM812.5 291.1h2.1v2.1h-2.1zM833.0 288.9h2.1v2.1h-2.1zM788.5 312.9h2.1v2.1h-2.1zM787.0 311.4h2.1v2.1h-2.1zM816.9 180.6h2.1v2.1h-2.1zM826.0 170.4h2.1v2.1h-2.1zM835.2 162.1h2.1v2.1h-2.1zM818.6 168.5h2.1v2.1h-2.1zM807.8 157.0h2.1v2.1h-2.1zM854.8 171.8h2.1v2.1h-2.1zM811.0 179.5h2.1v2.1h-2.1zM822.9 162.2h2.1v2.1h-2.1zM805.0 167.6h2.1v2.1h-2.1zM845.3 173.4h2.1v2.1h-2.1zM839.4 169.2h2.1v2.1h-2.1zM847.4 167.8h2.1v2.1h-2.1zM832.4 182.8h2.1v2.1h-2.1zM831.4 183.2h2.1v2.1h-2.1zM809.7 161.0h2.1v2.1h-2.1zM821.7 182.6h2.1v2.1h-2.1zM837.3 163.4h2.1v2.1h-2.1zM788.9 247.2h2.1v2.1h-2.1zM800.0 240.7h2.1v2.1h-2.1zM806.9 243.3h2.1v2.1h-2.1zM845.8 247.2h2.1v2.1h-2.1zM855.7 240.6h2.1v2.1h-2.1zM821.1 249.9h2.1v2.1h-2.1zM789.0 229.9h2.1v2.1h-2.1zM778.3 411.6h2.1v2.1h-2.1zM822.3 407.2h2.1v2.1h-2.1zM827.8 430.3h2.1v2.1h-2.1zM788.9 410.7h2.1v2.1h-2.1zM802.1 419.7h2.1v2.1h-2.1zM806.0 422.8h2.1v2.1h-2.1zM777.6 408.7h2.1v2.1h-2.1zM835.2 430.8h2.1v2.1h-2.1zM836.5 419.6h2.1v2.1h-2.1zM786.0 466.1h2.1v2.1h-2.1zM806.0 466.7h2.1v2.1h-2.1zM796.9 465.0h2.1v2.1h-2.1zM827.0 465.3h2.1v2.1h-2.1zM788.4 466.1h2.1v2.1h-2.1zM828.4 464.7h2.1v2.1h-2.1zM837.7 466.5h2.1v2.1h-2.1zM809.6 466.9h2.1v2.1h-2.1zM794.1 466.0h2.1v2.1h-2.1zM817.1 464.7h2.1v2.1h-2.1zM817.1 465.2h2.1v2.1h-2.1zM791.0 466.8h2.1v2.1h-2.1zM846.9 466.8h2.1v2.1h-2.1zM836.1 465.5h2.1v2.1h-2.1zM819.3 464.8h2.1v2.1h-2.1zM803.2 466.1h2.1v2.1h-2.1zM855.9 466.6h2.1v2.1h-2.1zM823.4 465.4h2.1v2.1h-2.1zM851.9 466.8h2.1v2.1h-2.1zM847.8 466.2h2.1v2.1h-2.1zM845.6 465.7h2.1v2.1h-2.1zM783.9 464.7h2.1v2.1h-2.1zM851.9 475.7h2.1v2.1h-2.1zM825.8 474.4h2.1v2.1h-2.1zM830.4 473.6h2.1v2.1h-2.1zM836.2 475.6h2.1v2.1h-2.1zM792.8 474.2h2.1v2.1h-2.1zM797.2 474.2h2.1v2.1h-2.1zM836.8 473.6h2.1v2.1h-2.1zM798.0 474.6h2.1v2.1h-2.1zM838.8 474.6h2.1v2.1h-2.1zM799.1 473.6h2.1v2.1h-2.1zM789.6 473.0h2.1v2.1h-2.1zM754.3 440.3h2.1v2.1h-2.1zM764.8 406.7h2.1v2.1h-2.1zM765.2 410.1h2.1v2.1h-2.1zM828.0 584.4h2.1v2.1h-2.1z" fill="#8000ff"/>
<path d="M842.9 306.7h2.1v2.1h-2.1zM852.8 315.3h2.1v2.1h-2.1zM827.7 307.4h2.1v2.1h-2.1zM854.0 322.2h2.1v2.1h-2.1zM812.0 310.4h2.1v2.1h-2.1zM809.0 310.0h2.1v2.1h-2.1zM805.7 311.4h2.1v2.1h-2.1zM813.9 316.0h2.1v2.1h-2.1zM802.5 315.0h2.1v2.1h-2.1zM792.8 304.7h2.1v2.1h-2.1zM805.6 317.5h2.1v2.1h-2.1zM788.6 312.5h2.1v2.1h-2.1zM796.4 310.4h2.1v2.1h-2.1zM810.9 317.1h2.1v2.1h-2.1zM800.0 372.4h2.1v2.1h-2.1zM817.8 372.4h2.1v2.1h-2.1zM828.2 372.4h2.1v2.1h-2.1zM829.8 373.4h2.1v2.1h-2.1zM842.6 371.9h2.1v2.1h-2.1zM835.1 183.7h2.1v2.1h-2.1zM832.0 180.2h2.1v2.1h-2.1zM829.2 181.6h2.1v2.1h-2.1zM804.4 174.5h2.1v2.1h-2.1zM855.3 165.6h2.1v2.1h-2.1zM828.2 159.3h2.1v2.1h-2.1zM831.6 162.4h2.1v2.1h-2.1zM821.8 173.5h2.1v2.1h-2.1zM823.7 234.2h2.1v2.1h-2.1zM790.0 247.0h2.1v2.1h-2.1zM803.7 236.5h2.1v2.1h-2.1zM838.3 237.9h2.1v2.1h-2.1zM857.7 244.5h2.1v2.1h-2.1zM814.8 241.1h2.1v2.1h-2.1zM792.7 242.2h2.1v2.1h-2.1zM830.7 238.9h2.1v2.1h-2.1zM828.2 238.2h2.1v2.1h-2.1zM827.7 236.7h2.1v2.1h-2.1zM819.4 238.3h2.1v2.1h-2.1zM829.3 241.0h2.1v2.1h-2.1zM831.8 236.3h2.1v2.1h-2.1zM828.7 241.1h2.1v2.1h-2.1zM824.2 239.0h2.1v2.1h-2.1zM830.1 239.1h2.1v2.1h-2.1zM831.3 238.5h2.1v2.1h-2.1zM804.6 410.4h2.1v2.1h-2.1zM797.0 401.9h2.1v2.1h-2.1zM832.4 417.8h2.1v2.1h-2.1zM807.2 409.3h2.1v2.1h-2.1zM834.2 420.5h2.1v2.1h-2.1zM837.3 406.1h2.1v2.1h-2.1zM829.6 405.4h2.1v2.1h-2.1zM785.6 401.8h2.1v2.1h-2.1zM824.6 430.7h2.1v2.1h-2.1zM809.3 402.6h2.1v2.1h-2.1zM821.7 412.8h2.1v2.1h-2.1zM805.8 404.0h2.1v2.1h-2.1zM815.5 428.8h2.1v2.1h-2.1zM820.1 414.1h2.1v2.1h-2.1zM778.3 430.5h2.1v2.1h-2.1zM790.3 412.5h2.1v2.1h-2.1zM818.0 407.4h2.1v2.1h-2.1zM798.0 417.0h2.1v2.1h-2.1zM801.9 466.1h2.1v2.1h-2.1zM817.4 466.5h2.1v2.1h-2.1zM844.9 466.3h2.1v2.1h-2.1zM810.6 466.1h2.1v2.1h-2.1zM798.7 465.5h2.1v2.1h-2.1zM840.0 465.2h2.1v2.1h-2.1zM807.6 466.3h2.1v2.1h-2.1zM802.9 466.5h2.1v2.1h-2.1zM794.6 466.9h2.1v2.1h-2.1zM846.6 466.1h2.1v2.1h-2.1zM788.7 466.7h2.1v2.1h-2.1zM843.3 466.3h2.1v2.1h-2.1zM843.4 465.8h2.1v2.1h-2.1zM790.2 474.0h2.1v2.1h-2.1zM807.6 473.7h2.1v2.1h-2.1zM820.6 474.8h2.1v2.1h-2.1zM781.1 473.5h2.1v2.1h-2.1zM814.7 474.4h2.1v2.1h-2.1zM834.0 473.5h2.1v2.1h-2.1zM798.0 473.3h2.1v2.1h-2.1zM790.6 473.2h2.1v2.1h-2.1zM828.2 475.6h2.1v2.1h-2.1zM801.9 469.7h2.1v2.1h-2.1zM841.2 472.9h2.1v2.1h-2.1zM819.2 473.4h2.1v2.1h-2.1zM800.9 471.0h2.1v2.1h-2.1zM852.1 469.5h2.1v2.1h-2.1zM817.8 473.6h2.1v2.1h-2.1zM813.1 472.0h2.1v2.1h-2.1zM827.0 472.1h2.1v2.1h-2.1z" fill="#1a96f2"/>
<path d="M791.2 312.5h2.1v2.1h-2.1zM813.6 312.9h2.1v2.1h-2.1zM810.0 308.7h2.1v2.1h-2.1zM805.3 311.5h2.1v2.1h-2.1zM802.6 309.5h2.1v2.1h-2.1zM797.2 307.4h2.1v2.1h-2.1zM781.0 336.3h2.1v2.1h-2.1zM797.0 337.9h2.1v2.1h-2.1zM803.0 192.9h2.1v2.1h-2.1zM809.0 203.9h2.1v2.1h-2.1zM822.5 204.4h2.1v2.1h-2.1zM790.0 187.9h2.1v2.1h-2.1zM849.0 224.9h2.1v2.1h-2.1zM823.9 465.0h2.1v2.1h-2.1zM784.3 464.8h2.1v2.1h-2.1zM789.5 465.5h2.1v2.1h-2.1zM847.0 465.2h2.1v2.1h-2.1zM837.2 465.8h2.1v2.1h-2.1zM849.3 467.2h2.1v2.1h-2.1zM795.9 465.1h2.1v2.1h-2.1zM832.0 464.9h2.1v2.1h-2.1zM802.4 466.2h2.1v2.1h-2.1zM851.0 467.0h2.1v2.1h-2.1zM804.0 465.2h2.1v2.1h-2.1zM831.9 467.0h2.1v2.1h-2.1zM825.3 473.7h2.1v2.1h-2.1zM798.0 474.5h2.1v2.1h-2.1zM842.8 474.8h2.1v2.1h-2.1zM856.8 475.4h2.1v2.1h-2.1zM786.9 475.2h2.1v2.1h-2.1zM844.5 475.6h2.1v2.1h-2.1zM845.0 474.2h2.1v2.1h-2.1zM842.5 473.7h2.1v2.1h-2.1zM815.7 475.6h2.1v2.1h-2.1zM848.5 475.5h2.1v2.1h-2.1zM833.5 474.5h2.1v2.1h-2.1zM815.3 474.9h2.1v2.1h-2.1zM834.0 475.3h2.1v2.1h-2.1zM798.2 474.8h2.1v2.1h-2.1z" fill="#4d4ffc"/></g>
<text x="769.2" y="84.0" font-size="10" fill="#ff0000">6</text>
<text x="782.8" y="84.0" font-size="10" fill="#ff0000">:</text>
<text x="832.3" y="84.0" font-size="10" fill="#ff0000" text-anchor="end">26835</text>
<text x="769.2" y="94.3" font-size="10" fill="#000">7</text>
<text x="782.8" y="94.3" font-size="10" fill="#000">:</text>
<text x="832.3" y="94.3" font-size="10" fill="#000" text-anchor="end">14514</text>
<text x="769.2" y="104.6" font-size="10" fill="#000">8</text>
<text x="782.8" y="104.6" font-size="10" fill="#000">:</text>
<text x="829.0" y="104.6" font-size="10" fill="#000" text-anchor="end">6209</text>
<text x="769.2" y="114.9" font-size="10" fill="#000">9</text>
<text x="782.8" y="114.9" font-size="10" fill="#000">:</text>
<text x="829.0" y="114.9" font-size="10" fill="#000" text-anchor="end">1962</text>
<text x="766.0" y="125.2" font-size="10" fill="#000">10</text>
<text x="786.2" y="125.2" font-size="10" fill="#000">:</text>
<text x="822.6" y="125.2" font-size="10" fill="#000" text-anchor="end">0</text>
<text x="766.0" y="135.5" font-size="10" fill="#000">11</text>
<text x="786.2" y="135.5" font-size="10" fill="#000">:</text>
<text x="822.6" y="135.5" font-size="10" fill="#000" text-anchor="end">0</text>
<text x="766.0" y="145.8" font-size="10" fill="#000">12</text>
<text x="786.2" y="145.8" font-size="10" fill="#000">:</text>
<text x="822.6" y="145.8" font-size="10" fill="#000" text-anchor="end">0</text>
<text x="219.3" y="52.0" font-size="10">15</text>
<text x="219.3" y="87.2" font-size="10">10</text>
<text x="219.3" y="122.5" font-size="10">5</text>
<text x="219.3" y="157.2" font-size="10">0</text>
<text x="186.2" y="104.8" font-size="12" letter-spacing="-0.5">Km</text>
<text x="234.2" y="655.3" font-size="10" text-anchor="end">40°N</text>
<text x="234.2" y="607.5" font-size="10" text-anchor="end">40.5°N</text>
<text x="234.2" y="559.3" font-size="10" text-anchor="end">41°N</text>
<text x="234.2" y="510.7" font-size="10" text-anchor="end">41.5°N</text>
<text x="234.2" y="461.8" font-size="10" text-anchor="end">42°N</text>
<text x="234.2" y="412.5" font-size="10" text-anchor="end">42.5°N</text>
<text x="234.2" y="362.8" font-size="10" text-anchor="end">43°N</text>
<text x="234.2" y="312.7" font-size="10" text-anchor="end">43.5°N</text>
<text x="234.2" y="262.2" font-size="10" text-anchor="end">44°N</text>
<text x="234.2" y="211.2" font-size="10" text-anchor="end">44.5°N</text>
<text x="241.5" y="667.0" font-size="10" text-anchor="middle">5°E</text>
<text x="278.0" y="667.0" font-size="10" text-anchor="middle">5.5°E</text>
<text x="314.5" y="667.0" font-size="10" text-anchor="middle">6°E</text>
<text x="351.0" y="667.0" font-size="10" text-anchor="middle">6.5°E</text>
<text x="387.5" y="667.0" font-size="10" text-anchor="middle">7°E</text>
<text x="424.0" y="667.0" font-size="10" text-anchor="middle">7.5°E</text>
<text x="460.5" y="667.0" font-size="10" text-anchor="middle">8°E</text>
<text x="497.0" y="667.0" font-size="10" text-anchor="middle">8.5°E</text>
<text x="533.5" y="667.0" font-size="10" text-anchor="middle">9°E</text>
<text x="570.0" y="667.0" font-size="10" text-anchor="middle">9.5°E</text>
<text x="606.5" y="667.0" font-size="10" text-anchor="middle">10°E</text>
<text x="643.0" y="667.0" font-size="10" text-anchor="middle">10.5°E</text>
<text x="679.5" y="667.0" font-size="10" text-anchor="middle">11°E</text>
<text x="716.0" y="667.0" font-size="10" text-anchor="middle">11.5°E</text>
<text x="752.3" y="667.2" font-size="10">0</text>
<text x="788.8" y="667.2" font-size="10">5</text>
<text x="825.0" y="667.2" font-size="10">10</text>
<text x="862.2" y="667.2" font-size="10">15</text>
<text x="807.3" y="676.0" font-size="12" letter-spacing="-0.5">Km</text>
<rect x="158.5" y="690.5" width="786.5" height="37.5" fill="url(#cb)" stroke="#000" stroke-width="1"/>
<line x1="158.5" y1="728" x2="158.5" y2="731.5" stroke="#000" stroke-width="0.9"/>
<text x="158.5" y="742.6" font-size="10" text-anchor="middle">0</text>
<line x1="315.8" y1="728" x2="315.8" y2="731.5" stroke="#000" stroke-width="0.9"/>
<text x="315.8" y="742.6" font-size="10" text-anchor="middle">2</text>
<line x1="473.1" y1="728" x2="473.1" y2="731.5" stroke="#000" stroke-width="0.9"/>
<text x="473.1" y="742.6" font-size="10" text-anchor="middle">4</text>
<line x1="630.4" y1="728" x2="630.4" y2="731.5" stroke="#000" stroke-width="0.9"/>
<text x="630.4" y="742.6" font-size="10" text-anchor="middle">6</text>
<line x1="787.7" y1="728" x2="787.7" y2="731.5" stroke="#000" stroke-width="0.9"/>
<text x="787.7" y="742.6" font-size="10" text-anchor="middle">8</text>
<line x1="945.0" y1="728" x2="945.0" y2="731.5" stroke="#000" stroke-width="0.9"/>
<text x="945.0" y="742.6" font-size="10" text-anchor="middle">10</text>
<text x="557" y="718.5" font-size="18.8" text-anchor="middle">from 14:10:00 to 14:19:59</text>
</svg></body></html>
